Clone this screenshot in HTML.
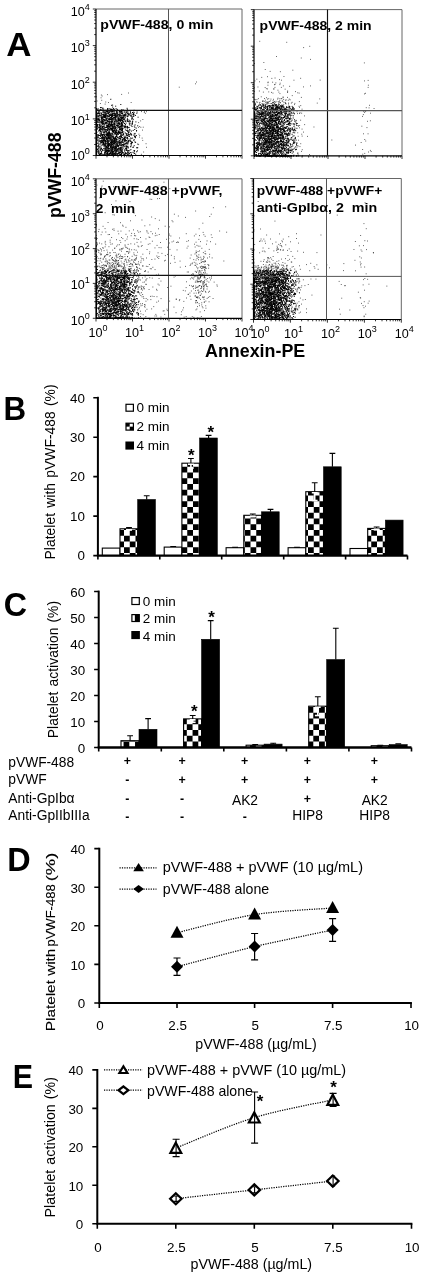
<!DOCTYPE html>
<html><head><meta charset="utf-8"><title>Figure</title>
<style>html,body{margin:0;padding:0;background:#fff}svg{display:block}text{font-family:'Liberation Sans', Arial, sans-serif;fill:#000}</style>
</head><body>
<svg width="423" height="1280" viewBox="0 0 423 1280">
<rect width="423" height="1280" fill="#fff"/>
<path d="M134.6 124.9h1M114.4 111.9h1M121.7 126.3h1M97.2 124.3h1M100.3 130.1h1M119.8 128.1h1M96.6 125.3h1M120.8 112.0h1M105.9 146.5h1M111.6 125.1h1M119.2 154.2h1M117.0 145.9h1M108.3 113.7h1M113.4 140.5h1M119.5 129.8h1M107.4 150.5h1M125.2 137.6h1M121.1 154.0h1M107.7 134.8h1M125.8 110.6h1M96.8 128.9h1M96.0 126.2h1M117.7 132.0h1M104.1 144.0h1M108.2 126.4h1M110.3 139.9h1M104.7 142.2h1M128.1 134.1h1M112.5 111.2h1M106.5 120.2h1M106.0 127.5h1M117.7 151.6h1M97.1 122.0h1M107.8 136.9h1M107.8 126.3h1M107.9 124.9h1M104.9 117.9h1M96.3 155.5h1M116.1 150.2h1M98.5 147.3h1M122.7 145.9h1M126.6 126.7h1M112.5 154.4h1M134.0 151.2h1M121.1 132.1h1M113.3 151.9h1M108.8 123.5h1M108.7 141.7h1M117.2 145.1h1M116.3 130.1h1M112.3 115.8h1M114.7 142.3h1M96.0 147.0h1M108.0 143.0h1M111.1 123.9h1M98.5 115.2h1M112.9 147.4h1M96.0 155.5h1M122.9 144.4h1M98.4 141.6h1M110.8 122.0h1M121.5 124.7h1M117.8 120.2h1M100.4 138.5h1M103.7 135.4h1M111.5 115.6h1M111.5 155.5h1M96.0 155.5h1M125.3 155.5h1M109.6 118.8h1M122.9 134.8h1M116.8 125.5h1M118.6 124.2h1M120.3 120.3h1M100.2 135.8h1M126.7 141.0h1M134.1 150.6h1M120.5 139.1h1M107.6 148.6h1M99.6 115.4h1M111.6 121.8h1M123.9 141.8h1M105.8 131.5h1M107.5 135.2h1M129.1 129.7h1M117.3 116.4h1M115.6 144.2h1M128.3 127.4h1M108.5 131.2h1M98.1 146.9h1M112.4 124.5h1M103.1 155.5h1M119.0 128.9h1M110.9 109.5h1M114.8 120.0h1M96.0 155.2h1M97.4 109.4h1M96.0 128.4h1M96.0 131.9h1M133.2 110.8h1M119.1 127.2h1M130.4 149.6h1M117.5 120.8h1M96.5 138.8h1M96.0 148.7h1M114.8 137.8h1M113.5 155.3h1M119.3 152.7h1M119.9 149.7h1M130.6 134.5h1M108.9 143.5h1M130.2 152.5h1M106.5 120.4h1M110.6 123.7h1M121.8 121.9h1M97.6 148.7h1M117.5 125.9h1M127.7 147.0h1M99.9 135.2h1M103.5 139.3h1M119.9 131.9h1M107.3 130.2h1M124.1 112.0h1M97.7 127.7h1M111.7 139.1h1M109.2 119.2h1M106.7 153.5h1M106.3 117.0h1M126.5 127.3h1M120.3 147.5h1M110.2 117.3h1M108.7 151.7h1M118.4 155.5h1M115.2 140.4h1M123.4 140.0h1M101.3 131.7h1M115.3 141.3h1M127.3 130.8h1M120.2 113.0h1M96.1 122.0h1M117.9 146.8h1M105.0 136.8h1M120.8 116.9h1M96.0 110.7h1M119.3 117.0h1M111.1 138.9h1M131.1 142.9h1M106.5 146.4h1M122.1 120.5h1M113.7 115.7h1M115.6 132.3h1M119.1 132.7h1M121.7 124.6h1M107.1 135.9h1M101.8 129.1h1M114.2 148.3h1M110.5 151.1h1M101.6 141.5h1M117.2 146.2h1M126.0 148.8h1M113.7 113.2h1M116.7 125.5h1M111.9 136.4h1M115.2 106.2h1M99.7 154.6h1M107.1 143.4h1M124.9 113.8h1M123.2 110.5h1M114.0 121.4h1M107.9 147.8h1M104.9 129.4h1M103.4 154.7h1M104.5 147.9h1M116.9 112.9h1M115.0 155.5h1M112.7 151.0h1M116.6 145.8h1M122.0 129.5h1M124.7 147.0h1M123.4 138.2h1M130.4 113.4h1M110.1 147.4h1M103.5 154.4h1M96.4 127.0h1M104.5 154.3h1M101.5 129.1h1M107.4 149.9h1M114.9 154.7h1M96.0 126.2h1M96.1 121.0h1M96.0 149.0h1M108.1 146.4h1M100.8 115.1h1M107.8 148.6h1M119.3 144.7h1M118.8 142.0h1M122.3 147.7h1M112.6 151.9h1M123.9 114.4h1M113.1 153.8h1M108.9 116.0h1M103.5 133.0h1M119.5 155.5h1M123.8 149.9h1M135.7 128.1h1M96.0 132.9h1M104.9 141.6h1M98.5 146.3h1M96.0 110.1h1M109.3 122.2h1M106.2 122.4h1M110.7 114.9h1M133.7 145.7h1M121.2 141.4h1M101.3 118.1h1M106.6 136.1h1M113.1 138.5h1M98.1 119.1h1M108.6 110.6h1M113.3 113.2h1M126.8 121.0h1M104.0 140.1h1M113.8 124.9h1M120.7 147.6h1M122.6 148.2h1M120.3 145.0h1M112.7 124.1h1M123.1 110.0h1M117.6 123.4h1M123.8 146.3h1M104.9 123.6h1M104.7 144.8h1M131.7 117.2h1M115.7 134.4h1M115.5 147.4h1M126.9 143.9h1M120.5 155.5h1M101.1 140.2h1M106.6 144.8h1M129.5 139.2h1M102.5 122.8h1M105.4 114.9h1M103.2 123.8h1M110.4 127.9h1M131.7 142.7h1M107.6 155.5h1M99.0 129.7h1M114.9 152.9h1M100.8 154.8h1M112.6 122.7h1M107.9 150.6h1M96.0 115.5h1M112.8 128.2h1M113.6 132.4h1M107.5 108.9h1M96.0 150.6h1M97.6 142.8h1M130.7 138.6h1M96.0 112.2h1M108.8 155.5h1M97.2 127.0h1M112.3 115.4h1M129.3 150.3h1M108.7 126.5h1M126.7 119.9h1M125.3 143.7h1M108.6 131.9h1M106.4 135.0h1M106.0 138.3h1M119.6 129.3h1M125.4 154.2h1M96.0 116.7h1M116.1 155.5h1M111.7 110.1h1M112.0 116.4h1M112.3 113.6h1M103.2 114.5h1M96.0 129.5h1M119.4 141.7h1M115.1 127.7h1M113.5 128.2h1M106.3 147.3h1M102.1 121.2h1M120.9 148.0h1M112.0 129.8h1M107.8 141.4h1M106.5 141.4h1M127.7 114.2h1M106.7 123.0h1M121.8 152.9h1M115.2 116.0h1M130.0 111.2h1M120.6 120.0h1M117.3 126.5h1M126.6 142.9h1M116.6 121.9h1M96.0 143.6h1M121.5 117.5h1M137.2 125.8h1M120.6 142.4h1M105.6 114.1h1M102.5 121.2h1M105.4 148.7h1M100.5 148.1h1M135.1 155.5h1M120.3 119.3h1M111.7 152.9h1M130.9 145.0h1M115.4 121.8h1M112.6 144.6h1M131.9 142.3h1M121.0 155.5h1M121.7 151.7h1M98.6 130.5h1M109.5 150.8h1M136.3 113.3h1M99.4 155.5h1M119.0 142.5h1M99.8 149.3h1M130.3 116.1h1M102.3 124.7h1M106.5 152.8h1M129.2 155.2h1M128.0 152.8h1M98.7 119.1h1M118.7 122.7h1M108.2 132.5h1M116.3 134.8h1M104.8 140.4h1M122.0 132.6h1M96.0 150.4h1M122.2 118.1h1M98.6 122.1h1M102.3 126.7h1M99.3 147.0h1M104.6 152.3h1M96.3 109.3h1M127.5 113.0h1M123.1 117.2h1M96.0 122.7h1M123.1 133.4h1M122.3 117.3h1M128.7 122.1h1M96.0 139.5h1M102.1 123.2h1M99.7 155.5h1M113.9 141.2h1M96.0 117.6h1M100.9 133.7h1M113.8 130.2h1M107.0 126.9h1M133.6 110.3h1M104.5 155.2h1M102.9 126.1h1M112.5 141.5h1M112.9 147.8h1M102.2 154.3h1M102.9 132.0h1M112.1 152.4h1M105.7 129.5h1M109.4 138.1h1M105.8 134.5h1M113.4 114.2h1M121.7 152.5h1M96.0 126.5h1M96.0 139.4h1M105.3 150.9h1M130.6 141.6h1M135.0 115.4h1M96.0 146.0h1M109.5 121.7h1M100.7 145.3h1M109.6 134.8h1M120.2 133.4h1M122.3 155.5h1M96.0 118.6h1M113.2 136.4h1M108.5 154.1h1M96.0 153.7h1M115.1 116.5h1M128.7 134.6h1M118.2 148.3h1M132.1 121.8h1M118.1 153.7h1M127.6 116.0h1M109.7 155.5h1M118.3 155.5h1M125.4 140.5h1M115.2 131.4h1M104.3 155.2h1M121.2 146.0h1M104.3 112.4h1M125.1 121.2h1M123.3 155.5h1M120.8 115.4h1M114.1 142.5h1M102.9 142.3h1M129.5 125.2h1M108.6 132.9h1M127.9 147.9h1M115.2 128.7h1M124.3 126.3h1M112.5 141.9h1M133.2 116.5h1M131.2 119.0h1M111.2 119.7h1M96.0 125.5h1M126.3 147.5h1M109.7 128.1h1M104.7 149.2h1M114.6 152.1h1M101.7 134.5h1M116.7 143.7h1M108.2 129.3h1M96.0 153.1h1M119.2 133.4h1M102.5 155.5h1M102.2 134.5h1M111.7 128.7h1M104.2 135.1h1M115.8 151.9h1M96.0 123.5h1M99.4 133.0h1M101.9 129.2h1M126.9 126.4h1M96.9 113.8h1M115.5 138.8h1M122.1 113.8h1M110.6 150.9h1M102.0 135.5h1M110.5 153.2h1M116.1 143.9h1M117.4 113.0h1M116.3 110.1h1M97.8 137.7h1M109.5 145.3h1M109.0 145.2h1M111.4 109.1h1M115.7 140.9h1M117.1 144.2h1M105.7 119.6h1M117.6 132.3h1M108.8 138.1h1M116.9 115.2h1M110.0 119.5h1M100.2 155.4h1M111.4 111.9h1M99.7 138.4h1M137.3 144.1h1M104.6 110.3h1M124.1 137.4h1M107.5 125.6h1M112.2 120.9h1M96.0 148.5h1M109.0 133.3h1M122.4 155.4h1M117.7 134.1h1M112.7 154.0h1M106.7 126.0h1M108.9 138.3h1M122.9 115.7h1M97.3 120.3h1M119.8 126.5h1M114.8 144.1h1M119.8 152.4h1M103.6 117.0h1M99.1 111.2h1M96.8 140.8h1M111.0 143.9h1M110.7 137.7h1M102.0 144.9h1M118.6 132.3h1M108.7 124.2h1M102.0 127.6h1M121.1 153.2h1M121.6 150.7h1M100.4 134.8h1M96.0 124.0h1M111.3 117.2h1M114.3 124.7h1M105.7 141.7h1M130.9 143.1h1M111.4 126.0h1M110.9 141.2h1M97.9 118.1h1M96.0 126.0h1M122.6 155.5h1M114.0 123.8h1M108.7 150.8h1M113.8 139.3h1M104.5 114.6h1M99.1 130.7h1M107.4 116.1h1M101.1 110.2h1M110.0 142.7h1M121.1 118.9h1M114.9 138.3h1M96.0 154.2h1M119.9 154.4h1M132.9 147.1h1M104.5 127.4h1M103.7 129.8h1M121.0 118.1h1M110.1 147.8h1M118.0 121.0h1M125.7 142.4h1M115.9 146.2h1M102.5 123.4h1M116.7 133.7h1M113.0 108.6h1M120.4 145.7h1M108.6 148.8h1M131.3 116.2h1M97.4 118.9h1M96.0 153.5h1M110.8 142.4h1M105.8 133.8h1M114.1 153.4h1M113.1 143.2h1M122.3 115.9h1M102.3 118.0h1M111.0 148.7h1M102.9 145.1h1M126.1 140.7h1M121.0 125.7h1M112.1 147.1h1M127.0 154.8h1M115.1 133.6h1M117.7 119.1h1M113.7 109.4h1M107.6 128.7h1M118.9 116.0h1M104.6 131.8h1M96.7 149.4h1M113.1 138.2h1M115.9 130.3h1M96.0 133.4h1M111.6 118.9h1M112.2 134.4h1M101.3 137.6h1M104.0 132.8h1M96.0 130.9h1M101.2 155.4h1M105.9 139.0h1M110.2 128.7h1M96.0 121.7h1M106.9 137.8h1M98.5 120.4h1M96.0 136.0h1M116.3 140.8h1M96.0 144.5h1M119.1 112.1h1M106.4 125.4h1M124.3 143.9h1M100.8 125.3h1M113.1 132.6h1M116.4 113.2h1M112.6 155.5h1M101.7 121.5h1M114.8 138.0h1M120.1 121.4h1M109.1 129.5h1M105.0 155.5h1M125.6 123.1h1M120.5 128.5h1M109.8 152.3h1M101.3 155.5h1M105.3 138.0h1M128.6 127.7h1M125.9 134.1h1M115.0 155.5h1M111.7 149.7h1M120.9 123.5h1M127.2 127.4h1M120.0 120.4h1M124.6 141.2h1M110.6 146.9h1M108.7 118.8h1M106.2 149.6h1M99.4 155.5h1M116.3 141.6h1M115.1 138.0h1M107.9 146.2h1M125.9 112.6h1M120.5 149.7h1M97.7 154.1h1M120.4 125.9h1M110.5 145.8h1M100.4 143.9h1M111.3 134.2h1M120.3 143.6h1M123.3 131.9h1M106.6 150.4h1M110.7 129.0h1M112.1 155.5h1M102.8 132.7h1M96.0 123.9h1M133.1 113.7h1M110.4 128.6h1M100.9 148.8h1M122.3 144.6h1M115.4 120.7h1M109.6 153.1h1M120.8 126.3h1M128.2 140.5h1M112.4 115.0h1M114.5 141.9h1M103.8 138.7h1M119.8 149.7h1M101.1 132.9h1M114.3 110.6h1M96.1 135.1h1M116.6 123.7h1M128.4 136.2h1M104.1 153.8h1M105.9 131.2h1M121.2 127.2h1M101.4 126.5h1M97.5 143.5h1M127.2 146.2h1M96.0 141.5h1M119.8 155.5h1M107.5 153.5h1M117.6 141.4h1M128.1 132.7h1M104.4 111.8h1M114.5 127.6h1M128.4 130.8h1M121.4 117.8h1M107.0 135.0h1M96.5 155.5h1M119.2 124.7h1M119.1 124.0h1M96.0 125.7h1M120.0 117.3h1M118.5 118.8h1M101.1 119.0h1M119.3 155.4h1M111.2 111.3h1M96.0 129.3h1M118.6 126.8h1M99.2 129.6h1M96.0 143.3h1M105.1 145.7h1M98.5 116.5h1M96.0 129.6h1M96.0 150.0h1M131.5 126.5h1M114.5 132.8h1M118.7 155.5h1M117.0 125.3h1M112.4 137.7h1M97.3 139.9h1M96.0 152.3h1M115.4 127.0h1M111.3 128.7h1M127.5 113.3h1M111.9 118.6h1M117.4 110.5h1M121.1 120.1h1M117.8 142.4h1M108.9 135.5h1M125.4 153.3h1M120.9 130.5h1M96.0 143.6h1M96.0 128.6h1M133.8 126.1h1M119.9 154.4h1M104.8 115.2h1M127.6 155.5h1M112.5 129.9h1M96.4 150.9h1M100.4 155.5h1M96.0 134.6h1M105.6 151.1h1M123.6 155.5h1M117.9 120.6h1M116.7 144.2h1M121.9 110.1h1M103.6 127.0h1M111.1 140.3h1M102.8 155.5h1M115.8 116.0h1M108.9 154.3h1M113.2 117.4h1M110.2 129.0h1M114.4 130.2h1M122.2 152.5h1M106.6 135.6h1M117.0 155.5h1M118.4 120.8h1M96.0 127.0h1M115.4 149.3h1M134.8 136.5h1M99.5 150.1h1M110.2 125.7h1M111.4 150.2h1M120.6 148.6h1M115.8 145.8h1M100.9 110.3h1M96.0 121.0h1M131.2 135.0h1M127.1 121.2h1M96.0 138.0h1M103.0 143.5h1M96.2 120.9h1M121.0 155.5h1M110.6 120.1h1M109.9 155.4h1M98.5 115.4h1M108.5 122.1h1M121.0 154.7h1M103.7 139.8h1M96.0 143.4h1M105.5 147.3h1M102.9 144.6h1M105.3 134.3h1M103.8 155.5h1M96.0 147.4h1M108.7 138.4h1M115.5 123.9h1M122.4 121.4h1M121.3 122.8h1M117.2 125.6h1M96.9 113.4h1M126.9 135.5h1M101.8 141.4h1M120.0 155.5h1M103.0 119.5h1M119.4 127.4h1M111.7 152.0h1M101.0 134.9h1M96.0 111.7h1M101.9 127.0h1M108.0 144.3h1M101.3 119.3h1M105.8 137.4h1M111.0 155.5h1M115.8 151.3h1M111.8 110.8h1M101.7 155.5h1M98.4 124.7h1M106.5 154.6h1M96.0 138.5h1M112.8 145.4h1M110.9 142.3h1M104.3 155.5h1M114.1 139.7h1M121.6 128.1h1M107.1 133.7h1M135.2 154.2h1M125.7 114.2h1M124.8 114.6h1M109.1 136.6h1M103.7 140.3h1M125.2 155.5h1M103.1 155.5h1M122.2 140.6h1M99.3 153.7h1M122.7 126.7h1M109.3 148.2h1M124.0 127.7h1M113.1 143.3h1M104.0 116.1h1M116.7 124.7h1M99.4 124.3h1M96.0 146.8h1M96.3 136.7h1M131.9 124.2h1M101.2 142.6h1M109.8 155.5h1M120.4 141.1h1M96.0 115.1h1M114.2 138.8h1M111.7 109.6h1M111.5 130.1h1M116.1 117.0h1M109.2 155.5h1M127.1 127.8h1M113.6 134.7h1M106.5 140.7h1M115.7 114.2h1M121.0 155.5h1M114.5 138.0h1M116.8 145.6h1M120.1 111.2h1M111.3 116.5h1M127.3 151.2h1M111.5 154.6h1M121.7 149.2h1M111.1 110.1h1M122.6 115.4h1M126.9 118.3h1M119.7 139.5h1M107.8 134.8h1M112.0 125.2h1M110.7 122.0h1M96.0 155.5h1M105.0 151.0h1M117.9 127.4h1M107.9 146.6h1M121.4 113.4h1M110.1 155.5h1M103.2 109.2h1M103.5 146.2h1M115.2 153.3h1M101.1 138.2h1M104.7 116.7h1M130.0 133.3h1M121.2 113.4h1M112.0 114.3h1M104.7 113.1h1M96.0 142.6h1M118.7 136.9h1M116.0 155.5h1M123.0 142.2h1M96.0 137.2h1M124.2 151.2h1M113.9 123.5h1M107.0 140.2h1M96.0 151.5h1M115.2 154.1h1M110.6 155.5h1M114.8 126.4h1M118.0 131.9h1M96.0 139.3h1M128.3 140.9h1M116.1 136.5h1M115.7 136.1h1M108.5 110.6h1M105.0 116.6h1M117.3 114.8h1M136.4 147.7h1M103.4 115.2h1M120.6 116.1h1M119.7 147.9h1M119.8 115.2h1M105.2 116.1h1M100.8 123.8h1M96.0 124.1h1M110.5 115.5h1M113.6 113.5h1M96.0 119.3h1M98.4 153.1h1M100.4 146.9h1M105.4 152.6h1M107.7 140.7h1M117.7 155.5h1M108.8 137.6h1M99.1 113.4h1M121.1 111.1h1M105.2 155.5h1M111.4 124.5h1M123.6 119.0h1M122.7 155.5h1M103.0 155.5h1M102.7 139.3h1M96.0 155.5h1M101.1 129.7h1M100.2 149.0h1M108.8 122.1h1M107.5 137.0h1M106.0 135.0h1M106.5 147.7h1M104.0 117.2h1M103.4 123.7h1M133.0 155.5h1M120.0 138.2h1M113.3 120.9h1M111.7 155.5h1M96.0 119.1h1M107.1 111.6h1M118.8 119.7h1M127.1 120.2h1M126.7 130.4h1M120.6 122.9h1M112.5 135.8h1M105.4 136.1h1M127.7 121.4h1M96.0 134.1h1M100.0 141.0h1M115.6 147.0h1M118.9 138.3h1M134.1 136.5h1M119.0 120.4h1M97.7 122.3h1M117.3 118.1h1M119.4 115.0h1M127.0 138.8h1M98.2 140.1h1M118.4 118.9h1M109.5 148.5h1M102.4 119.6h1M118.0 132.4h1M99.4 127.7h1M123.9 123.5h1M96.5 129.1h1M109.9 146.3h1M112.5 155.5h1M116.9 109.4h1M132.4 114.4h1M114.0 131.0h1M117.9 120.0h1M131.0 154.5h1M120.1 138.3h1M96.5 128.5h1M96.8 124.5h1M118.7 155.5h1M102.2 110.1h1M122.8 116.8h1M127.5 155.4h1M105.9 118.9h1M121.3 117.9h1M126.0 146.4h1M99.2 120.7h1M104.7 141.9h1M110.3 139.0h1M127.0 152.2h1M122.1 129.3h1M112.1 131.5h1M109.0 153.5h1M96.3 140.2h1M117.7 146.6h1M99.9 128.5h1M116.4 144.0h1M111.1 129.6h1M109.2 121.2h1M111.9 142.4h1M116.0 139.5h1M98.3 151.2h1M111.5 144.0h1M101.9 136.1h1M108.5 119.4h1M106.1 134.9h1M105.0 117.2h1M97.1 151.2h1M114.7 147.1h1M107.2 155.5h1M109.7 115.4h1M126.4 153.5h1M112.6 131.3h1M120.9 129.0h1M121.3 150.1h1M116.6 113.2h1M97.2 146.4h1M115.8 153.3h1M105.6 123.4h1M117.3 133.5h1M129.5 130.1h1M96.0 131.4h1M109.3 112.5h1M106.8 118.8h1M100.4 141.4h1M107.0 125.5h1M96.0 132.4h1M106.2 111.5h1M126.8 137.9h1M99.8 155.5h1M124.5 115.4h1M125.7 146.4h1M111.8 120.1h1M113.6 128.8h1M131.6 123.5h1M106.7 126.9h1M121.9 112.9h1M116.7 119.2h1M118.4 123.8h1M130.2 141.1h1M116.0 132.7h1M112.1 144.3h1M107.1 138.6h1M112.6 136.8h1M105.1 140.4h1M96.0 143.4h1M106.1 150.8h1M124.0 144.2h1M125.9 148.5h1M98.3 131.1h1M118.3 150.6h1M104.2 144.4h1M96.0 149.8h1M114.4 125.0h1M134.4 141.9h1M113.6 155.3h1M96.0 119.5h1M96.0 135.1h1M122.7 117.6h1M102.9 137.4h1M121.7 142.1h1M103.3 136.2h1M125.2 153.3h1M132.5 152.3h1M110.1 109.8h1M129.4 121.6h1M101.3 122.9h1M97.1 149.5h1M115.2 118.3h1M113.0 130.9h1M96.0 136.4h1M106.8 147.4h1M128.9 153.3h1M101.0 118.4h1M99.0 115.0h1M121.9 142.3h1M103.3 126.7h1M122.0 128.6h1M107.3 134.8h1M99.9 133.9h1M105.3 129.8h1M99.4 141.6h1M103.4 123.9h1M96.0 138.1h1M118.9 132.3h1M119.9 150.3h1M113.3 110.8h1M96.0 155.4h1M121.9 124.9h1M107.1 126.2h1M98.4 144.6h1M100.1 155.5h1M104.6 143.9h1M108.0 145.6h1M132.0 123.2h1M104.9 127.4h1M118.4 125.9h1M103.3 117.7h1M122.4 155.5h1M115.6 131.3h1M104.3 137.8h1M121.5 118.1h1M111.5 136.4h1M98.8 138.2h1M114.9 155.5h1M116.3 142.6h1M108.4 134.4h1M129.4 140.6h1M113.8 138.8h1M111.9 127.2h1M107.5 142.1h1M114.6 116.6h1M101.3 137.7h1M111.1 141.1h1M107.9 138.6h1M114.1 117.7h1M112.7 131.5h1M112.3 113.5h1M123.5 155.3h1M108.2 145.4h1M106.6 117.8h1M96.0 155.5h1M122.8 119.7h1M112.4 126.4h1M100.7 121.7h1M126.9 137.8h1M103.9 137.2h1M115.5 151.2h1M132.3 155.5h1M106.6 133.2h1M110.2 142.0h1M99.1 155.5h1M127.0 146.8h1M118.9 151.1h1M96.0 148.8h1M135.9 135.6h1M111.5 111.3h1M96.0 130.3h1M121.3 125.3h1M103.5 150.4h1M120.8 123.6h1M107.5 115.3h1M105.7 113.3h1M128.8 123.8h1M107.8 133.4h1M100.5 116.9h1M106.9 152.8h1M104.7 121.0h1M112.1 121.9h1M124.1 119.3h1M116.3 141.2h1M109.9 149.8h1M123.7 153.1h1M124.1 123.4h1M115.2 146.6h1M112.3 111.9h1M104.6 153.3h1M122.7 119.3h1M109.2 133.6h1M118.3 149.1h1M118.4 145.7h1M112.8 143.4h1M98.9 140.2h1M112.4 146.4h1M112.2 148.7h1M105.5 112.1h1M112.2 140.9h1M108.7 126.6h1M125.1 126.0h1M124.5 141.1h1M97.6 116.6h1M112.4 140.5h1M111.3 151.8h1M119.2 153.2h1M130.2 146.8h1M106.8 154.0h1M116.7 128.2h1M101.3 128.6h1M109.2 155.5h1M96.0 108.8h1M114.3 121.2h1M106.9 129.8h1M97.6 134.5h1M109.8 146.4h1M102.2 120.3h1M105.4 115.8h1M107.6 154.3h1M127.8 134.4h1M102.2 143.0h1M117.4 115.7h1M114.1 153.6h1M118.2 118.5h1M116.8 153.4h1M113.2 125.9h1M134.4 127.3h1M110.9 117.7h1M120.7 151.5h1M100.9 134.9h1M96.0 155.5h1M136.1 151.8h1M97.9 150.1h1M116.7 149.3h1M114.9 113.7h1M115.5 134.3h1M110.3 146.4h1M104.3 137.2h1M108.2 151.1h1M125.9 149.8h1M122.0 129.6h1M109.2 124.7h1M104.5 131.7h1M105.8 111.1h1M96.0 119.1h1M120.9 136.4h1M111.6 118.3h1M104.5 145.2h1M96.7 119.8h1M137.2 147.7h1M109.3 155.5h1M108.9 119.4h1M108.9 134.1h1M122.1 117.3h1M107.6 133.5h1M118.7 118.2h1M108.1 126.2h1M99.8 126.4h1M118.7 114.5h1M119.2 148.1h1M101.0 113.4h1M125.6 133.6h1M102.3 121.9h1M107.2 126.1h1M96.0 139.1h1M115.1 132.9h1M99.8 113.0h1M120.5 137.1h1M115.1 115.6h1M120.1 155.0h1M100.5 132.1h1M110.0 125.9h1M109.4 140.4h1M118.5 152.6h1M117.8 114.6h1M99.1 124.2h1M124.3 138.4h1M125.4 153.4h1M131.8 118.3h1M132.8 119.3h1M132.2 121.1h1M127.1 116.4h1M119.3 145.0h1M111.8 130.6h1M115.4 131.6h1M97.2 137.2h1M96.0 135.4h1M134.2 129.5h1M126.4 110.5h1M119.0 136.8h1M127.5 138.9h1M111.6 124.3h1M121.9 132.8h1M124.0 138.5h1M108.4 127.3h1M105.6 123.8h1M101.3 122.2h1M121.0 153.6h1M96.0 127.2h1M96.0 140.8h1M124.7 117.6h1M110.4 128.2h1M118.7 120.2h1M118.0 118.2h1M98.1 152.0h1M107.4 148.6h1M109.0 118.1h1M100.0 153.8h1M123.7 115.6h1M114.1 130.5h1M124.0 140.1h1M113.5 126.4h1M96.0 146.2h1M114.4 123.9h1M128.6 115.0h1M108.9 155.3h1M106.9 109.5h1M96.0 143.3h1M120.1 135.9h1M102.6 111.8h1M96.0 121.3h1M119.3 142.8h1M119.5 111.0h1M116.3 154.2h1M119.3 129.8h1M110.2 137.8h1M104.7 113.8h1M104.5 155.5h1M118.2 138.0h1M108.0 136.3h1M123.1 152.9h1M101.2 122.1h1M107.0 120.9h1M102.1 117.0h1M117.8 145.5h1M123.1 134.5h1M117.2 110.8h1M112.3 154.3h1M127.6 121.3h1M114.1 141.0h1M96.5 113.9h1M100.1 129.7h1M103.0 114.9h1M119.9 155.2h1M115.9 125.5h1M103.2 137.6h1M100.9 148.4h1M108.4 140.8h1M116.6 120.9h1M120.8 125.5h1M96.6 126.1h1M119.3 143.9h1M125.5 136.0h1M106.3 138.6h1M102.5 114.5h1M96.0 114.9h1M117.4 137.8h1M135.0 137.7h1M96.0 146.1h1M119.1 129.5h1M108.2 149.9h1M133.3 115.1h1M115.2 139.2h1M123.2 155.5h1M96.4 145.4h1M112.7 143.2h1M102.9 140.5h1M116.2 112.5h1M102.4 123.4h1M104.0 145.7h1M115.8 150.5h1M125.0 140.1h1M110.7 136.4h1M115.1 119.1h1M104.9 131.0h1M99.6 109.9h1M124.4 115.5h1M115.0 114.3h1M115.3 142.8h1M113.5 138.0h1M104.5 127.9h1M123.4 125.4h1M106.6 116.3h1M119.7 120.4h1M107.1 142.4h1M99.4 119.6h1M118.8 140.6h1M108.3 121.0h1M124.6 155.5h1M133.3 114.9h1M103.2 128.7h1M107.9 151.1h1M112.8 148.0h1M127.8 142.0h1M112.9 130.7h1M98.4 113.5h1M128.4 131.7h1M114.8 154.2h1M122.0 113.4h1M120.9 111.5h1M106.1 153.9h1M121.0 129.1h1M113.9 126.4h1M102.2 124.3h1M120.7 155.5h1M105.4 144.1h1M114.8 138.9h1M106.1 126.2h1M96.0 155.5h1M98.1 145.4h1M110.1 153.6h1M128.8 153.6h1M100.0 131.6h1M98.4 148.6h1M107.4 133.8h1M96.0 152.2h1M110.0 125.7h1M107.8 154.4h1M106.7 121.5h1M99.3 130.4h1M96.0 150.5h1M106.2 139.2h1M110.0 138.1h1M96.4 132.2h1M119.0 123.4h1M96.0 155.5h1M117.2 150.1h1M105.3 122.8h1M106.6 155.5h1M110.4 113.8h1M96.5 138.0h1M128.0 155.5h1M122.8 122.7h1M115.8 136.5h1M101.2 107.6h1M116.9 111.0h1M133.4 110.6h1M108.5 112.8h1M123.3 154.3h1M122.5 155.3h1M111.2 141.3h1M123.5 136.1h1M100.3 142.5h1M107.0 128.2h1M106.2 118.8h1M129.1 124.1h1M102.4 108.1h1M111.6 128.5h1M111.3 112.9h1M120.2 155.4h1M109.2 155.5h1M132.1 138.1h1M96.0 108.9h1M116.4 136.9h1M118.3 148.3h1M106.3 150.2h1M96.0 145.4h1M96.0 115.9h1M120.0 142.6h1M109.3 114.9h1M107.7 112.1h1M102.8 121.1h1M100.9 117.0h1M126.1 146.8h1M119.8 147.3h1M136.5 147.8h1M123.3 155.5h1M108.0 113.4h1M115.3 151.0h1M106.0 146.5h1M127.9 132.8h1M111.5 137.8h1M128.8 120.3h1M101.0 151.4h1M101.8 149.7h1M114.0 149.8h1M110.7 143.7h1M120.2 118.1h1M117.6 153.8h1M106.5 115.6h1M124.3 120.1h1M120.9 154.2h1M107.7 148.0h1M111.3 117.8h1M114.3 150.8h1M110.4 115.4h1M108.9 127.9h1M109.9 135.4h1M117.7 148.9h1M103.6 129.3h1M109.4 133.8h1M115.3 155.5h1M104.1 116.0h1M128.1 114.8h1M108.9 112.1h1M101.9 127.0h1M115.6 129.5h1M111.5 150.4h1M117.4 115.0h1M110.3 118.1h1M120.6 126.8h1M98.9 129.3h1M108.4 123.3h1M125.4 149.0h1M99.0 154.5h1M114.6 146.0h1M115.8 139.2h1M100.0 153.5h1M101.5 142.3h1M109.1 115.1h1M108.4 124.3h1M116.8 125.6h1M116.8 154.7h1M109.4 139.0h1M135.9 155.5h1M131.4 142.2h1M110.9 144.0h1M124.8 132.9h1M108.1 143.4h1M97.9 119.9h1M133.4 135.2h1M102.2 108.8h1M104.8 143.1h1M96.0 148.2h1M133.2 140.2h1M102.7 116.3h1M105.3 145.9h1M106.8 115.9h1M108.5 126.5h1M110.9 146.9h1M115.2 148.4h1M107.0 152.6h1M111.6 133.5h1M124.6 126.3h1M125.3 143.6h1M125.9 111.1h1M96.0 155.5h1M96.0 118.3h1M102.0 150.7h1M96.0 155.4h1M105.1 117.3h1M114.1 138.9h1M114.6 141.2h1M124.9 155.5h1M117.1 149.3h1M119.4 140.6h1M96.0 112.3h1M121.1 111.6h1M112.2 153.6h1M97.7 135.5h1M104.7 152.8h1M104.6 151.7h1M106.8 130.6h1M109.4 129.0h1M126.9 113.3h1M110.6 110.4h1M117.6 153.6h1M96.0 123.1h1M101.1 118.9h1M99.2 126.1h1M108.0 128.7h1M117.5 134.2h1M117.3 133.2h1M122.9 138.8h1M101.5 135.9h1M113.9 113.3h1M113.2 141.9h1M117.1 137.6h1M107.6 133.2h1M100.7 116.0h1M96.2 148.1h1M124.6 139.4h1M135.4 121.9h1M104.9 136.4h1M97.2 118.2h1M109.7 134.9h1M104.8 151.1h1M101.1 140.3h1M112.3 151.3h1M122.1 131.4h1M114.0 143.8h1M102.6 141.3h1M121.0 122.6h1M111.7 115.4h1M104.2 120.0h1M114.1 118.0h1M107.7 118.2h1M111.9 111.4h1M111.7 147.8h1M101.5 114.9h1M111.5 144.0h1M120.8 145.1h1M108.7 122.1h1M116.8 150.2h1M103.4 116.3h1M109.6 108.8h1M118.3 155.5h1M103.6 128.4h1M106.4 111.6h1M104.5 130.6h1M125.5 127.0h1M115.2 131.4h1M130.7 134.8h1M98.5 135.4h1M96.0 126.0h1M125.5 115.9h1M113.5 154.8h1M106.8 145.8h1M102.3 155.5h1M113.4 155.5h1M110.8 145.4h1M110.8 114.9h1M135.1 142.4h1M99.7 126.5h1M96.0 146.5h1M133.6 112.6h1M110.5 142.3h1M122.3 139.5h1M106.1 143.1h1M124.9 148.6h1M125.3 155.5h1M111.7 142.5h1M113.3 149.6h1M103.1 155.5h1M96.0 115.2h1M121.8 140.2h1M107.2 155.5h1M128.4 132.3h1M118.1 132.9h1M103.9 125.9h1M102.0 137.6h1M100.1 150.7h1M111.8 130.9h1M134.6 137.5h1M121.3 118.3h1M127.8 141.7h1M110.2 144.2h1M114.0 143.7h1M96.0 146.0h1M108.7 144.9h1M103.8 132.1h1M113.3 117.8h1M101.6 149.4h1M119.1 111.8h1M100.4 140.7h1M115.1 136.8h1M100.2 109.4h1M101.3 117.4h1M136.6 112.0h1M120.2 132.7h1M99.5 143.8h1M111.3 125.1h1M97.5 121.8h1M115.4 152.3h1M111.7 114.7h1M99.7 125.3h1M113.5 115.6h1M112.1 148.6h1M107.4 110.1h1M103.1 142.4h1M114.5 150.5h1M106.8 141.1h1M104.7 143.9h1M105.3 155.5h1M102.5 116.8h1M109.6 114.9h1M115.3 149.7h1M105.7 132.6h1M97.6 112.3h1M122.1 141.1h1M115.9 132.9h1M115.4 147.3h1M124.3 137.8h1M114.1 147.1h1M114.3 119.6h1M125.1 152.7h1M113.7 154.5h1M113.7 117.5h1M107.6 151.0h1M112.1 129.9h1M96.0 124.1h1M107.2 141.1h1M108.2 110.9h1M113.6 146.2h1M121.7 149.8h1M107.8 155.5h1M121.6 111.0h1M116.0 148.1h1M103.5 113.3h1M127.1 131.6h1M116.6 113.8h1M106.4 153.9h1M96.0 115.6h1M107.0 111.3h1M121.9 120.4h1M104.9 149.7h1M112.2 107.1h1M96.9 119.2h1M126.5 149.0h1M102.5 112.0h1M130.5 155.1h1M98.5 155.5h1M114.1 155.5h1M107.6 127.3h1M115.6 138.7h1M100.5 155.4h1M108.6 114.8h1M107.0 153.0h1M101.1 122.5h1M110.3 152.3h1M116.5 132.5h1M96.1 139.8h1M96.0 144.7h1M105.4 155.5h1M109.4 132.8h1M105.6 138.3h1M104.5 122.8h1M107.2 145.5h1M107.0 112.1h1M96.0 155.5h1M132.4 147.4h1M109.7 124.5h1M105.9 151.2h1M108.0 144.5h1M96.0 131.6h1M124.9 124.5h1M127.1 116.1h1M96.0 147.5h1M117.8 131.4h1M97.7 155.5h1M96.0 118.9h1M110.8 124.3h1M120.2 148.9h1M117.6 134.5h1M99.8 122.7h1M118.7 155.5h1M96.6 117.0h1M117.9 122.9h1M129.9 121.1h1M119.1 152.5h1M116.9 121.8h1M99.8 128.6h1M99.3 152.1h1M106.2 148.1h1M137.6 117.2h1M111.3 135.4h1M105.7 148.2h1M102.7 142.2h1M118.2 123.8h1M107.1 150.4h1M137.0 150.9h1M108.0 121.4h1M111.8 114.6h1M96.0 124.9h1M128.6 113.8h1M105.2 140.3h1M122.5 138.9h1M106.1 139.1h1M96.0 145.1h1M107.0 144.3h1M104.1 120.9h1M105.5 143.5h1M110.7 135.7h1M127.0 137.3h1M113.5 109.3h1M109.8 140.0h1M113.8 124.3h1M118.2 143.2h1M122.5 122.1h1M110.9 141.2h1M103.4 155.5h1M102.3 130.3h1M104.9 141.6h1M113.9 148.6h1M110.0 144.1h1M101.4 155.5h1M112.6 131.2h1M110.9 128.6h1M109.7 124.3h1M103.2 134.4h1M104.6 141.6h1M116.5 136.1h1M116.2 115.9h1M114.9 142.7h1M107.4 151.5h1M103.9 155.5h1M96.0 141.4h1M130.9 131.1h1M118.9 131.9h1M111.0 122.8h1M114.4 130.5h1M127.2 150.6h1M103.1 143.8h1M125.5 140.5h1M107.4 152.0h1M115.0 128.6h1M103.8 120.0h1M126.9 153.0h1M96.0 135.4h1M118.3 152.7h1M115.6 120.2h1M119.3 132.4h1M118.3 155.5h1M122.0 129.9h1M103.2 148.4h1M96.0 149.5h1M110.5 126.6h1M107.4 139.2h1M130.0 112.7h1M105.8 114.2h1M96.9 115.8h1M109.3 138.0h1M96.0 113.1h1M113.3 151.3h1M96.0 122.7h1M120.6 136.6h1M104.2 117.3h1M99.7 155.2h1M120.6 129.9h1M120.8 155.5h1M108.7 149.0h1M124.1 126.7h1M133.9 153.5h1M120.2 126.6h1M107.0 130.7h1M116.0 147.3h1M118.7 127.3h1M109.0 132.3h1M105.1 154.9h1M129.6 123.2h1M111.6 121.6h1M104.0 117.4h1M125.4 112.1h1M102.8 140.0h1M121.6 128.2h1M113.9 128.1h1M110.3 155.5h1M96.0 120.8h1M112.1 141.8h1M129.7 141.0h1M101.2 127.8h1M109.0 129.9h1M96.0 118.5h1M99.7 155.5h1M119.4 126.8h1M96.0 144.7h1M123.7 116.1h1M132.3 112.7h1M111.2 125.6h1M116.1 116.0h1M122.1 120.3h1M112.4 126.6h1M118.4 123.7h1M107.0 108.6h1M104.8 148.2h1M117.6 123.3h1M105.5 146.8h1M127.8 135.9h1M126.7 142.3h1M105.8 125.1h1M124.9 129.9h1M132.0 112.5h1M113.9 114.9h1M110.4 153.5h1M126.0 150.4h1M109.4 155.5h1M102.7 128.1h1M128.1 141.8h1M99.7 110.1h1M125.7 145.7h1M118.8 111.4h1M104.8 122.5h1M121.8 123.4h1M118.7 128.9h1M120.2 114.9h1M109.4 143.9h1M124.3 116.0h1M111.0 116.7h1M99.2 129.1h1M112.6 127.4h1M111.1 147.8h1M113.6 140.1h1M130.6 133.8h1M122.2 146.0h1M96.0 155.1h1M111.2 118.8h1M113.2 137.6h1M134.4 135.1h1M125.0 126.7h1M120.9 110.7h1M112.0 133.0h1M108.4 119.4h1M110.6 122.9h1M105.9 155.5h1M121.9 130.6h1M120.2 112.1h1M105.6 118.7h1M131.5 118.9h1M120.6 151.2h1M121.3 120.7h1M113.4 138.3h1M107.8 112.2h1M119.1 119.9h1M107.7 142.9h1M119.6 129.3h1M103.4 138.5h1M123.5 112.0h1M136.1 130.5h1M101.6 155.5h1M118.2 131.7h1M111.5 155.5h1M98.2 153.2h1M126.2 130.6h1M103.1 134.4h1M122.1 155.5h1M125.6 143.7h1M122.9 144.0h1M96.0 143.0h1M110.3 134.7h1M133.6 153.0h1M118.0 155.5h1M112.0 149.8h1M122.5 118.4h1M121.1 109.8h1M118.0 119.5h1M116.7 151.3h1M115.6 122.0h1M96.0 119.4h1M112.5 118.6h1M105.2 120.0h1M96.0 148.7h1M121.9 135.1h1M111.3 133.1h1M119.2 155.1h1M96.0 133.0h1M103.0 140.7h1M113.9 115.4h1M120.7 124.8h1M110.9 119.5h1M116.1 155.5h1M107.6 124.4h1M124.6 121.4h1M116.2 135.4h1M110.5 149.4h1M114.5 133.3h1M96.0 132.4h1M129.3 134.9h1M113.4 144.0h1M99.2 127.5h1M133.1 114.0h1M103.0 142.2h1M104.6 120.6h1M111.1 155.4h1M96.0 123.3h1M111.5 145.2h1M121.7 135.1h1M117.4 139.5h1M118.9 155.5h1M111.9 151.9h1M101.5 140.5h1M122.6 114.3h1M104.0 138.9h1M115.4 117.4h1M123.7 139.8h1M96.0 132.1h1M116.7 149.0h1M118.7 144.9h1M130.7 153.0h1M101.1 153.5h1M118.0 123.1h1M122.1 139.8h1M101.1 117.8h1M112.8 153.2h1M109.4 115.2h1M119.1 149.2h1M110.3 146.2h1M131.0 143.7h1M104.9 143.1h1M104.0 140.9h1M131.5 117.0h1M109.3 155.5h1M130.3 146.2h1M115.3 155.5h1M101.0 120.7h1M124.1 154.6h1M125.9 138.0h1M97.7 116.2h1M111.3 143.2h1M109.0 150.7h1M121.7 144.7h1M114.8 115.2h1M101.5 155.3h1M102.3 122.6h1M115.0 155.4h1M111.7 147.2h1M117.7 117.0h1M117.8 125.3h1M101.6 142.0h1M114.1 122.7h1M103.6 150.0h1M104.1 119.9h1M106.6 132.6h1M126.9 109.3h1M107.3 126.4h1M106.3 130.0h1M103.8 117.4h1M102.5 131.0h1M115.3 155.5h1M108.5 131.0h1M115.6 149.0h1M108.7 127.0h1M107.2 110.9h1M111.1 129.2h1M97.9 113.5h1M111.3 139.7h1M112.9 155.5h1M110.9 154.7h1M115.4 145.1h1M109.1 144.6h1M119.0 143.2h1M108.1 125.1h1M124.3 118.2h1M102.5 122.1h1M104.1 124.3h1M109.9 111.4h1M106.7 123.2h1M108.6 132.3h1M107.5 140.0h1M109.1 153.5h1M124.2 155.5h1M96.0 115.1h1M107.5 151.9h1M102.2 118.0h1M107.4 135.0h1M127.3 154.6h1M96.0 123.2h1M96.0 124.2h1M103.2 112.1h1M108.2 135.1h1M133.2 114.6h1M97.1 135.0h1M96.0 145.6h1M114.1 140.9h1M99.9 131.0h1M96.0 116.4h1M108.9 116.4h1M103.7 116.6h1M111.7 130.7h1M126.4 134.8h1M109.4 134.0h1M105.2 112.2h1M119.6 142.5h1M124.4 155.5h1M101.5 141.9h1M98.9 125.6h1M114.5 114.4h1M110.6 114.2h1M115.7 121.9h1M112.6 124.2h1M102.5 121.1h1M122.7 121.6h1M107.9 124.8h1M119.0 113.9h1M120.6 113.0h1M114.8 155.5h1M110.2 152.2h1M115.6 108.6h1M113.8 126.1h1M103.3 155.5h1M107.8 113.6h1M113.1 152.0h1M96.0 128.9h1M96.0 138.5h1M115.2 148.7h1M106.6 147.3h1M128.4 151.9h1M96.0 142.1h1M96.0 152.1h1M120.2 129.2h1M96.0 142.5h1M115.1 119.1h1M101.6 114.6h1M99.1 122.0h1M127.3 119.5h1M96.0 155.5h1M128.3 110.9h1M136.0 131.0h1M120.8 135.7h1M103.6 129.5h1M104.4 148.6h1M103.8 135.8h1M106.3 155.5h1M119.8 119.2h1M104.0 134.9h1M120.1 152.2h1M110.4 109.6h1M96.0 133.3h1M96.0 120.1h1M115.8 120.1h1M122.0 125.8h1M106.4 137.2h1M117.0 142.2h1M99.0 154.5h1M109.1 125.8h1M106.9 154.8h1M118.4 141.2h1M102.3 118.1h1M105.3 115.8h1M120.6 119.4h1M124.5 150.2h1M111.0 110.7h1M127.9 150.5h1M121.3 111.7h1M110.5 121.6h1M96.0 110.2h1M117.6 130.4h1M113.0 141.9h1M97.9 111.8h1M96.4 143.3h1M117.6 145.4h1M115.9 134.4h1M107.7 146.5h1M126.1 135.2h1M114.3 150.6h1M97.4 136.8h1M103.5 115.4h1M104.6 114.6h1M121.0 123.3h1M131.8 122.2h1M102.3 140.5h1M114.7 118.1h1M111.8 153.7h1M105.3 151.2h1M96.0 153.9h1M109.6 136.4h1M134.6 155.5h1M96.0 123.1h1M123.0 145.8h1M106.0 122.6h1M120.8 133.9h1M115.2 132.3h1M96.5 122.0h1M113.2 118.9h1M119.4 136.6h1M99.7 127.4h1M113.7 147.3h1M126.5 133.7h1M106.0 155.5h1M109.0 111.1h1M129.4 114.3h1M112.6 155.5h1M106.9 155.1h1M102.3 138.6h1M100.1 136.6h1M113.8 133.3h1M133.8 139.8h1M109.6 130.2h1M112.1 139.9h1M118.8 138.5h1M100.8 155.5h1M113.9 129.2h1M104.1 152.7h1M109.9 117.9h1M107.2 129.8h1M121.0 143.0h1M106.4 127.6h1M105.6 110.3h1M102.4 144.1h1M102.0 138.8h1M116.1 111.5h1M122.8 119.1h1M120.4 136.5h1M104.6 140.3h1M111.2 120.9h1M110.6 153.3h1M117.7 149.1h1M126.8 128.9h1M131.1 125.1h1M98.4 127.7h1M108.7 120.0h1M104.0 115.6h1M108.0 137.5h1M124.6 139.4h1M110.5 114.8h1M127.6 143.8h1M104.8 115.2h1M111.1 122.0h1M96.0 114.1h1M125.1 127.8h1M107.1 155.5h1M108.4 119.2h1M108.6 132.8h1M120.7 150.6h1M121.7 152.9h1M105.8 146.3h1M126.8 155.5h1M101.0 152.3h1M125.3 121.0h1M113.5 111.6h1M112.7 110.3h1M122.6 128.3h1M112.3 131.2h1M109.6 154.6h1M107.0 153.4h1M119.4 121.9h1M107.1 134.2h1M111.2 128.3h1M100.2 121.3h1M102.2 120.3h1M113.5 123.3h1M100.8 155.5h1M133.8 133.8h1M114.7 117.1h1M129.8 115.4h1M101.4 112.9h1M124.6 136.8h1M120.6 134.6h1M97.5 152.6h1M99.0 135.5h1M114.7 127.9h1M127.8 114.3h1M110.9 155.5h1M119.6 155.5h1M114.3 140.9h1M124.5 115.0h1M133.4 150.7h1M112.6 119.3h1M115.7 130.4h1M119.3 116.0h1M113.7 140.9h1M122.1 137.6h1M111.8 149.8h1M119.4 133.2h1M107.0 121.2h1M120.2 135.1h1M129.0 136.4h1M96.0 118.0h1M112.4 119.4h1M114.8 147.9h1M97.6 108.8h1M106.5 120.9h1M111.7 144.5h1M98.1 151.1h1M96.0 125.4h1M110.3 133.7h1M111.9 126.4h1M124.6 154.0h1M96.0 122.1h1M108.0 116.6h1M102.4 138.7h1M110.6 145.2h1M119.3 115.3h1M131.1 115.1h1M128.0 154.1h1M115.1 132.7h1M106.9 134.6h1M106.9 138.9h1M111.9 128.7h1M110.7 124.9h1M107.9 135.7h1M126.3 143.7h1M117.6 117.7h1M98.9 120.4h1M104.6 146.3h1M112.2 151.9h1M124.3 140.4h1M108.6 108.9h1M98.0 119.5h1M113.4 146.2h1M119.3 129.9h1M108.7 155.5h1M106.8 113.6h1M103.5 112.1h1M110.9 150.8h1M96.0 143.9h1M111.3 145.8h1M112.8 146.9h1M96.0 123.9h1M112.5 139.5h1M112.2 155.5h1M114.8 148.9h1M121.6 125.0h1M96.6 125.8h1M119.4 155.5h1M134.6 133.4h1M127.0 126.8h1M116.4 127.2h1M120.2 124.0h1M111.1 124.7h1M100.7 142.6h1M125.4 116.0h1M109.6 139.4h1M116.6 154.8h1M113.2 127.7h1M121.8 144.6h1M96.0 124.6h1M130.2 143.8h1M113.4 131.6h1M121.3 132.4h1M97.4 126.3h1M115.0 146.2h1M112.3 127.7h1M96.0 149.2h1M98.4 119.2h1M111.3 151.9h1M121.5 151.7h1M111.7 154.4h1M107.0 125.7h1M120.8 145.2h1M102.2 136.4h1M124.4 144.9h1M120.9 137.4h1M99.8 115.2h1M96.2 114.8h1M125.0 155.5h1M126.9 111.8h1M115.2 137.8h1M99.4 117.8h1M103.4 116.0h1M119.9 148.6h1M110.2 137.0h1M114.9 117.2h1M96.0 133.1h1M112.5 110.5h1M101.4 118.3h1M96.7 125.5h1M123.8 154.6h1M98.5 112.6h1M111.1 150.0h1M106.0 151.3h1M108.0 138.0h1M111.8 147.6h1M107.0 150.3h1M132.7 130.4h1M116.1 114.0h1M110.0 142.4h1M130.3 137.9h1M102.1 126.3h1M123.1 145.1h1M97.8 135.9h1M120.3 104.5h1M111.1 105.3h1M126.6 108.3h1M100.0 107.6h1M96.0 109.2h1M112.1 105.1h1" stroke="#000" stroke-width="1" fill="none"/>
<path d="M142.3 140.4h.9M140.2 120.9h.9M139.0 137.1h.9M138.8 155.5h.9M138.5 155.5h.9M142.4 119.5h.9M138.2 144.6h.9M138.1 127.4h.9M140.4 127.3h.9M143.2 152.0h.9M146.0 147.3h.9M142.8 127.2h.9M138.2 122.6h.9M146.0 111.7h.9M141.1 111.6h.9M139.2 126.5h.9M142.1 130.1h.9M138.5 155.5h.9M141.7 138.1h.9M140.9 154.3h.9M138.5 134.2h.9M144.1 111.8h.9M139.3 135.5h.9M145.6 143.7h.9M143.8 112.3h.9M140.5 155.5h.9M144.9 113.4h.9M110.5 99.2h.9M130.7 102.5h.9M100.9 95.0h.9M110.2 99.4h.9M105.3 102.0h.9M107.0 94.6h.9M96.0 96.8h.9M96.6 101.0h.9M104.7 104.1h.9M121.2 94.4h.9M101.7 96.0h.9M101.3 100.3h.9M100.6 97.8h.9M108.0 102.5h.9M99.9 103.5h.9M128.1 93.0h.9M178.8 87.2h.9M196.1 82.0h.9M195.0 83.8h.9" stroke="#000" stroke-opacity=".7" stroke-width=".95" fill="none"/>
<path d="M96 9H242V155.5" fill="none" stroke="#666" stroke-width="1"/>
<line x1="96" y1="9" x2="96" y2="155.5" stroke="#000" stroke-width="1.2"/>
<line x1="96" y1="155.5" x2="242" y2="155.5" stroke="#000" stroke-width="1.2"/>
<line x1="168.5" y1="9" x2="168.5" y2="155.5" stroke="#555" stroke-width="1"/>
<line x1="96" y1="110.4" x2="242" y2="110.4" stroke="#111" stroke-width="1.25"/>
<path d="M96 155.5h-3.2M96.0 155.5v3.2M96 144.5h-1.8M107.0 155.5v1.8M96 138.0h-1.8M113.4 155.5v1.8M96 133.4h-1.8M118.0 155.5v1.8M96 129.9h-1.8M121.5 155.5v1.8M96 127.0h-1.8M124.4 155.5v1.8M96 124.5h-1.8M126.8 155.5v1.8M96 122.4h-1.8M129.0 155.5v1.8M96 120.6h-1.8M130.8 155.5v1.8M96 118.9h-3.2M132.5 155.5v3.2M96 107.8h-1.8M143.5 155.5v1.8M96 101.4h-1.8M149.9 155.5v1.8M96 96.8h-1.8M154.5 155.5v1.8M96 93.3h-1.8M158.0 155.5v1.8M96 90.4h-1.8M160.9 155.5v1.8M96 87.9h-1.8M163.3 155.5v1.8M96 85.8h-1.8M165.5 155.5v1.8M96 83.9h-1.8M167.3 155.5v1.8M96 82.2h-3.2M169.0 155.5v3.2M96 71.2h-1.8M180.0 155.5v1.8M96 64.8h-1.8M186.4 155.5v1.8M96 60.2h-1.8M191.0 155.5v1.8M96 56.7h-1.8M194.5 155.5v1.8M96 53.8h-1.8M197.4 155.5v1.8M96 51.3h-1.8M199.8 155.5v1.8M96 49.2h-1.8M202.0 155.5v1.8M96 47.3h-1.8M203.8 155.5v1.8M96 45.6h-3.2M205.5 155.5v3.2M96 34.6h-1.8M216.5 155.5v1.8M96 28.2h-1.8M222.9 155.5v1.8M96 23.6h-1.8M227.5 155.5v1.8M96 20.0h-1.8M231.0 155.5v1.8M96 17.1h-1.8M233.9 155.5v1.8M96 14.7h-1.8M236.3 155.5v1.8M96 12.5h-1.8M238.5 155.5v1.8M96 10.7h-1.8M240.3 155.5v1.8M96 9h-3.2M242 155.5v3.2" stroke="#000" stroke-width="0.8" fill="none"/>
<path d="M285.0 138.2h1M271.5 141.0h1M265.6 125.8h1M264.2 139.4h1M285.3 108.7h1M260.9 142.1h1M261.6 119.9h1M279.9 119.2h1M290.1 150.6h1M288.3 124.9h1M293.4 129.4h1M265.1 142.4h1M289.4 121.4h1M290.2 155.8h1M281.7 155.8h1M286.0 109.8h1M295.6 120.4h1M259.0 143.7h1M257.6 155.8h1M277.6 155.8h1M267.2 140.2h1M262.3 150.4h1M264.9 127.0h1M287.9 148.8h1M262.6 112.5h1M265.4 140.4h1M275.0 131.3h1M286.7 135.3h1M254.0 144.0h1M283.9 155.8h1M262.0 129.0h1M254.1 144.2h1M254.0 129.2h1M262.8 116.7h1M283.3 112.0h1M275.8 132.6h1M289.3 118.9h1M264.6 115.4h1M284.6 131.6h1M280.0 109.5h1M267.8 143.4h1M269.8 139.6h1M268.8 129.4h1M282.3 122.3h1M274.2 123.4h1M271.9 122.5h1M275.4 153.3h1M272.4 116.5h1M272.0 111.7h1M261.6 112.9h1M275.3 139.8h1M279.4 147.2h1M275.1 118.9h1M278.1 150.5h1M282.7 141.7h1M285.1 111.0h1M270.2 143.6h1M254.0 136.3h1M276.6 135.1h1M256.2 116.3h1M274.8 121.9h1M265.6 146.1h1M276.5 118.6h1M263.8 124.0h1M289.7 143.6h1M288.2 142.8h1M254.0 129.3h1M254.0 135.0h1M262.7 153.0h1M268.8 155.8h1M267.9 155.0h1M281.1 121.9h1M289.1 106.5h1M278.2 155.8h1M275.3 155.8h1M262.9 132.2h1M267.6 114.6h1M281.1 143.5h1M257.3 147.3h1M268.1 122.0h1M272.0 111.9h1M292.0 107.8h1M292.4 140.2h1M289.8 125.3h1M277.6 125.7h1M260.1 153.9h1M264.9 130.2h1M277.4 155.8h1M264.7 133.3h1M289.0 107.8h1M285.4 113.5h1M280.1 155.8h1M262.7 133.8h1M254.0 109.0h1M265.5 127.3h1M265.4 139.5h1M286.6 153.7h1M269.9 153.1h1M271.7 138.4h1M260.7 114.1h1M257.8 118.3h1M276.3 108.1h1M287.1 116.6h1M289.3 107.1h1M254.0 123.7h1M262.8 124.4h1M281.0 106.5h1M271.8 116.4h1M263.4 108.3h1M279.9 135.1h1M282.0 129.5h1M254.0 155.4h1M275.3 114.4h1M293.5 139.3h1M267.9 120.2h1M267.3 155.8h1M280.5 140.5h1M267.5 150.4h1M287.9 140.1h1M281.5 124.9h1M277.9 134.8h1M254.0 155.8h1M283.2 129.7h1M282.4 155.8h1M270.0 128.5h1M280.3 135.0h1M258.2 122.5h1M256.9 130.1h1M291.6 134.3h1M262.8 132.2h1M271.6 122.1h1M284.9 121.8h1M276.4 109.9h1M290.8 155.7h1M281.1 108.9h1M267.5 108.9h1M261.5 150.0h1M254.0 121.2h1M254.0 141.3h1M274.8 115.7h1M276.8 132.6h1M293.0 123.9h1M274.2 118.1h1M284.8 122.8h1M267.4 126.7h1M263.0 120.3h1M271.6 129.6h1M293.5 135.8h1M271.9 153.9h1M265.1 130.0h1M271.2 136.3h1M281.2 151.5h1M254.0 117.7h1M260.2 116.7h1M282.7 141.2h1M264.7 124.1h1M258.4 105.2h1M289.5 149.9h1M265.0 110.6h1M281.9 109.9h1M254.0 149.9h1M262.8 146.0h1M282.1 135.4h1M262.5 112.8h1M290.5 155.8h1M266.9 121.5h1M269.2 139.2h1M282.4 145.4h1M282.9 155.8h1M282.6 131.9h1M274.0 141.8h1M296.0 144.3h1M284.8 116.1h1M283.2 136.8h1M275.3 142.8h1M276.5 132.3h1M287.5 135.4h1M254.0 117.4h1M264.7 121.0h1M263.9 130.2h1M276.3 111.6h1M284.0 120.4h1M262.9 110.5h1M289.4 147.4h1M273.0 112.3h1M273.8 125.0h1M260.2 129.6h1M278.4 149.4h1M277.6 127.4h1M262.3 130.2h1M286.2 143.5h1M276.3 126.6h1M271.9 116.1h1M283.0 110.0h1M261.2 143.5h1M266.5 107.1h1M258.1 120.2h1M268.5 142.6h1M261.7 114.1h1M257.7 146.2h1M268.5 152.8h1M274.7 115.4h1M264.8 138.0h1M285.7 130.6h1M280.2 130.7h1M277.0 127.6h1M265.3 107.0h1M281.4 110.3h1M257.8 119.9h1M269.3 120.7h1M261.8 135.2h1M260.5 133.6h1M293.0 155.8h1M274.0 150.3h1M283.5 148.5h1M272.3 124.5h1M270.1 123.7h1M269.2 147.7h1M276.2 120.6h1M268.7 121.2h1M271.5 119.6h1M266.2 127.9h1M284.2 155.8h1M259.6 138.0h1M275.1 104.7h1M274.2 155.8h1M254.0 143.8h1M256.5 110.1h1M277.3 113.7h1M291.9 110.2h1M254.0 135.7h1M269.3 153.3h1M279.4 112.9h1M262.9 109.6h1M288.3 128.8h1M283.4 145.4h1M281.1 155.8h1M267.7 138.7h1M273.5 125.4h1M254.0 120.9h1M258.0 155.8h1M276.6 142.5h1M288.2 152.2h1M277.0 127.4h1M256.1 122.7h1M270.0 126.5h1M257.4 135.5h1M254.0 147.3h1M286.1 113.7h1M269.0 109.3h1M262.4 123.7h1M285.0 114.0h1M281.5 134.5h1M277.2 140.1h1M267.9 132.8h1M272.5 155.8h1M276.2 143.9h1M276.8 131.3h1M256.0 135.9h1M268.6 137.1h1M277.6 136.3h1M274.0 120.6h1M265.8 128.8h1M262.1 128.0h1M254.9 133.0h1M265.2 147.9h1M268.5 133.3h1M288.0 133.3h1M266.8 115.3h1M278.1 129.7h1M281.2 150.4h1M281.3 155.8h1M284.0 110.1h1M283.6 127.5h1M291.0 112.8h1M254.0 120.6h1M266.3 128.7h1M262.3 148.8h1M267.1 141.9h1M260.4 153.9h1M262.9 122.9h1M285.4 110.6h1M279.9 137.0h1M270.6 131.2h1M274.5 147.0h1M266.0 122.3h1M272.1 110.3h1M259.4 130.2h1M277.7 138.4h1M259.9 144.4h1M272.3 125.0h1M286.8 152.6h1M260.1 146.8h1M288.2 132.9h1M269.5 141.0h1M280.1 129.9h1M278.2 122.8h1M277.2 114.6h1M277.8 119.8h1M256.0 109.7h1M294.4 142.1h1M284.1 131.2h1M275.6 112.6h1M289.3 123.3h1M254.0 145.2h1M259.7 117.6h1M294.1 142.8h1M275.9 118.5h1M269.7 106.7h1M283.7 133.1h1M270.8 140.6h1M278.2 135.5h1M262.7 119.9h1M272.0 108.3h1M266.3 132.3h1M276.0 123.3h1M273.2 128.8h1M285.8 116.3h1M271.7 154.0h1M267.7 131.6h1M254.0 148.7h1M286.7 155.8h1M282.4 153.5h1M271.2 123.2h1M273.6 116.0h1M259.4 126.2h1M271.8 122.8h1M273.5 138.2h1M270.5 127.5h1M254.0 139.8h1M254.0 119.6h1M263.6 128.8h1M254.0 131.1h1M263.7 146.4h1M263.3 128.0h1M269.3 147.4h1M259.6 155.8h1M273.7 120.5h1M256.7 147.1h1M262.5 113.6h1M269.6 125.3h1M285.7 142.2h1M266.8 155.5h1M260.1 155.8h1M254.0 120.0h1M255.4 115.6h1M275.6 136.5h1M285.6 118.3h1M272.9 144.0h1M277.3 129.7h1M270.6 142.0h1M276.5 142.0h1M268.1 121.4h1M259.2 138.9h1M261.0 144.3h1M296.4 128.3h1M292.7 118.0h1M276.5 120.4h1M280.6 138.3h1M272.7 106.6h1M266.9 149.8h1M254.8 139.7h1M277.1 132.8h1M260.9 134.5h1M279.8 150.5h1M275.5 148.9h1M273.0 130.1h1M262.4 124.1h1M265.2 155.8h1M284.4 144.4h1M260.6 131.0h1M259.5 128.6h1M288.3 128.7h1M262.8 129.6h1M258.2 146.7h1M254.0 133.2h1M291.4 155.8h1M270.1 111.6h1M277.2 126.4h1M254.1 114.5h1M271.5 140.7h1M288.0 141.3h1M284.1 155.8h1M269.7 131.4h1M270.2 146.4h1M255.4 118.9h1M270.9 124.4h1M265.1 143.7h1M272.7 132.4h1M259.1 133.2h1M294.0 129.6h1M270.2 112.8h1M259.7 155.8h1M278.2 138.0h1M259.9 107.9h1M270.0 144.9h1M254.0 135.0h1M265.7 151.2h1M254.0 108.6h1M274.3 136.9h1M267.4 125.3h1M271.4 116.8h1M286.5 155.8h1M282.3 117.9h1M277.2 116.0h1M281.1 155.8h1M279.9 110.3h1M285.4 145.3h1M285.6 133.8h1M255.1 148.1h1M269.2 155.8h1M286.7 151.9h1M257.1 126.9h1M262.4 144.2h1M277.5 113.6h1M266.7 127.5h1M265.8 115.1h1M271.0 155.8h1M289.2 111.6h1M260.7 110.2h1M280.1 129.3h1M267.7 128.7h1M254.0 123.0h1M285.1 155.8h1M267.9 115.7h1M280.1 140.5h1M274.6 155.8h1M269.4 136.6h1M283.9 109.4h1M263.9 128.6h1M279.1 134.3h1M273.2 127.2h1M271.4 105.9h1M266.9 153.8h1M257.5 149.1h1M261.8 152.1h1M266.9 155.8h1M285.0 109.7h1M257.5 134.7h1M280.1 119.1h1M283.4 123.7h1M254.0 146.0h1M263.8 148.8h1M286.7 148.9h1M279.8 131.4h1M277.4 126.1h1M270.0 131.2h1M259.9 132.7h1M271.2 141.2h1M268.5 126.0h1M275.7 146.4h1M274.9 107.8h1M283.2 122.0h1M285.3 136.9h1M262.5 113.3h1M263.5 155.8h1M290.7 109.3h1M257.4 120.1h1M286.7 143.0h1M288.0 150.2h1M287.5 118.6h1M283.5 155.8h1M286.0 118.8h1M278.1 122.3h1M281.2 155.8h1M269.6 155.8h1M256.1 152.5h1M263.9 119.0h1M276.6 108.3h1M254.0 146.1h1M294.0 113.8h1M288.4 106.1h1M254.0 144.5h1M275.0 150.4h1M259.2 107.9h1M275.3 122.4h1M254.3 122.6h1M274.7 155.8h1M287.5 155.8h1M270.8 147.9h1M265.5 111.6h1M279.8 150.7h1M267.7 105.9h1M290.3 147.0h1M254.0 141.8h1M281.5 128.8h1M293.6 109.2h1M258.2 130.0h1M281.1 120.2h1M270.2 121.2h1M274.1 120.3h1M278.6 137.5h1M275.6 118.8h1M276.5 155.6h1M263.5 135.2h1M262.1 118.1h1M270.8 139.0h1M276.0 124.2h1M254.0 136.4h1M276.7 146.1h1M283.9 129.9h1M269.7 130.5h1M286.5 120.9h1M287.9 155.8h1M260.5 140.3h1M263.2 123.1h1M263.4 154.8h1M276.2 149.3h1M276.2 150.4h1M274.4 143.4h1M281.4 154.6h1M264.7 124.9h1M268.1 129.0h1M272.6 105.6h1M270.2 118.4h1M282.2 126.3h1M254.0 142.4h1M295.4 149.6h1M287.8 117.2h1M293.4 155.2h1M284.6 127.4h1M263.3 155.8h1M272.5 129.6h1M256.7 155.8h1M272.2 155.8h1M282.5 131.3h1M266.9 106.3h1M264.5 155.8h1M272.3 105.5h1M277.0 135.5h1M266.3 146.4h1M287.7 141.3h1M257.5 150.1h1M254.0 107.9h1M283.9 122.6h1M270.6 117.0h1M264.1 131.4h1M280.1 111.7h1M284.3 131.5h1M271.5 128.4h1M267.9 147.4h1M283.9 130.5h1M277.3 119.6h1M287.5 135.2h1M276.5 155.8h1M269.2 149.1h1M276.0 130.8h1M272.2 155.8h1M261.7 135.6h1M265.0 122.6h1M259.4 155.8h1M262.9 114.9h1M267.0 150.6h1M268.5 155.8h1M276.3 122.4h1M264.4 151.2h1M283.6 124.5h1M286.2 140.4h1M271.7 155.7h1M260.9 123.0h1M282.9 136.1h1M262.4 138.2h1M276.2 112.5h1M256.0 131.6h1M291.7 106.4h1M287.6 152.8h1M271.1 151.7h1M275.7 127.8h1M274.8 151.7h1M280.0 152.3h1M282.4 136.6h1M281.3 121.6h1M259.9 131.9h1M260.8 148.3h1M280.1 122.3h1M270.4 141.4h1M274.8 148.9h1M283.0 117.5h1M283.9 119.8h1M263.1 144.7h1M256.2 155.8h1M271.3 129.0h1M276.4 115.7h1M285.9 147.5h1M265.4 147.5h1M271.1 116.6h1M290.5 139.3h1M278.1 121.4h1M276.9 155.8h1M262.5 133.3h1M274.4 153.9h1M275.6 117.9h1M273.2 155.8h1M274.1 128.7h1M285.3 136.2h1M271.9 120.6h1M266.6 155.8h1M261.0 108.2h1M270.7 126.4h1M278.7 154.6h1M278.8 108.3h1M273.7 153.7h1M267.5 136.0h1M277.6 138.8h1M268.3 114.7h1M277.4 119.4h1M296.0 149.3h1M275.8 108.9h1M277.7 142.6h1M258.1 114.6h1M265.5 155.8h1M270.5 138.9h1M254.0 150.5h1M259.2 117.6h1M264.5 140.0h1M255.1 127.9h1M270.2 114.3h1M276.6 142.9h1M283.6 139.5h1M274.5 125.2h1M277.8 143.9h1M263.7 153.1h1M258.3 143.9h1M291.7 144.7h1M255.7 143.3h1M268.9 154.2h1M254.4 152.2h1M266.7 109.8h1M287.4 134.3h1M268.9 120.2h1M278.9 116.3h1M269.2 116.3h1M278.7 123.1h1M273.5 109.3h1M254.0 142.9h1M295.2 146.9h1M271.4 118.3h1M285.5 140.4h1M281.0 145.8h1M267.9 142.6h1M271.7 135.8h1M254.0 111.7h1M277.2 130.6h1M269.4 119.5h1M294.2 148.1h1M274.2 112.7h1M292.9 110.7h1M254.0 152.1h1M264.2 118.9h1M254.7 109.5h1M264.7 118.6h1M260.7 111.6h1M265.8 128.5h1M281.0 141.5h1M273.5 142.8h1M273.8 129.8h1M283.6 107.2h1M259.7 132.6h1M281.2 121.3h1M291.3 115.3h1M278.7 129.3h1M282.6 125.4h1M283.9 149.0h1M270.2 120.3h1M288.9 125.0h1M264.2 152.9h1M271.6 155.8h1M272.1 108.4h1M280.4 153.5h1M260.7 110.6h1M270.1 127.6h1M261.0 107.3h1M287.2 130.0h1M254.0 121.1h1M277.0 152.1h1M254.3 127.9h1M277.6 107.1h1M278.0 146.4h1M271.8 111.0h1M282.9 141.8h1M254.0 119.2h1M263.9 110.7h1M266.5 110.3h1M293.3 143.6h1M289.6 131.6h1M272.5 109.5h1M258.5 107.9h1M254.0 120.7h1M261.9 104.9h1M262.7 134.9h1M275.7 129.3h1M272.4 145.9h1M260.4 136.7h1M260.3 135.0h1M276.8 107.1h1M267.0 109.3h1M268.3 113.6h1M294.9 137.4h1M275.1 108.7h1M265.1 118.5h1M266.7 154.9h1M274.5 140.7h1M271.4 155.8h1M293.1 130.7h1M278.2 104.9h1M280.1 128.4h1M278.8 145.5h1M259.1 134.9h1M262.1 114.2h1M269.7 106.8h1M294.2 132.8h1M290.1 145.0h1M279.5 151.2h1M280.1 141.7h1M269.0 127.7h1M274.5 108.6h1M269.3 136.3h1M254.0 111.6h1M254.0 115.4h1M261.1 115.3h1M254.0 108.5h1M254.0 146.0h1M261.9 111.8h1M263.6 120.9h1M254.0 144.8h1M284.3 150.1h1M289.4 134.9h1M275.1 114.6h1M289.6 119.3h1M268.2 141.1h1M290.7 155.8h1M255.2 109.5h1M262.5 155.8h1M256.0 148.5h1M271.2 107.6h1M294.4 128.1h1M296.4 145.5h1M278.1 137.1h1M266.6 121.9h1M284.4 117.6h1M278.3 135.3h1M266.5 152.8h1M271.2 155.8h1M287.4 145.0h1M279.8 127.4h1M263.6 134.9h1M275.3 115.6h1M263.6 148.2h1M254.0 155.8h1M275.4 109.9h1M278.0 130.7h1M265.3 141.2h1M277.1 155.8h1M261.4 146.1h1M277.5 112.7h1M295.8 124.0h1M289.4 155.8h1M274.4 135.6h1M274.0 127.9h1M268.7 120.3h1M275.0 150.3h1M289.3 129.5h1M281.0 105.2h1M261.4 127.8h1M271.6 128.2h1M254.0 140.5h1M277.3 141.1h1M265.3 155.8h1M279.2 138.5h1M258.9 137.9h1M271.8 134.1h1M283.0 138.8h1M283.8 117.2h1M282.4 149.0h1M254.0 131.6h1M254.0 112.5h1M267.1 155.8h1M273.8 146.1h1M256.7 155.8h1M256.0 155.8h1M271.9 152.4h1M274.8 154.7h1M264.2 151.1h1M276.8 141.7h1M257.8 126.3h1M277.2 113.5h1M272.7 131.0h1M281.7 145.1h1M254.0 113.9h1M260.6 116.3h1M263.6 116.1h1M261.2 114.1h1M254.0 150.6h1M271.8 110.9h1M274.9 117.5h1M282.5 142.0h1M265.2 104.8h1M267.6 142.2h1M259.8 155.8h1M275.0 121.3h1M254.0 105.8h1M269.6 122.1h1M268.8 105.5h1M267.0 148.7h1M265.0 134.9h1M273.9 148.8h1M264.9 108.1h1M282.8 148.1h1M285.5 155.8h1M271.1 124.3h1M268.8 138.2h1M271.9 145.9h1M281.8 112.7h1M268.6 152.1h1M283.5 143.2h1M254.0 124.4h1M287.5 139.0h1M272.8 125.0h1M274.9 155.8h1M265.7 114.6h1M280.3 132.9h1M257.4 125.1h1M275.7 130.9h1M283.6 155.8h1M278.1 135.7h1M270.3 150.8h1M283.2 152.3h1M270.8 118.4h1M267.5 150.4h1M286.0 111.4h1M256.6 112.3h1M259.3 125.9h1M260.6 137.5h1M268.9 155.8h1M261.1 113.0h1M258.7 155.8h1M267.1 139.2h1M257.6 111.1h1M263.4 125.9h1M261.4 128.0h1M273.8 125.7h1M262.5 106.1h1M270.9 120.4h1M257.8 132.0h1M291.4 137.8h1M258.7 140.2h1M265.6 116.7h1M264.7 106.3h1M279.2 128.2h1M273.4 110.3h1M281.4 155.8h1M267.5 146.9h1M281.6 125.7h1M276.5 118.0h1M285.0 155.8h1M278.1 127.9h1M272.7 127.8h1M284.1 111.1h1M270.1 115.5h1M282.2 106.5h1M269.7 132.1h1M284.9 127.9h1M294.6 138.3h1M275.9 137.6h1M262.3 129.8h1M270.5 138.2h1M279.3 151.9h1M286.2 122.0h1M283.2 140.8h1M280.0 111.0h1M256.0 122.2h1M272.5 110.9h1M263.0 130.8h1M268.8 126.6h1M258.9 155.8h1M254.0 128.6h1M259.5 135.9h1M256.8 117.9h1M290.1 130.9h1M280.5 143.2h1M275.2 135.9h1M273.8 141.7h1M263.3 114.1h1M276.0 133.9h1M280.1 134.6h1M278.4 116.7h1M272.5 129.5h1M284.2 131.9h1M284.3 153.9h1M265.7 132.1h1M272.2 114.5h1M269.7 113.3h1M260.9 108.6h1M257.3 148.9h1M255.1 107.9h1M263.3 135.7h1M287.5 116.0h1M279.7 124.5h1M266.8 131.1h1M284.0 150.5h1M278.2 141.6h1M293.2 142.7h1M272.8 115.5h1M273.4 153.9h1M267.3 155.3h1M278.5 115.4h1M271.8 129.0h1M254.0 128.1h1M275.7 150.2h1M282.4 151.6h1M270.9 136.6h1M256.2 145.6h1M262.8 112.6h1M267.1 154.1h1M262.5 116.1h1M283.0 145.8h1M262.9 138.4h1M268.9 140.6h1M276.4 155.8h1M269.1 130.5h1M280.3 117.3h1M276.1 126.7h1M263.6 149.0h1M278.8 134.8h1M254.0 119.7h1M254.0 135.8h1M273.1 137.4h1M273.1 116.9h1M286.1 155.8h1M280.3 138.4h1M254.0 139.9h1M264.3 144.2h1M263.9 119.8h1M265.7 112.9h1M275.5 139.7h1M279.7 114.6h1M271.3 142.4h1M259.2 114.0h1M293.6 142.0h1M273.1 138.3h1M268.6 126.4h1M284.6 155.3h1M257.2 113.7h1M257.1 138.6h1M267.6 141.5h1M265.3 155.6h1M254.0 149.8h1M277.4 131.9h1M272.9 121.6h1M263.6 119.8h1M254.0 106.9h1M261.5 135.6h1M254.0 148.2h1M262.0 110.5h1M282.4 144.4h1M274.4 128.6h1M293.1 141.9h1M266.5 118.7h1M254.0 120.2h1M261.3 114.1h1M258.9 123.8h1M271.3 130.2h1M284.2 113.4h1M257.4 111.5h1M258.2 134.0h1M286.3 124.6h1M264.9 141.8h1M272.6 123.1h1M289.1 122.4h1M287.7 111.9h1M278.6 119.4h1M266.6 125.0h1M266.6 147.0h1M267.7 155.8h1M267.4 115.6h1M259.3 128.3h1M262.1 109.4h1M269.5 132.1h1M262.7 155.8h1M256.7 123.5h1M254.0 141.3h1M274.5 129.3h1M265.1 155.8h1M261.1 106.4h1M287.7 149.7h1M266.7 134.2h1M264.5 138.4h1M258.4 128.5h1M259.2 112.9h1M269.8 105.7h1M283.6 147.9h1M262.5 137.3h1M284.3 116.3h1M268.8 153.0h1M263.8 154.0h1M287.9 115.1h1M256.1 118.7h1M282.0 137.9h1M291.8 149.4h1M269.2 129.0h1M264.6 125.4h1M273.5 147.4h1M266.7 125.9h1M267.4 149.4h1M264.2 139.5h1M276.7 138.7h1M257.3 144.3h1M281.7 141.5h1M267.9 153.7h1M266.8 120.3h1M269.8 116.5h1M278.2 113.2h1M271.1 118.6h1M288.0 155.8h1M296.1 143.1h1M287.8 155.8h1M254.0 147.5h1M257.2 138.9h1M258.6 153.6h1M269.8 115.8h1M291.6 120.1h1M261.3 131.8h1M254.0 146.4h1M278.1 155.8h1M262.1 152.1h1M259.9 123.0h1M265.3 127.1h1M277.8 139.1h1M254.0 136.4h1M271.9 141.0h1M258.4 121.9h1M279.7 132.2h1M268.8 130.1h1M274.4 155.8h1M271.6 130.2h1M278.9 108.1h1M284.2 145.0h1M271.0 135.7h1M270.0 110.5h1M276.1 149.3h1M265.4 130.0h1M289.2 130.9h1M278.1 107.9h1M293.6 108.8h1M257.5 116.2h1M283.9 149.3h1M264.3 122.2h1M287.5 120.3h1M254.0 135.3h1M279.9 155.8h1M272.0 133.8h1M274.1 125.9h1M256.1 120.5h1M266.7 137.3h1M272.7 154.0h1M287.1 120.9h1M256.6 150.8h1M275.6 155.8h1M276.5 117.4h1M280.6 106.9h1M254.0 119.9h1M285.2 111.0h1M259.3 155.8h1M285.6 134.1h1M266.6 150.2h1M264.3 142.6h1M281.0 145.1h1M276.1 145.1h1M279.0 120.8h1M280.8 137.1h1M276.8 124.2h1M266.8 143.9h1M282.4 132.4h1M264.2 123.7h1M290.0 128.3h1M286.8 130.8h1M260.7 137.1h1M277.0 152.1h1M258.5 144.2h1M275.6 155.8h1M292.7 109.7h1M254.7 150.2h1M268.6 114.8h1M288.2 121.0h1M277.1 118.2h1M264.9 134.0h1M271.3 140.5h1M254.0 134.9h1M276.8 108.9h1M287.4 138.5h1M273.0 150.1h1M272.5 105.3h1M267.9 145.6h1M269.3 155.8h1M274.2 146.1h1M265.7 110.5h1M261.3 116.7h1M277.0 109.8h1M272.4 109.2h1M269.2 139.5h1M280.5 149.2h1M261.7 116.1h1M272.4 132.3h1M271.4 144.3h1M266.1 149.7h1M257.0 108.5h1M271.2 115.6h1M272.4 126.9h1M268.4 149.5h1M266.7 155.6h1M282.0 142.3h1M268.9 113.8h1M268.6 120.5h1M287.0 142.2h1M254.0 155.8h1M276.8 127.9h1M259.3 119.6h1M284.7 112.9h1M277.2 130.1h1M262.9 148.3h1M258.7 129.1h1M254.0 121.1h1M273.4 152.2h1M268.2 149.3h1M282.9 155.2h1M266.8 136.0h1M294.4 121.3h1M254.0 123.7h1M256.7 142.5h1M276.2 139.6h1M276.3 138.4h1M255.0 118.7h1M282.4 106.2h1M254.0 121.7h1M284.7 144.1h1M274.3 113.5h1M280.6 113.6h1M287.6 121.9h1M263.5 120.6h1M281.0 155.8h1M262.0 121.6h1M254.0 124.4h1M254.0 110.0h1M267.5 137.5h1M255.7 113.6h1M262.1 122.0h1M271.2 107.3h1M267.7 135.8h1M262.4 119.5h1M281.9 155.8h1M264.5 155.8h1M266.8 146.8h1M288.1 155.8h1M268.2 155.8h1M285.5 113.2h1M260.2 109.1h1M274.0 124.9h1M254.0 110.7h1M279.7 110.0h1M277.4 147.0h1M257.2 135.5h1M261.1 136.8h1M280.1 134.4h1M257.3 111.2h1M258.4 143.0h1M271.0 108.9h1M260.4 151.9h1M293.0 151.9h1M276.1 111.6h1M258.9 144.8h1M266.0 141.1h1M279.4 142.1h1M280.6 118.3h1M274.3 116.3h1M288.6 123.2h1M276.5 141.7h1M261.3 118.6h1M276.2 142.1h1M258.2 153.4h1M274.7 155.8h1M254.0 115.8h1M270.7 130.3h1M287.6 142.6h1M280.3 155.8h1M277.8 107.0h1M258.2 112.6h1M287.2 120.7h1M278.6 142.0h1M271.0 144.3h1M271.3 135.9h1M265.9 118.7h1M254.0 124.9h1M275.7 155.8h1M282.0 105.3h1M281.3 121.1h1M288.1 124.4h1M254.0 128.4h1M287.1 111.0h1M254.0 151.5h1M276.0 120.8h1M269.8 123.9h1M254.0 121.7h1M282.9 137.1h1M269.0 142.9h1M274.3 155.8h1M273.5 112.8h1M254.0 135.2h1M282.8 146.7h1M263.8 107.4h1M271.0 155.8h1M263.4 135.1h1M282.7 129.9h1M281.8 137.2h1M264.9 112.9h1M265.7 106.9h1M274.0 115.0h1M272.0 134.3h1M256.9 116.4h1M290.6 149.1h1M258.6 137.6h1M260.8 130.9h1M264.2 133.2h1M264.0 150.2h1M268.4 125.7h1M259.4 136.7h1M260.7 136.0h1M258.3 155.8h1M255.5 127.8h1M273.1 141.1h1M279.2 113.9h1M278.1 144.9h1M274.5 139.9h1M254.0 124.8h1M272.7 138.5h1M268.2 135.6h1M273.1 107.7h1M257.9 136.1h1M289.4 150.5h1M254.0 143.6h1M263.4 137.5h1M254.0 132.2h1M264.2 121.5h1M276.9 152.0h1M266.0 154.5h1M264.8 106.3h1M284.6 127.9h1M254.7 147.9h1M266.6 123.5h1M281.4 115.1h1M257.2 147.2h1M287.3 135.1h1M264.6 115.6h1M258.1 135.5h1M290.4 118.5h1M262.3 138.3h1M270.0 118.6h1M287.1 126.6h1M288.1 155.8h1M277.9 112.8h1M267.3 112.5h1M269.1 142.8h1M288.3 151.4h1M264.8 127.6h1M291.7 127.8h1M261.1 130.5h1M285.9 155.8h1M254.5 135.2h1M270.8 114.0h1M264.9 121.8h1M254.7 118.7h1M254.0 153.0h1M256.1 146.9h1M267.0 130.6h1M273.3 118.5h1M254.0 155.8h1M265.1 151.7h1M254.0 113.4h1M282.4 138.8h1M254.0 126.2h1M254.0 114.0h1M292.8 149.1h1M272.7 141.8h1M279.2 109.0h1M275.1 146.8h1M289.2 115.1h1M273.6 121.3h1M254.0 133.4h1M272.0 115.9h1M270.4 125.1h1M254.8 116.3h1M284.3 134.3h1M268.7 123.2h1M259.0 142.8h1M284.2 155.8h1M279.9 135.5h1M275.8 148.2h1M267.8 139.5h1M286.0 152.3h1M275.6 124.9h1M254.5 131.6h1M273.0 155.8h1M263.9 139.0h1M268.2 137.1h1M289.3 114.0h1M261.0 151.8h1M270.4 155.8h1M275.8 155.8h1M280.5 155.8h1M259.6 148.7h1M270.9 130.9h1M266.7 113.5h1M272.4 118.2h1M266.5 133.3h1M254.0 155.4h1M289.2 123.3h1M269.6 128.0h1M283.3 115.3h1M266.2 124.8h1M271.7 135.6h1M254.0 153.2h1M294.9 138.7h1M274.2 139.2h1M276.8 151.4h1M261.7 128.8h1M263.6 136.8h1M284.6 133.9h1M288.3 127.8h1M274.0 144.8h1M295.4 122.1h1M280.3 124.1h1M274.4 131.7h1M289.5 129.0h1M264.3 138.3h1M274.8 121.8h1M264.4 143.6h1M282.7 155.8h1M264.1 149.6h1M257.9 130.7h1M274.0 135.2h1M288.7 133.8h1M271.4 107.9h1M278.4 129.1h1M269.1 132.1h1M275.5 125.3h1M275.0 108.2h1M279.6 155.8h1M272.1 132.8h1M255.1 133.5h1M256.4 106.3h1M273.9 137.1h1M271.8 132.7h1M263.2 118.0h1M274.6 130.8h1M268.9 149.0h1M278.8 116.7h1M261.2 147.5h1M260.1 132.7h1M264.0 150.3h1M280.9 107.7h1M254.0 139.7h1M273.8 139.3h1M254.0 114.7h1M275.8 115.4h1M290.1 117.0h1M283.2 128.9h1M254.0 114.3h1M274.8 125.2h1M269.7 135.8h1M287.1 130.9h1M274.2 135.6h1M254.0 120.9h1M254.7 124.2h1M259.7 130.1h1M263.4 143.3h1M255.8 126.1h1M279.0 144.8h1M279.2 147.3h1M265.6 155.0h1M273.2 150.6h1M273.5 138.8h1M254.0 128.0h1M274.8 129.7h1M274.8 132.8h1M280.9 141.4h1M282.1 148.5h1M279.5 123.8h1M254.0 122.3h1M262.9 105.1h1M265.3 144.7h1M269.7 155.8h1M279.8 137.5h1M257.2 120.9h1M262.3 132.8h1M275.2 152.7h1M270.6 109.5h1M270.0 109.2h1M275.2 143.9h1M264.6 155.8h1M281.4 128.4h1M261.3 150.4h1M254.0 127.0h1M287.6 117.9h1M254.0 140.6h1M272.9 133.7h1M257.6 129.9h1M271.8 126.9h1M280.9 155.8h1M283.7 142.1h1M262.8 151.5h1M266.8 114.6h1M278.0 133.4h1M257.3 114.7h1M268.4 147.2h1M290.8 150.4h1M268.2 110.1h1M280.2 116.1h1M268.4 125.5h1M265.5 149.2h1M296.0 155.8h1M270.2 121.2h1M254.0 131.9h1M277.0 138.9h1M268.3 128.4h1M267.3 154.0h1M268.6 146.6h1M284.0 116.5h1M267.3 132.4h1M291.8 128.7h1M262.9 154.6h1M265.3 116.2h1M267.1 127.1h1M270.5 147.1h1M288.3 133.7h1M257.1 137.0h1M254.0 117.1h1M280.9 114.0h1M255.6 155.8h1M264.6 112.9h1M270.0 111.2h1M266.2 128.7h1M281.0 126.3h1M280.4 138.6h1M268.9 134.7h1M260.4 151.4h1M293.0 155.8h1M279.7 123.3h1M269.0 155.1h1M258.1 154.7h1M274.9 133.5h1M292.3 146.0h1M277.2 127.1h1M273.4 137.3h1M254.0 135.4h1M282.0 155.8h1M256.6 132.0h1M254.0 129.2h1M266.8 140.7h1M265.8 147.1h1M275.7 135.7h1M272.4 150.8h1M260.7 138.0h1M281.8 133.2h1M277.8 155.8h1M254.0 146.2h1M275.7 154.9h1M288.4 148.8h1M255.6 117.5h1M293.5 140.5h1M274.9 137.5h1M263.3 145.0h1M292.4 108.9h1M285.3 151.2h1M270.8 147.7h1M263.2 142.0h1M259.5 112.2h1M280.5 141.6h1M266.4 147.2h1M259.0 145.6h1M255.9 121.9h1M267.0 140.3h1M287.4 139.9h1M263.6 128.7h1M263.3 105.5h1M272.6 120.4h1M256.4 146.2h1M262.3 148.4h1M279.9 151.7h1M281.0 112.3h1M290.8 137.6h1M268.7 122.7h1M271.0 108.3h1M254.0 137.7h1M280.8 111.6h1M262.1 132.4h1M286.3 138.8h1M275.7 155.4h1M260.7 138.0h1M278.6 146.1h1M279.1 107.3h1M276.9 106.0h1M266.5 140.8h1M289.9 152.5h1M273.6 138.0h1M287.6 110.7h1M276.1 126.0h1M276.7 137.2h1M270.2 139.0h1M266.8 149.2h1M265.6 138.5h1M263.6 140.7h1M281.7 109.7h1M273.4 110.5h1M268.4 141.7h1M272.2 130.6h1M264.1 142.1h1M280.0 139.8h1M267.4 155.8h1M290.5 139.1h1M276.0 155.8h1M288.9 119.7h1M287.4 107.7h1M270.7 145.6h1M265.0 140.6h1M257.6 144.6h1M259.1 112.9h1M272.2 107.4h1M270.9 145.9h1M272.0 121.9h1M262.0 134.7h1M271.5 144.0h1M280.4 140.5h1M258.9 133.4h1M278.7 131.7h1M280.4 122.0h1M254.0 155.8h1M286.5 121.4h1M273.2 141.1h1M290.2 111.8h1M272.9 131.4h1M276.7 153.1h1M259.7 104.8h1M254.0 151.6h1M260.0 129.6h1M293.5 130.8h1M272.8 120.4h1M273.3 155.8h1M258.3 142.4h1M269.3 147.6h1M267.9 138.4h1M255.9 137.5h1M288.5 130.1h1M261.7 134.7h1M263.9 142.7h1M284.8 114.5h1M271.5 131.4h1M254.0 120.5h1M286.4 128.3h1M254.0 128.0h1M274.9 109.4h1M260.4 155.8h1M261.8 130.2h1M277.6 147.3h1M265.6 136.4h1M271.1 137.4h1M258.3 116.4h1M254.0 119.3h1M254.0 131.2h1M278.2 143.7h1M267.6 124.1h1M273.5 119.9h1M265.3 155.8h1M269.1 123.1h1M265.0 154.1h1M269.7 155.8h1M258.2 139.0h1M291.2 146.7h1M293.5 126.6h1M289.6 131.7h1M254.0 123.0h1M290.5 113.2h1M266.5 118.4h1M263.2 118.1h1M259.6 104.7h1M276.2 127.3h1M255.6 133.2h1M275.0 110.7h1M290.5 151.2h1M266.9 109.8h1M272.5 127.4h1M287.5 138.4h1M273.2 143.3h1M288.5 146.7h1M254.0 110.5h1M280.9 132.6h1M272.7 151.3h1M265.8 111.5h1M291.8 150.9h1M274.7 138.7h1M256.4 143.9h1M283.0 144.4h1M273.1 144.6h1M279.2 112.6h1M256.7 155.8h1M270.4 139.2h1M269.3 107.3h1M292.7 143.3h1M274.3 155.8h1M254.0 118.1h1M273.7 154.6h1M273.9 111.1h1M277.9 141.5h1M286.1 127.2h1M254.0 145.4h1M264.6 141.7h1M267.1 108.9h1M262.7 135.0h1M254.0 138.8h1M266.7 113.6h1M291.4 123.9h1M265.5 131.1h1M281.0 147.9h1M272.3 118.7h1M282.2 136.3h1M286.0 140.6h1M271.6 137.0h1M281.4 137.0h1M260.5 105.7h1M264.7 128.2h1M276.3 107.5h1M262.5 110.7h1M264.2 122.1h1M257.3 149.1h1M263.1 151.1h1M266.4 149.9h1M271.7 114.1h1M278.4 146.4h1M254.0 109.4h1M265.6 143.3h1M261.0 114.2h1M267.8 124.9h1M269.0 112.7h1M277.8 136.2h1M271.8 144.6h1M268.9 124.2h1M276.9 114.1h1M261.0 121.3h1M270.4 127.7h1M272.2 114.8h1M254.0 151.0h1M278.8 117.3h1M275.4 124.1h1M274.3 121.3h1M267.6 133.6h1M261.3 146.7h1M260.1 118.9h1M268.4 125.1h1M289.0 118.6h1M261.1 155.8h1M270.5 155.8h1M273.1 127.8h1M259.9 114.4h1M275.6 122.7h1M276.6 124.9h1M268.4 147.1h1M275.5 153.0h1M254.0 135.4h1M254.0 106.8h1M281.9 147.1h1M254.0 123.2h1M260.1 113.7h1M254.7 117.1h1M260.8 121.2h1M262.4 126.1h1M254.0 123.9h1M261.4 135.5h1M265.5 129.2h1M263.9 111.1h1M275.0 120.6h1M286.2 145.9h1M254.0 132.5h1M271.0 136.5h1M277.7 152.1h1M258.5 155.8h1M264.3 151.3h1M292.4 113.2h1M281.1 144.5h1M256.0 150.4h1M294.0 119.8h1M259.5 107.7h1M273.5 118.9h1M270.3 112.6h1M254.0 153.2h1M281.3 154.6h1M281.6 134.9h1M291.8 140.3h1M288.0 153.0h1M270.4 155.8h1M254.0 131.7h1M259.7 134.1h1M276.5 150.5h1M260.1 138.5h1M275.5 155.8h1M270.3 155.8h1M289.3 123.3h1M273.1 127.1h1M293.2 112.9h1M259.7 137.1h1M279.8 147.0h1M265.4 150.4h1M271.5 133.0h1M285.2 118.7h1M277.2 155.8h1M258.0 117.1h1M266.4 144.5h1M288.2 150.8h1M271.1 148.6h1M267.7 126.5h1M259.8 153.3h1M293.7 124.9h1M263.6 115.8h1M284.6 133.8h1M257.6 110.2h1M285.6 145.2h1M285.8 126.8h1M284.5 111.8h1M267.6 145.1h1M276.3 112.2h1M254.3 112.7h1M271.8 114.7h1M265.6 135.0h1M262.3 152.0h1M260.1 148.1h1M275.6 143.9h1M254.0 120.6h1M274.7 118.5h1M254.2 145.9h1M271.6 133.6h1M270.4 117.3h1M275.7 119.2h1M277.9 110.8h1M262.5 122.9h1M276.0 127.7h1M259.5 120.7h1M286.2 134.6h1M254.0 139.9h1M265.6 152.8h1M254.0 120.8h1M270.1 118.9h1M289.2 114.0h1M296.5 123.5h1M264.1 134.2h1M273.7 129.7h1M286.8 134.9h1M279.7 110.5h1M254.0 139.5h1M274.7 131.4h1M272.1 119.5h1M282.8 107.4h1M268.3 115.8h1M296.4 155.8h1M256.8 149.3h1M268.1 147.0h1M266.7 146.8h1M272.6 155.8h1M281.6 138.9h1M268.1 155.8h1M274.2 137.1h1M273.0 130.7h1M264.3 117.6h1M259.6 123.4h1M257.2 144.7h1M254.0 142.7h1M260.2 117.9h1M272.9 130.3h1M257.2 128.2h1M259.3 114.5h1M281.4 148.8h1M278.9 155.4h1M289.7 133.1h1M274.7 146.5h1M277.8 146.8h1M273.4 145.6h1M260.1 135.4h1M276.7 148.6h1M271.6 120.5h1M254.8 155.1h1M280.5 108.1h1M265.1 126.0h1M280.0 144.6h1M280.8 155.8h1M294.9 149.7h1M263.8 109.6h1M285.9 144.5h1M273.1 133.0h1M254.9 151.5h1M275.7 119.3h1M267.9 135.1h1M272.1 136.4h1M257.0 145.1h1M276.9 154.9h1M271.2 142.5h1M286.1 107.4h1M291.6 129.6h1M262.5 106.3h1M277.2 141.9h1M276.7 133.6h1M271.9 108.6h1M279.7 111.9h1M279.4 138.1h1M265.8 130.4h1M267.2 155.8h1M271.7 105.3h1M286.1 106.8h1M264.4 118.7h1M260.3 129.4h1M268.5 142.5h1M278.8 150.8h1M260.7 147.6h1M284.4 148.4h1M277.7 148.8h1M282.8 135.0h1M265.9 132.9h1M279.8 143.9h1M268.6 130.5h1M268.2 105.9h1M262.1 145.2h1M263.3 137.2h1M274.9 130.5h1M259.1 127.9h1M256.1 154.5h1M268.0 117.9h1M287.3 155.8h1M269.2 141.7h1M281.9 133.5h1M284.5 110.0h1M258.7 114.9h1M273.7 144.3h1M254.5 127.1h1M259.4 155.8h1M254.0 136.6h1M268.5 141.9h1M254.0 123.9h1M270.0 138.9h1M274.3 106.1h1M262.8 144.5h1M279.2 106.8h1M275.1 105.9h1M277.8 108.2h1M266.9 110.4h1M280.5 140.4h1M291.7 130.0h1M265.3 117.6h1M259.4 137.9h1M276.9 114.8h1M259.2 114.2h1M261.2 119.8h1M254.0 151.5h1M265.4 142.0h1M274.5 112.3h1M268.4 136.5h1M269.8 134.6h1M281.1 150.6h1M254.0 126.5h1M281.6 109.1h1M274.6 122.9h1M255.7 116.2h1M260.8 115.6h1M254.0 132.6h1M263.7 146.4h1M254.0 121.8h1M257.2 106.6h1M254.0 124.5h1M256.9 148.0h1M291.3 109.4h1M254.0 129.9h1M254.1 155.8h1M256.7 143.3h1M284.1 120.0h1M254.5 135.6h1M289.9 130.3h1M277.3 145.3h1M259.4 139.2h1M254.0 147.0h1M268.7 124.3h1M272.4 133.7h1M261.1 154.6h1M291.7 129.0h1M270.5 146.7h1M278.9 121.5h1M272.2 105.0h1M254.0 126.9h1M265.6 123.9h1M263.6 150.0h1M276.6 147.4h1M254.0 155.8h1M256.6 107.6h1M255.6 108.6h1M290.8 121.1h1M276.0 124.3h1M266.9 126.1h1M263.4 107.4h1M265.5 125.6h1M273.3 134.9h1M287.3 135.2h1M286.6 118.2h1M272.3 150.5h1M255.5 129.1h1M283.3 137.5h1M271.6 119.5h1M272.6 136.3h1M279.6 141.3h1M283.4 112.1h1M277.9 123.5h1M264.3 113.8h1M278.0 129.8h1M276.0 116.2h1M270.8 120.7h1M260.4 108.1h1M269.1 118.0h1M278.5 113.1h1M268.9 110.5h1M277.0 126.0h1M270.8 108.2h1M281.3 152.6h1M276.0 150.0h1M272.0 146.2h1M286.6 117.7h1M268.3 121.7h1M254.0 112.8h1M270.6 117.7h1M265.6 136.3h1M254.0 142.2h1M279.7 113.1h1M272.0 120.5h1M296.1 155.8h1M289.2 140.1h1M271.4 144.1h1M257.9 143.2h1M276.6 107.8h1M270.0 149.3h1M282.5 137.3h1M265.8 155.8h1M254.0 116.8h1M270.5 134.2h1M270.2 142.4h1M256.3 125.1h1M262.6 140.7h1M278.6 151.5h1M266.3 120.4h1M254.0 155.8h1M262.6 113.7h1M266.2 141.7h1M283.2 143.5h1M258.8 132.9h1M273.2 154.9h1M254.0 114.1h1M284.4 133.5h1M264.1 112.9h1M278.6 112.3h1M266.6 128.3h1M278.3 131.7h1M257.3 146.0h1M284.5 142.4h1M261.2 136.3h1M273.6 147.7h1M259.0 124.2h1M282.9 110.2h1M271.2 125.5h1M277.2 139.1h1M286.6 134.6h1M262.7 119.5h1M254.0 152.6h1M281.1 117.5h1M254.0 151.7h1M258.7 138.9h1M273.8 153.9h1M280.3 108.5h1M256.9 120.2h1M274.3 148.2h1M285.5 132.1h1M278.7 128.8h1M280.3 134.9h1M257.5 124.8h1M271.4 145.8h1M261.2 120.1h1M285.3 115.3h1M269.7 117.7h1M263.9 144.6h1M283.9 127.8h1M277.2 133.3h1M262.0 151.4h1M287.9 123.5h1M275.8 115.0h1M264.6 131.9h1M267.6 136.5h1M265.0 117.0h1M276.0 122.7h1M269.2 123.1h1M275.8 138.9h1M275.3 122.1h1M254.0 122.2h1M262.1 139.6h1M295.6 140.1h1M287.9 145.5h1M259.2 133.2h1M267.2 140.6h1M265.8 139.9h1M266.2 141.3h1M261.3 149.8h1M269.9 126.6h1M267.6 126.1h1M283.1 146.0h1M264.0 119.3h1M285.7 149.7h1M284.8 128.5h1M285.1 154.5h1M269.7 155.8h1M264.4 124.4h1M281.3 111.8h1M273.0 105.3h1M267.7 155.8h1M285.7 155.8h1M271.4 134.0h1M267.8 111.8h1M264.9 108.4h1M288.8 135.0h1M254.0 126.9h1M261.2 155.8h1M254.0 140.7h1M285.7 112.7h1M275.0 142.9h1M275.4 114.6h1M262.0 153.5h1M272.7 150.8h1M275.1 144.2h1M274.8 139.9h1M260.8 128.0h1M275.0 131.8h1M260.8 128.0h1M262.8 140.8h1M270.7 131.8h1M254.0 123.3h1M272.1 114.6h1M267.1 107.2h1M254.0 129.7h1M271.6 112.4h1M261.9 116.4h1M254.0 133.4h1M292.8 107.4h1M280.7 155.8h1M262.3 142.7h1M259.8 114.4h1M281.2 147.2h1M254.0 146.3h1M268.5 113.0h1M273.4 129.7h1M278.5 148.9h1M268.7 117.7h1M262.3 120.7h1M278.5 146.0h1M254.3 154.5h1M254.0 113.4h1M269.2 151.6h1M285.0 155.8h1M266.1 109.2h1M280.5 128.6h1M254.0 149.2h1M254.0 155.0h1M275.6 151.3h1M276.2 141.6h1M272.5 117.9h1M264.6 136.7h1M267.0 149.0h1M277.5 133.1h1M268.7 106.9h1M271.0 118.6h1M254.6 105.0h1M281.7 107.8h1M266.6 154.9h1M284.7 142.7h1M275.4 115.0h1M275.9 110.0h1M260.5 148.2h1M269.6 141.7h1M281.9 149.3h1M278.2 119.8h1M258.0 147.4h1M272.4 127.6h1M286.3 141.3h1M285.3 108.4h1M268.4 155.8h1M272.4 128.8h1M280.9 129.6h1M272.2 147.4h1M257.8 150.8h1M272.3 137.2h1M269.6 123.5h1M254.0 107.0h1M280.1 106.0h1M288.3 155.8h1M271.7 105.9h1M260.4 145.5h1M281.1 113.5h1M269.5 119.2h1M283.4 108.9h1M292.4 136.2h1M281.7 133.7h1M265.8 133.5h1M256.3 110.6h1M287.3 129.6h1M260.6 138.7h1M257.8 148.9h1M280.2 134.4h1M283.4 150.9h1M286.6 109.5h1M264.8 111.5h1M267.1 106.5h1M261.2 112.1h1M265.9 123.7h1M282.6 120.9h1M270.0 132.9h1M276.1 127.8h1M269.2 144.6h1M266.3 142.5h1M280.5 111.6h1M275.7 155.8h1M277.1 111.1h1M292.8 115.8h1M283.5 155.8h1M285.4 128.3h1M279.2 136.0h1M266.3 124.7h1M287.3 138.2h1M280.1 126.3h1M259.1 155.8h1M254.0 138.8h1M278.1 150.9h1M285.3 155.8h1M254.4 151.9h1M274.4 121.2h1M271.4 142.5h1M264.6 149.4h1M271.5 146.4h1M277.0 124.2h1M259.1 140.1h1M274.6 141.0h1M270.9 121.1h1M279.6 128.9h1M255.6 140.5h1M261.0 123.8h1M267.2 133.2h1M254.0 150.8h1M264.5 114.9h1M269.7 151.0h1M278.0 112.5h1M262.3 155.8h1M280.1 155.8h1M263.8 149.4h1M268.6 144.5h1M254.0 126.8h1M262.9 128.4h1M288.4 113.9h1M268.4 112.4h1M281.8 155.8h1M258.9 139.6h1M274.9 117.7h1M271.6 134.3h1M263.6 143.2h1M278.1 153.1h1M256.5 115.0h1M267.2 126.8h1M266.0 131.1h1M266.2 123.5h1M282.6 118.2h1M263.1 133.7h1M254.0 146.8h1M282.4 128.9h1M269.2 155.0h1M254.0 119.7h1M279.4 134.4h1M254.0 141.0h1M283.3 126.1h1M289.8 123.8h1M254.0 133.8h1M276.2 106.4h1M276.1 104.7h1M266.9 109.7h1M277.4 128.3h1M286.9 145.7h1M288.8 118.4h1M296.3 123.5h1M277.0 131.7h1M272.7 127.9h1M263.5 135.8h1M272.9 130.9h1M269.4 133.8h1M272.1 135.6h1M283.7 117.2h1M257.1 122.7h1M270.6 122.2h1M274.1 151.6h1M266.1 138.8h1M277.6 109.2h1M292.7 132.6h1M285.9 152.6h1M277.9 119.7h1M254.1 118.1h1M266.0 136.1h1M281.7 119.4h1M265.1 141.0h1M262.5 110.9h1M257.3 147.7h1M259.0 116.0h1M260.0 116.9h1M265.1 155.4h1M288.3 109.2h1M270.1 111.4h1M263.2 146.2h1M292.4 108.5h1M281.4 153.2h1M269.2 128.5h1M282.4 127.4h1M282.8 128.7h1M254.0 133.7h1M261.6 142.2h1M269.0 119.6h1M275.4 110.3h1M263.6 134.2h1M260.6 120.5h1M275.5 135.8h1M266.1 146.1h1M268.5 137.2h1M281.4 118.1h1M255.4 147.3h1M258.2 105.9h1M288.8 141.0h1M269.8 142.2h1M254.0 124.3h1M288.9 111.8h1M284.7 148.4h1M275.4 133.4h1M281.2 140.1h1M261.9 113.5h1M272.7 144.0h1M281.5 143.0h1M276.8 145.8h1M269.9 133.3h1M284.1 138.9h1M257.0 123.7h1M264.3 139.1h1M271.7 155.8h1M265.8 146.5h1M277.9 118.4h1M270.6 147.4h1M275.5 143.2h1M264.5 118.9h1M267.2 119.1h1M267.3 148.9h1M261.2 154.2h1M266.4 143.2h1M287.2 149.9h1M257.4 133.6h1M256.4 149.4h1M276.0 105.2h1M263.3 147.3h1M273.3 105.5h1M254.0 129.6h1M268.3 133.3h1M266.4 154.1h1M277.0 134.2h1M264.5 144.5h1M255.8 155.8h1M257.1 137.0h1M265.2 155.8h1M277.4 151.6h1M255.4 121.0h1M277.2 114.3h1M259.2 145.0h1M281.1 135.4h1M276.7 107.2h1M290.1 144.7h1M291.7 153.1h1M278.2 122.2h1M271.7 149.2h1M276.7 132.9h1M262.2 147.0h1M258.4 135.8h1M260.0 143.7h1M280.1 155.5h1M254.0 144.1h1M269.0 105.7h1M294.5 130.1h1M262.5 110.1h1M265.3 140.9h1M285.5 150.5h1M254.0 145.5h1M277.9 105.1h1M254.0 150.2h1M284.7 146.4h1M269.0 139.1h1M276.3 155.8h1M283.9 108.8h1M294.1 124.0h1M266.8 107.8h1M269.3 134.9h1M283.4 110.9h1M280.5 132.4h1M285.5 149.0h1M287.0 120.9h1M277.2 120.0h1M274.2 133.9h1M264.6 127.1h1M254.0 155.8h1M256.6 120.8h1M266.9 154.4h1M257.2 130.2h1M254.7 114.2h1M266.8 145.5h1M258.4 144.3h1M264.4 150.1h1M265.6 148.0h1M277.6 131.6h1M272.2 125.0h1M268.8 132.4h1M271.1 155.8h1M272.1 155.8h1M269.9 136.6h1M267.8 121.6h1M295.2 130.7h1M264.8 105.3h1M272.0 134.6h1M279.8 105.7h1M265.1 114.0h1M271.5 143.7h1M269.0 144.5h1M287.4 114.6h1M283.0 137.5h1M276.4 107.2h1M254.0 121.2h1M274.7 139.2h1M281.7 155.8h1M269.5 152.0h1M270.9 138.9h1M261.9 132.7h1M272.8 108.6h1M264.8 111.8h1M275.2 105.4h1M278.5 127.5h1M269.1 119.7h1M284.8 115.1h1M287.5 114.3h1M275.7 127.0h1M266.4 123.9h1M279.4 128.6h1M277.8 126.8h1M277.3 117.7h1M270.9 155.8h1M277.1 134.2h1M255.4 148.7h1M278.2 153.1h1M281.7 123.1h1M272.7 133.8h1M255.3 125.2h1M289.3 110.0h1M275.6 114.5h1M264.5 128.9h1M287.9 150.2h1M261.5 113.3h1M254.5 120.5h1M268.4 149.0h1M271.5 110.5h1M278.2 113.0h1M256.6 111.8h1M288.3 139.4h1M258.2 113.0h1M264.2 125.8h1M258.9 141.1h1M288.1 152.8h1M272.6 151.5h1M283.4 154.8h1M282.6 155.8h1M286.8 124.5h1M277.1 106.9h1M254.0 114.1h1M266.4 142.6h1M279.7 143.9h1M286.2 133.9h1M281.5 121.8h1M256.4 118.5h1M269.4 129.9h1M272.8 113.9h1M271.2 140.3h1M278.4 150.7h1M279.4 124.3h1M265.0 136.0h1M271.5 132.7h1M287.9 123.8h1M296.3 125.5h1M256.5 143.2h1M271.5 127.0h1M265.3 154.1h1M257.0 130.8h1M272.5 126.7h1M268.7 155.8h1M257.3 142.1h1M281.4 148.2h1M281.9 138.8h1M273.7 109.5h1M271.9 138.9h1M262.7 143.7h1M264.5 154.3h1M262.8 122.1h1M289.7 108.5h1M254.7 125.9h1M280.9 130.9h1M268.1 155.8h1M254.0 114.0h1M281.0 134.1h1M259.8 135.2h1M277.9 117.8h1M254.5 127.1h1M266.4 147.6h1M274.7 131.5h1M286.7 133.7h1M267.3 111.0h1M259.3 118.5h1M283.5 139.3h1M274.8 112.7h1M266.9 133.2h1M268.2 138.7h1M262.8 145.3h1M290.6 155.8h1M254.0 155.8h1M255.9 143.4h1M267.4 155.8h1M255.5 154.4h1M286.3 144.3h1M283.4 155.8h1M269.2 143.4h1M267.3 121.6h1M283.0 130.6h1M276.3 130.9h1M278.3 117.2h1M281.9 114.3h1M269.2 145.3h1M269.3 108.0h1M279.2 119.9h1M277.6 124.1h1M268.4 134.3h1M254.0 155.6h1M265.6 142.9h1M265.8 131.8h1M277.8 142.2h1M254.0 131.6h1M281.6 144.9h1M273.4 135.8h1M278.3 118.2h1M285.4 155.8h1M288.3 107.2h1M285.6 154.1h1M269.4 113.7h1M264.4 144.8h1M285.5 142.6h1M278.5 112.9h1M259.3 134.3h1M287.1 115.3h1M279.8 144.7h1M269.6 152.1h1M273.5 143.7h1M272.1 145.9h1M266.5 138.4h1M267.3 132.7h1M281.1 147.7h1M284.1 145.5h1M286.8 136.8h1M282.8 106.0h1M273.9 131.3h1M270.1 111.8h1M258.4 140.8h1M290.0 115.2h1M271.2 155.7h1M254.0 136.2h1M260.3 149.7h1M282.9 147.3h1M283.2 123.6h1M275.8 106.8h1M286.5 107.3h1M277.5 107.2h1M254.0 124.6h1M267.0 108.7h1M276.5 114.4h1M273.8 110.3h1M269.4 116.7h1" stroke="#000" stroke-width="1" fill="none"/>
<path d="M299.1 113.4h.9M285.0 103.2h.9M271.2 103.5h.9M297.1 113.6h.9M297.7 136.3h.9M300.3 105.6h.9M256.5 99.6h.9M304.2 124.6h.9M299.2 125.5h.9M297.7 125.6h.9M302.0 155.8h.9M257.2 102.2h.9M298.6 106.3h.9M267.0 103.9h.9M295.1 91.6h.9M303.1 132.1h.9M263.7 104.1h.9M254.5 102.9h.9M278.0 103.2h.9M300.3 143.7h.9M304.1 115.9h.9M279.4 98.7h.9M285.2 103.3h.9M264.9 100.2h.9M272.1 102.6h.9M280.8 98.6h.9M254.0 104.2h.9M270.2 100.9h.9M279.4 100.4h.9M296.6 111.8h.9M272.5 102.9h.9M297.3 153.6h.9M280.0 102.8h.9M301.2 113.2h.9M273.9 103.2h.9M254.0 103.9h.9M261.6 103.5h.9M272.6 100.7h.9M307.1 136.4h.9M255.0 104.5h.9M301.6 129.1h.9M299.1 127.8h.9M310.1 155.8h.9M274.4 104.6h.9M300.2 120.2h.9M283.3 104.4h.9M275.3 102.4h.9M273.3 102.3h.9M273.0 99.3h.9M298.0 126.2h.9M259.1 103.1h.9M288.1 104.0h.9M294.4 103.4h.9M285.3 100.6h.9M270.5 99.1h.9M301.0 151.4h.9M277.2 99.1h.9M260.8 96.8h.9M279.7 102.6h.9M285.6 103.9h.9M296.6 147.1h.9M301.3 134.2h.9M267.4 102.2h.9M278.7 102.9h.9M301.8 149.7h.9M299.5 146.6h.9M290.9 103.1h.9M265.4 102.5h.9M265.7 104.2h.9M270.4 103.6h.9M265.9 103.1h.9M274.5 104.2h.9M298.3 155.8h.9M298.3 155.8h.9M297.3 132.8h.9M298.0 140.2h.9M297.6 155.8h.9M272.5 104.2h.9M301.7 136.1h.9M283.4 102.2h.9M262.4 101.5h.9M267.3 102.6h.9M294.0 104.6h.9M277.7 101.6h.9M254.0 102.2h.9M267.1 99.1h.9M289.7 99.8h.9M309.0 154.5h.9M272.9 102.4h.9M301.6 109.2h.9M281.7 101.0h.9M274.0 101.5h.9M287.8 100.3h.9M285.6 99.7h.9M257.9 98.6h.9M268.1 102.0h.9M288.8 99.1h.9M263.0 104.4h.9M284.7 102.6h.9M279.1 104.5h.9M297.7 146.0h.9M297.4 152.8h.9M297.7 154.2h.9M274.1 103.9h.9M262.5 104.0h.9M288.2 103.0h.9M267.3 103.1h.9M299.1 107.3h.9M268.4 103.6h.9M256.0 101.9h.9M266.1 97.7h.9M296.8 143.1h.9M287.2 92.1h.9M278.4 92.1h.9M282.2 101.1h.9M277.6 98.1h.9M258.9 91.0h.9M275.4 82.9h.9M277.5 90.2h.9M271.4 78.4h.9M267.1 76.7h.9M254.0 91.4h.9M262.4 101.3h.9M264.1 98.5h.9M266.5 101.8h.9M273.4 89.0h.9M274.5 87.4h.9M299.6 112.8h.9M256.4 79.2h.9M273.4 88.9h.9M267.7 82.1h.9M281.0 80.2h.9M254.0 87.8h.9M280.9 87.4h.9M268.3 98.7h.9M267.5 85.2h.9M298.9 101.6h.9M269.7 71.4h.9M300.9 97.4h.9M303.1 86.9h.9M275.6 101.3h.9M281.4 98.7h.9M292.4 70.2h.9M297.3 92.8h.9M259.0 81.8h.9M293.5 80.2h.9M254.0 101.9h.9M268.3 91.9h.9M272.5 93.1h.9M278.8 101.5h.9M262.9 92.1h.9M284.7 89.2h.9M272.2 82.2h.9M259.5 102.4h.9M282.9 85.9h.9M274.0 84.7h.9M257.5 87.0h.9M261.3 77.4h.9M298.7 93.1h.9M269.1 101.4h.9M279.4 84.6h.9M264.7 87.5h.9M271.0 92.4h.9M264.4 101.5h.9M282.7 97.3h.9M287.0 92.2h.9M283.5 76.5h.9M265.9 88.7h.9M262.5 100.6h.9M254.0 99.4h.9M287.2 91.0h.9M267.1 88.9h.9M254.1 63.5h.9M255.0 103.6h.9M283.2 99.4h.9M267.5 82.7h.9M282.6 97.1h.9M279.9 71.7h.9M287.1 97.4h.9M310.0 59.4h.9M274.6 78.0h.9M316.8 103.1h.9M309.3 46.3h.9M289.2 86.3h.9M255.2 99.7h.9M319.7 80.1h.9M274.6 84.4h.9M264.8 69.5h.9M276.0 56.5h.9M254.5 80.9h.9M263.4 62.5h.9M286.3 42.3h.9M259.3 41.3h.9M279.0 79.6h.9M303.2 47.6h.9M300.8 58.0h.9M300.2 78.3h.9M310.0 85.9h.9M279.7 83.2h.9M291.8 95.6h.9M279.5 93.6h.9M291.7 102.3h.9M363.9 62.9h.9M366.5 127.6h.9M368.6 107.9h.9M367.7 80.4h.9M367.0 121.3h.9M364.1 93.9h.9M364.2 112.4h.9M370.0 113.2h.9M365.2 111.4h.9M362.9 114.6h.9M367.7 87.4h.9M369.9 150.4h.9M360.7 142.5h.9M369.9 120.8h.9M362.2 149.5h.9M367.6 133.8h.9M365.3 141.0h.9M363.3 111.6h.9M362.3 154.2h.9M362.1 116.4h.9M361.4 126.2h.9M364.0 80.9h.9M368.0 152.0h.9M364.3 153.4h.9M370.7 151.5h.9M364.3 139.5h.9M363.0 133.8h.9M365.0 93.3h.9M369.1 105.3h.9M365.8 107.7h.9M367.9 85.2h.9M313.5 127.0h.9M355.1 145.1h.9M331.4 140.0h.9M319.3 98.9h.9M373.6 108.5h.9" stroke="#000" stroke-opacity=".7" stroke-width=".95" fill="none"/>
<path d="M254 9.6H402V155.8" fill="none" stroke="#666" stroke-width="1"/>
<line x1="254" y1="9.6" x2="254" y2="155.8" stroke="#000" stroke-width="1.2"/>
<line x1="254" y1="155.8" x2="402" y2="155.8" stroke="#000" stroke-width="1.2"/>
<line x1="327.5" y1="9.6" x2="327.5" y2="155.8" stroke="#111" stroke-width="1.15"/>
<line x1="254" y1="110.6" x2="402" y2="110.6" stroke="#555" stroke-width="1.2"/>
<path d="M254 155.8h-3.2M254.0 155.8v3.2M254 144.8h-1.8M265.1 155.8v1.8M254 138.4h-1.8M271.7 155.8v1.8M254 133.8h-1.8M276.3 155.8v1.8M254 130.3h-1.8M279.9 155.8v1.8M254 127.4h-1.8M282.8 155.8v1.8M254 124.9h-1.8M285.3 155.8v1.8M254 122.8h-1.8M287.4 155.8v1.8M254 120.9h-1.8M289.3 155.8v1.8M254 119.2h-3.2M291.0 155.8v3.2M254 108.2h-1.8M302.1 155.8v1.8M254 101.8h-1.8M308.7 155.8v1.8M254 97.2h-1.8M313.3 155.8v1.8M254 93.7h-1.8M316.9 155.8v1.8M254 90.8h-1.8M319.8 155.8v1.8M254 88.4h-1.8M322.3 155.8v1.8M254 86.2h-1.8M324.4 155.8v1.8M254 84.4h-1.8M326.3 155.8v1.8M254 82.7h-3.2M328.0 155.8v3.2M254 71.7h-1.8M339.1 155.8v1.8M254 65.3h-1.8M345.7 155.8v1.8M254 60.7h-1.8M350.3 155.8v1.8M254 57.2h-1.8M353.9 155.8v1.8M254 54.3h-1.8M356.8 155.8v1.8M254 51.8h-1.8M359.3 155.8v1.8M254 49.7h-1.8M361.4 155.8v1.8M254 47.8h-1.8M363.3 155.8v1.8M254 46.2h-3.2M365.0 155.8v3.2M254 35.1h-1.8M376.1 155.8v1.8M254 28.7h-1.8M382.7 155.8v1.8M254 24.1h-1.8M387.3 155.8v1.8M254 20.6h-1.8M390.9 155.8v1.8M254 17.7h-1.8M393.8 155.8v1.8M254 15.3h-1.8M396.3 155.8v1.8M254 13.1h-1.8M398.4 155.8v1.8M254 11.3h-1.8M400.3 155.8v1.8M254 9.6h-3.2M402 155.8v3.2" stroke="#000" stroke-width="0.8" fill="none"/>
<path d="M103.4 282.8h1M96.7 282.0h1M116.5 273.3h1M110.7 286.1h1M100.1 270.1h1M122.6 272.5h1M118.6 295.5h1M103.2 307.3h1M121.4 287.8h1M125.1 310.6h1M98.9 296.2h1M104.2 270.4h1M101.5 317.8h1M120.3 318.3h1M101.1 272.9h1M113.7 299.3h1M113.8 306.4h1M111.1 304.3h1M120.6 296.0h1M128.2 308.3h1M97.6 307.9h1M106.4 280.3h1M117.9 303.9h1M98.9 306.8h1M111.4 284.5h1M122.3 277.5h1M118.7 306.5h1M119.8 318.3h1M126.6 281.2h1M100.6 316.1h1M107.6 286.7h1M106.7 301.4h1M104.7 308.1h1M125.2 303.2h1M120.0 282.3h1M113.3 293.5h1M118.4 304.7h1M102.6 290.4h1M127.2 318.3h1M108.5 272.3h1M126.5 298.9h1M116.6 279.2h1M100.5 272.4h1M127.9 302.9h1M99.8 313.3h1M100.3 318.1h1M103.1 276.0h1M105.8 318.3h1M111.7 290.4h1M109.6 279.3h1M122.9 312.3h1M114.1 315.7h1M101.2 288.2h1M111.1 304.2h1M123.3 306.8h1M105.7 318.3h1M106.6 298.5h1M127.5 296.8h1M124.0 274.0h1M123.4 288.4h1M131.5 307.9h1M121.1 309.1h1M112.6 306.0h1M127.4 289.0h1M130.6 312.0h1M117.5 311.7h1M113.8 318.3h1M112.4 302.1h1M128.9 278.8h1M121.3 310.1h1M112.4 274.2h1M104.3 284.2h1M128.8 277.2h1M116.3 318.3h1M104.0 282.1h1M134.2 309.3h1M126.2 286.7h1M108.5 278.3h1M112.1 318.3h1M132.0 305.9h1M102.9 313.4h1M127.0 318.3h1M129.5 283.9h1M122.3 309.7h1M121.6 295.3h1M126.1 312.0h1M119.8 308.4h1M108.8 318.3h1M124.3 274.0h1M126.2 288.3h1M110.0 314.5h1M96.0 300.3h1M119.4 291.1h1M104.2 307.8h1M96.0 292.7h1M101.8 289.6h1M123.4 286.9h1M98.4 296.1h1M123.8 313.3h1M118.9 300.7h1M103.2 284.7h1M107.5 307.0h1M132.4 303.1h1M136.0 318.3h1M102.3 308.1h1M128.1 307.6h1M127.1 278.0h1M110.7 277.2h1M124.4 285.0h1M101.9 318.3h1M109.6 318.3h1M116.7 279.4h1M110.3 318.3h1M127.7 291.0h1M96.0 286.9h1M98.5 303.3h1M109.8 293.6h1M119.3 304.8h1M117.3 270.4h1M126.2 295.5h1M104.9 309.9h1M128.6 304.0h1M109.2 316.8h1M125.7 316.1h1M107.5 309.9h1M98.1 286.0h1M118.3 298.7h1M102.3 284.7h1M126.0 291.3h1M105.6 311.5h1M106.0 318.3h1M101.5 299.9h1M123.2 307.6h1M114.9 285.8h1M124.6 284.2h1M131.9 315.1h1M112.3 288.7h1M97.5 286.6h1M113.3 277.9h1M116.1 314.0h1M96.0 318.3h1M96.0 306.2h1M113.7 295.9h1M118.8 282.8h1M114.0 300.1h1M135.4 286.5h1M118.2 278.3h1M111.9 273.0h1M124.5 284.3h1M96.0 305.9h1M123.1 284.8h1M98.7 308.9h1M109.1 277.0h1M126.5 318.3h1M118.2 309.5h1M112.5 295.2h1M96.0 309.4h1M114.5 318.3h1M126.7 318.3h1M112.3 273.6h1M96.2 297.9h1M115.6 308.6h1M100.6 315.4h1M119.8 295.8h1M104.3 280.3h1M120.8 312.0h1M98.1 318.3h1M114.0 304.1h1M130.4 294.5h1M99.3 290.1h1M115.5 276.8h1M114.9 317.7h1M96.5 299.9h1M135.3 281.0h1M113.0 318.3h1M132.2 289.6h1M123.2 289.9h1M99.0 281.6h1M112.9 293.8h1M96.0 283.6h1M105.8 277.4h1M99.6 318.3h1M106.2 277.8h1M101.7 292.4h1M114.6 304.7h1M106.1 278.9h1M99.4 311.4h1M112.3 281.0h1M96.0 296.9h1M113.4 301.7h1M123.7 301.8h1M118.3 291.7h1M123.9 285.2h1M123.9 309.7h1M97.2 296.0h1M124.6 300.0h1M118.0 300.6h1M131.3 291.8h1M98.7 302.6h1M120.6 317.5h1M103.2 300.1h1M96.0 288.4h1M124.0 313.3h1M124.3 297.8h1M118.1 283.8h1M133.5 293.3h1M128.5 293.9h1M116.0 282.7h1M135.6 280.0h1M125.7 309.1h1M109.6 310.5h1M115.0 276.7h1M99.7 305.5h1M96.0 311.3h1M119.1 301.1h1M106.0 307.4h1M113.5 285.3h1M113.0 294.9h1M102.7 283.2h1M114.1 275.9h1M112.1 295.7h1M107.4 284.3h1M133.0 305.8h1M116.1 293.1h1M131.9 277.4h1M110.8 281.1h1M108.4 317.2h1M109.1 318.3h1M119.1 296.7h1M102.8 318.3h1M123.1 306.5h1M98.2 316.3h1M133.5 318.3h1M96.0 288.7h1M103.8 303.0h1M121.1 290.3h1M104.9 271.9h1M108.4 277.5h1M102.2 285.7h1M111.7 313.5h1M115.9 285.8h1M110.5 296.4h1M122.6 296.2h1M110.6 315.0h1M117.2 277.4h1M104.8 294.4h1M96.7 317.8h1M133.0 275.5h1M99.7 301.3h1M126.6 318.3h1M127.3 297.1h1M124.2 281.4h1M111.3 272.1h1M100.9 287.4h1M126.7 289.1h1M125.6 277.9h1M118.7 270.0h1M109.5 293.4h1M115.7 297.8h1M98.1 299.3h1M96.0 282.8h1M105.3 294.9h1M111.1 282.4h1M118.1 283.2h1M112.9 275.0h1M105.2 318.3h1M130.7 294.5h1M126.4 315.9h1M96.0 293.9h1M126.0 276.9h1M120.9 279.2h1M129.8 303.4h1M116.3 311.0h1M121.2 284.2h1M117.6 282.2h1M112.4 277.6h1M124.6 318.3h1M132.2 315.0h1M122.2 318.3h1M109.8 308.4h1M103.2 295.7h1M127.7 299.8h1M126.5 282.4h1M113.9 308.4h1M122.8 318.3h1M117.2 286.8h1M98.4 281.8h1M99.9 309.4h1M97.6 318.3h1M119.6 289.3h1M120.4 318.3h1M119.4 309.3h1M103.0 310.8h1M111.4 295.6h1M127.2 309.4h1M106.2 281.2h1M105.4 297.6h1M101.6 281.6h1M110.4 279.4h1M117.0 287.6h1M121.4 290.2h1M96.0 305.6h1M123.2 278.3h1M114.3 310.7h1M136.1 312.9h1M117.0 288.9h1M115.2 293.2h1M120.3 318.3h1M136.7 285.8h1M123.1 278.1h1M96.0 318.3h1M120.9 282.1h1M108.4 278.6h1M131.9 318.3h1M100.7 281.9h1M115.1 293.9h1M119.9 318.1h1M120.7 317.1h1M117.1 318.3h1M112.6 312.6h1M105.9 272.5h1M120.8 280.6h1M116.9 304.6h1M128.2 287.8h1M124.8 311.1h1M121.5 311.4h1M120.6 282.1h1M124.6 304.4h1M114.0 294.6h1M105.4 289.9h1M114.6 297.1h1M123.8 301.0h1M112.2 305.1h1M125.7 318.3h1M102.4 292.7h1M111.3 288.1h1M117.8 297.5h1M110.0 284.9h1M117.1 270.4h1M115.4 309.4h1M108.1 303.4h1M119.2 303.6h1M102.8 289.7h1M97.9 274.0h1M105.9 318.3h1M126.0 308.4h1M101.6 301.1h1M121.7 298.4h1M107.9 283.2h1M102.3 310.2h1M96.0 298.4h1M109.6 313.7h1M130.4 277.4h1M105.5 272.1h1M128.3 282.1h1M96.4 304.6h1M101.4 317.4h1M109.3 291.7h1M105.3 282.5h1M122.0 312.1h1M102.1 309.3h1M117.4 314.3h1M114.3 303.4h1M112.7 278.6h1M116.4 281.0h1M132.8 285.3h1M96.0 301.5h1M137.9 302.3h1M119.5 318.3h1M124.2 295.7h1M96.0 295.8h1M117.4 293.1h1M129.1 271.4h1M117.9 298.9h1M107.1 294.8h1M123.5 284.9h1M99.6 318.3h1M120.0 287.0h1M115.0 305.7h1M105.5 296.8h1M108.7 314.1h1M96.0 299.9h1M97.1 301.4h1M119.7 290.9h1M113.5 307.9h1M101.8 275.7h1M96.0 303.6h1M122.3 298.6h1M122.3 277.3h1M99.0 285.8h1M103.4 283.2h1M102.2 313.5h1M101.9 314.3h1M103.7 305.6h1M103.1 286.4h1M119.5 290.2h1M112.6 276.1h1M112.4 290.2h1M105.7 276.9h1M103.0 307.2h1M113.5 295.0h1M102.4 305.0h1M111.6 304.4h1M106.9 291.3h1M127.5 298.2h1M119.9 294.3h1M102.7 318.2h1M124.8 301.7h1M100.7 279.3h1M132.1 292.6h1M118.2 318.3h1M114.1 318.3h1M119.9 305.0h1M110.7 309.0h1M109.1 318.3h1M113.8 310.1h1M120.5 305.3h1M113.9 280.2h1M128.4 279.3h1M119.9 296.6h1M133.1 276.3h1M123.8 304.7h1M128.5 291.6h1M109.9 286.2h1M104.4 271.6h1M115.9 306.8h1M97.9 308.4h1M102.0 311.0h1M103.1 318.3h1M118.2 318.0h1M107.4 270.8h1M96.0 318.3h1M112.9 312.7h1M109.4 307.4h1M125.8 277.2h1M107.6 299.5h1M101.8 293.8h1M96.0 298.2h1M128.3 318.3h1M113.9 318.3h1M109.4 301.3h1M98.9 302.8h1M114.7 281.8h1M102.3 293.6h1M103.8 273.8h1M119.4 307.8h1M127.1 313.2h1M111.9 301.0h1M124.5 284.6h1M105.9 287.2h1M115.0 289.3h1M110.3 286.4h1M111.3 308.8h1M124.3 289.9h1M122.6 308.6h1M111.1 296.1h1M105.0 314.9h1M131.9 318.3h1M112.7 298.3h1M108.7 318.3h1M110.1 316.6h1M119.9 288.2h1M96.0 311.9h1M96.0 309.8h1M108.4 314.4h1M115.3 297.7h1M124.7 307.0h1M118.8 318.3h1M104.5 296.6h1M121.4 289.9h1M110.3 293.7h1M110.7 281.5h1M107.2 309.9h1M120.3 284.9h1M129.2 294.5h1M117.2 318.3h1M115.9 302.2h1M130.3 300.5h1M107.7 273.9h1M116.5 318.3h1M110.9 288.2h1M122.1 310.2h1M100.4 313.8h1M96.0 292.3h1M116.5 285.3h1M119.0 288.0h1M100.2 315.3h1M128.6 307.3h1M96.0 276.6h1M132.0 310.3h1M113.3 298.0h1M124.1 279.6h1M120.5 272.0h1M107.8 313.1h1M123.2 293.4h1M124.3 285.0h1M105.1 286.8h1M129.6 310.3h1M106.5 312.7h1M101.2 279.7h1M111.8 274.9h1M99.1 317.8h1M113.7 290.6h1M117.8 271.4h1M115.3 282.1h1M126.4 307.1h1M107.0 318.3h1M104.3 307.5h1M114.6 270.8h1M134.1 286.9h1M112.2 318.3h1M132.5 295.9h1M109.9 280.9h1M133.7 318.3h1M108.7 318.1h1M123.2 277.2h1M103.2 299.3h1M115.0 303.2h1M110.6 302.6h1M119.9 318.3h1M120.1 297.4h1M109.5 278.0h1M124.5 283.8h1M122.1 318.3h1M126.1 297.0h1M104.6 309.4h1M122.5 318.3h1M118.9 313.8h1M104.5 281.2h1M105.8 303.3h1M118.1 311.0h1M114.7 280.1h1M108.6 318.3h1M128.5 279.0h1M109.9 285.9h1M126.3 312.8h1M113.8 292.9h1M127.0 282.1h1M117.5 276.7h1M113.4 312.7h1M103.3 286.0h1M114.7 308.8h1M107.1 306.0h1M118.5 311.5h1M110.9 299.7h1M122.7 281.3h1M110.1 318.3h1M124.9 276.5h1M116.7 300.1h1M117.2 309.7h1M108.6 272.7h1M96.0 316.0h1M112.1 292.6h1M114.2 282.1h1M122.4 289.1h1M117.9 315.6h1M119.2 292.7h1M125.2 282.1h1M108.0 304.5h1M103.6 282.8h1M105.9 314.3h1M96.0 297.2h1M113.3 284.2h1M124.1 310.0h1M113.2 316.0h1M124.6 293.5h1M129.3 290.5h1M129.9 294.4h1M113.6 312.5h1M121.2 288.8h1M130.8 298.7h1M98.7 318.3h1M114.5 288.8h1M109.7 297.5h1M106.3 296.2h1M102.2 304.8h1M108.2 281.7h1M101.5 301.6h1M114.0 290.6h1M122.2 318.3h1M113.0 275.7h1M116.1 288.5h1M115.4 298.5h1M96.0 287.6h1M118.7 293.7h1M130.1 295.0h1M106.0 314.3h1M113.8 284.2h1M134.1 301.0h1M116.1 285.4h1M128.3 281.5h1M132.8 295.8h1M108.7 302.7h1M108.6 311.4h1M102.8 280.9h1M109.1 318.3h1M111.8 283.6h1M116.0 312.5h1M119.5 300.1h1M106.3 318.3h1M107.6 313.6h1M131.6 317.3h1M112.6 308.0h1M137.5 314.2h1M107.2 316.6h1M102.5 311.2h1M102.1 272.1h1M96.5 274.2h1M126.3 314.0h1M124.1 276.7h1M118.7 303.7h1M99.2 283.0h1M102.4 303.6h1M113.9 291.1h1M119.1 288.2h1M120.6 313.3h1M135.1 305.9h1M106.0 291.8h1M96.0 314.9h1M106.5 297.4h1M125.5 306.1h1M96.0 278.8h1M115.6 280.6h1M132.7 301.6h1M103.0 318.3h1M113.1 270.3h1M113.1 318.3h1M99.7 295.2h1M119.4 289.2h1M99.5 274.9h1M98.4 308.3h1M124.6 279.1h1M96.0 281.2h1M112.7 288.0h1M96.0 278.7h1M96.0 278.5h1M118.8 318.3h1M122.0 290.1h1M129.7 295.2h1M129.3 297.9h1M115.5 313.0h1M127.5 288.0h1M116.6 294.0h1M124.0 282.2h1M114.5 301.5h1M128.1 313.4h1M133.5 292.2h1M96.0 289.1h1M113.8 280.3h1M136.1 302.5h1M100.8 301.9h1M98.2 309.2h1M96.0 277.2h1M104.8 281.6h1M114.2 306.6h1M96.0 307.2h1M104.8 299.2h1M109.5 302.9h1M129.4 271.3h1M107.1 292.5h1M135.5 281.7h1M137.8 313.5h1M100.2 292.2h1M128.9 310.3h1M124.9 305.3h1M105.4 276.8h1M119.7 292.5h1M118.5 287.9h1M98.9 294.0h1M119.8 285.1h1M128.4 277.8h1M126.3 301.1h1M101.3 285.4h1M114.8 318.3h1M131.7 296.4h1M111.7 303.2h1M96.0 295.9h1M105.9 311.8h1M120.4 316.4h1M119.2 296.1h1M108.2 305.1h1M126.5 318.3h1M124.8 309.5h1M124.9 300.7h1M125.0 273.5h1M114.4 276.6h1M119.7 274.9h1M111.5 295.9h1M106.7 317.2h1M128.3 312.8h1M103.8 286.4h1M112.4 308.9h1M112.3 318.3h1M97.1 293.1h1M125.2 297.5h1M101.8 317.6h1M105.5 280.6h1M114.2 308.9h1M103.3 299.5h1M100.6 294.0h1M119.4 282.0h1M115.2 287.5h1M117.3 307.9h1M128.7 295.7h1M96.0 308.1h1M130.8 281.9h1M130.8 303.9h1M108.9 314.7h1M101.4 303.3h1M118.9 292.3h1M96.0 286.9h1M96.0 314.3h1M113.2 290.3h1M115.1 318.3h1M133.3 293.1h1M105.7 282.2h1M114.5 312.7h1M114.9 302.3h1M117.9 303.0h1M111.2 295.6h1M104.0 309.4h1M126.8 306.0h1M107.4 302.9h1M96.0 318.3h1M105.2 290.1h1M114.3 296.0h1M124.9 314.7h1M119.8 298.4h1M125.1 317.1h1M128.0 292.9h1M113.4 305.2h1M111.2 316.0h1M124.1 313.1h1M127.2 278.6h1M102.2 298.8h1M122.1 286.1h1M119.6 308.4h1M96.0 308.7h1M100.1 289.0h1M111.0 307.1h1M111.5 292.1h1M116.1 304.4h1M118.5 304.9h1M132.3 292.6h1M124.6 272.4h1M106.1 298.7h1M123.1 277.4h1M114.5 305.4h1M96.4 308.2h1M124.5 314.4h1M100.9 288.6h1M112.8 305.7h1M96.0 282.8h1M110.6 311.4h1M112.6 303.0h1M110.6 315.4h1M103.2 289.9h1M117.9 298.0h1M104.2 309.3h1M102.3 316.3h1M129.0 269.7h1M123.5 276.4h1M103.9 309.8h1M127.9 288.8h1M116.4 304.7h1M120.5 311.7h1M120.7 318.3h1M104.5 287.1h1M104.2 279.3h1M116.0 301.0h1M104.6 295.1h1M96.0 313.6h1M125.7 304.5h1M101.2 275.7h1M96.0 318.3h1M117.0 275.2h1M106.3 318.3h1M96.0 295.8h1M103.4 308.5h1M105.5 306.2h1M126.2 305.5h1M107.9 293.9h1M116.8 296.0h1M114.5 302.9h1M96.0 318.3h1M137.2 312.4h1M107.0 296.6h1M116.7 298.6h1M118.7 301.3h1M119.5 286.8h1M117.6 301.4h1M106.7 318.3h1M128.7 305.2h1M120.0 279.5h1M119.9 291.1h1M126.8 302.3h1M101.3 295.0h1M114.7 276.3h1M121.8 308.0h1M126.4 300.3h1M103.8 296.7h1M96.0 273.8h1M125.1 299.8h1M109.9 289.1h1M114.5 305.6h1M108.7 306.0h1M97.0 285.3h1M100.5 302.6h1M122.2 313.9h1M113.2 282.2h1M105.2 281.0h1M105.1 297.1h1M96.0 310.4h1M117.6 318.3h1M127.3 318.3h1M121.7 316.5h1M120.5 298.3h1M116.4 277.5h1M107.8 289.0h1M117.9 312.1h1M137.2 280.8h1M121.3 277.6h1M111.9 318.3h1M124.7 297.8h1M104.2 318.3h1M128.0 290.1h1M108.7 301.6h1M118.1 273.2h1M129.1 312.4h1M124.0 318.3h1M121.0 282.5h1M124.1 281.5h1M101.6 275.3h1M99.7 294.5h1M124.3 314.5h1M134.9 303.4h1M104.1 318.3h1M122.3 273.7h1M96.0 305.5h1M122.8 286.2h1M104.7 318.3h1M97.6 315.0h1M107.8 313.1h1M104.6 294.7h1M96.3 277.9h1M114.6 308.7h1M96.0 284.0h1M130.7 305.0h1M96.0 298.0h1M104.5 282.9h1M103.6 303.8h1M105.6 315.9h1M125.6 298.1h1M107.0 294.6h1M118.3 294.3h1M106.6 276.9h1M117.4 300.6h1M96.0 279.8h1M105.7 304.2h1M120.1 306.5h1M113.2 285.0h1M112.4 297.2h1M104.9 318.3h1M106.5 318.3h1M100.6 315.0h1M127.7 313.9h1M123.9 318.3h1M134.1 290.3h1M109.7 315.7h1M113.0 305.8h1M135.0 287.8h1M127.7 275.8h1M105.9 318.3h1M125.7 305.8h1M119.7 282.4h1M107.1 287.5h1M104.5 304.8h1M117.4 296.5h1M131.1 291.9h1M108.4 305.4h1M111.0 318.3h1M104.9 310.2h1M106.4 280.4h1M132.6 299.9h1M105.6 276.6h1M110.4 318.3h1M97.8 308.0h1M122.2 298.7h1M116.3 271.8h1M119.8 302.1h1M100.4 306.5h1M119.5 292.5h1M120.4 300.0h1M101.9 299.3h1M116.8 307.2h1M113.4 303.5h1M109.0 318.3h1M96.0 318.1h1M115.4 284.1h1M96.0 292.0h1M106.5 303.5h1M105.2 293.9h1M104.2 289.2h1M102.0 291.2h1M100.4 287.2h1M120.2 318.3h1M126.2 284.2h1M110.9 283.7h1M130.6 273.0h1M103.9 302.1h1M128.4 296.6h1M107.4 318.3h1M124.2 288.0h1M119.4 300.5h1M124.5 305.8h1M110.2 285.0h1M105.9 297.0h1M100.4 273.9h1M108.5 276.3h1M96.0 294.9h1M136.8 281.9h1M96.0 314.7h1M103.9 312.0h1M119.9 310.7h1M104.7 315.4h1M113.1 297.1h1M110.3 318.3h1M112.6 302.0h1M118.6 318.3h1M98.4 276.2h1M128.0 314.6h1M102.2 281.4h1M119.4 294.9h1M111.1 295.9h1M127.5 301.9h1M134.1 273.5h1M129.4 314.1h1M129.9 287.8h1M126.9 297.1h1M109.7 300.0h1M104.4 287.4h1M115.8 304.1h1M134.2 310.1h1M126.9 289.3h1M101.1 280.5h1M115.2 313.6h1M101.0 318.3h1M111.7 289.4h1M115.8 285.6h1M108.2 302.9h1M125.5 309.0h1M102.1 299.4h1M105.7 292.8h1M102.5 298.7h1M96.1 279.4h1M128.5 279.4h1M96.0 294.5h1M120.8 310.0h1M100.7 285.2h1M117.9 311.5h1M99.6 315.2h1M105.4 309.7h1M131.9 279.8h1M121.9 290.4h1M107.9 298.3h1M114.4 310.4h1M118.7 296.0h1M110.5 278.6h1M96.0 294.9h1M96.1 304.5h1M96.0 307.2h1M113.3 299.4h1M97.0 313.4h1M122.0 279.5h1M137.8 292.6h1M131.4 281.1h1M124.1 300.8h1M107.8 283.6h1M115.5 316.2h1M127.3 307.0h1M116.9 301.7h1M110.8 273.5h1M114.0 280.3h1M106.2 291.9h1M112.5 313.6h1M124.4 282.8h1M122.3 314.6h1M96.0 287.7h1M104.3 276.2h1M106.5 310.8h1M101.5 274.4h1M133.5 298.0h1M102.3 308.9h1M100.0 318.3h1M115.9 305.4h1M99.1 272.3h1M122.6 318.3h1M122.4 280.0h1M109.8 289.7h1M118.0 314.0h1M128.5 309.8h1M99.0 304.2h1M118.0 289.2h1M119.2 277.5h1M101.7 288.4h1M118.9 298.6h1M101.3 306.1h1M110.9 283.2h1M111.7 304.2h1M124.3 297.5h1M124.0 305.6h1M99.9 311.0h1M129.4 318.3h1M132.2 288.9h1M112.8 302.6h1M103.3 281.6h1M124.5 318.3h1M121.7 318.3h1M120.5 283.0h1M123.9 283.5h1M128.3 298.9h1M111.1 315.4h1M109.8 281.1h1M96.0 317.4h1M96.0 318.1h1M96.0 303.5h1M117.1 283.5h1M121.8 292.4h1M116.8 279.9h1M96.0 310.1h1M120.2 305.5h1M115.7 299.3h1M116.1 271.0h1M134.0 299.1h1M104.9 299.4h1M122.1 279.5h1M110.0 309.6h1M112.7 303.5h1M129.5 282.8h1M112.9 306.1h1M125.1 286.8h1M134.4 290.9h1M107.8 306.0h1M127.4 294.7h1M126.6 311.6h1M107.0 290.4h1M105.1 294.8h1M124.2 277.1h1M102.5 318.3h1M121.8 273.3h1M119.7 303.6h1M129.3 275.1h1M100.2 300.9h1M115.7 285.0h1M118.6 307.4h1M114.8 317.7h1M113.7 282.2h1M118.4 298.5h1M112.5 305.8h1M112.5 270.9h1M131.8 318.3h1M106.6 279.7h1M108.1 278.9h1M109.7 300.2h1M102.6 309.8h1M122.4 305.7h1M99.8 278.8h1M110.9 290.5h1M96.0 318.3h1M111.6 297.3h1M101.7 283.3h1M117.3 312.3h1M110.8 285.7h1M114.3 311.7h1M96.0 294.2h1M126.2 279.9h1M113.0 272.2h1M120.5 305.1h1M109.0 314.9h1M101.0 305.2h1M115.6 312.3h1M127.5 314.1h1M116.2 318.3h1M107.9 286.2h1M108.9 303.1h1M101.7 312.9h1M99.8 289.0h1M130.4 291.7h1M113.2 282.4h1M115.1 286.3h1M132.7 310.1h1M120.5 284.8h1M100.1 294.8h1M97.6 292.8h1M96.0 271.5h1M103.6 273.4h1M99.1 312.6h1M117.9 294.4h1M102.3 283.6h1M121.1 285.7h1M125.0 292.4h1M97.0 299.6h1M133.2 311.7h1M104.6 273.9h1M126.8 318.3h1M125.6 271.6h1M112.1 276.1h1M124.1 318.3h1M102.4 313.9h1M118.1 318.3h1M97.4 303.5h1M114.9 272.8h1M123.8 281.9h1M114.2 318.3h1M109.3 288.5h1M116.5 317.1h1M117.8 297.6h1M102.8 290.4h1M100.1 306.9h1M96.0 276.4h1M137.2 309.9h1M115.8 305.1h1M122.5 275.7h1M105.0 302.0h1M111.8 303.1h1M116.5 318.3h1M111.1 293.0h1M114.7 304.4h1M115.9 318.3h1M112.4 310.0h1M112.2 313.8h1M113.3 300.1h1M117.2 318.3h1M132.0 301.8h1M122.9 318.3h1M106.5 318.3h1M106.2 314.6h1M116.9 305.9h1M133.7 274.4h1M119.8 318.3h1M120.9 301.0h1M120.5 313.8h1M113.1 289.6h1M97.2 273.8h1M123.8 295.0h1M102.7 288.9h1M124.1 286.5h1M110.1 318.3h1M118.0 302.7h1M106.6 315.1h1M105.9 299.7h1M109.3 278.8h1M113.3 295.9h1M122.4 294.9h1M111.4 296.8h1M104.4 284.5h1M105.1 302.4h1M114.2 272.3h1M117.7 317.6h1M96.0 318.3h1M110.0 279.7h1M106.3 286.2h1M127.6 304.3h1M96.0 276.4h1M120.3 280.3h1M126.6 277.0h1M127.8 287.6h1M122.3 278.2h1M112.3 313.8h1M96.0 307.1h1M122.0 305.1h1M105.8 296.0h1M96.0 286.5h1M121.4 276.9h1M107.4 318.3h1M122.9 270.2h1M107.4 293.6h1M96.0 304.2h1M99.0 290.5h1M107.1 277.5h1M111.8 302.6h1M103.7 290.3h1M102.3 283.6h1M132.0 307.5h1M108.8 309.1h1M110.4 315.1h1M99.4 316.8h1M115.3 304.0h1M137.8 315.0h1M129.2 296.2h1M104.3 293.7h1M115.4 299.2h1M124.4 302.2h1M114.6 300.0h1M106.0 278.7h1M113.8 292.5h1M126.0 308.1h1M96.0 318.3h1M96.0 289.7h1M122.9 307.3h1M123.1 316.3h1M121.2 308.2h1M108.6 317.7h1M109.8 300.2h1M121.9 312.6h1M115.1 287.6h1M134.8 299.3h1M107.7 303.5h1M126.7 317.9h1M117.3 279.0h1M115.5 309.0h1M96.0 271.6h1M96.0 302.6h1M107.5 278.3h1M105.4 300.4h1M126.8 282.3h1M100.2 318.3h1M96.0 318.3h1M126.9 278.0h1M115.6 280.9h1M124.4 289.5h1M110.4 287.8h1M113.8 290.1h1M101.8 311.7h1M136.1 287.1h1M114.7 286.3h1M106.7 297.0h1M126.6 318.3h1M107.9 286.7h1M116.5 311.5h1M126.5 274.7h1M98.9 307.1h1M99.5 288.6h1M97.5 272.6h1M118.5 318.3h1M117.0 278.4h1M100.9 283.6h1M96.0 306.3h1M119.5 286.4h1M114.1 298.1h1M96.0 288.7h1M133.3 309.0h1M103.7 318.3h1M96.0 306.5h1M109.0 313.6h1M103.8 318.3h1M104.9 308.2h1M106.1 305.8h1M107.1 302.1h1M124.9 298.0h1M126.2 282.4h1M131.5 313.8h1M128.1 281.9h1M108.7 318.3h1M127.2 318.3h1M107.2 285.7h1M99.4 311.1h1M110.5 309.0h1M114.3 306.8h1M109.5 315.9h1M105.2 307.0h1M119.6 282.9h1M116.8 301.4h1M133.3 299.7h1M128.9 304.6h1M125.7 284.4h1M98.7 288.1h1M128.8 298.7h1M125.2 301.4h1M101.2 309.0h1M106.7 313.7h1M122.7 283.5h1M98.7 302.8h1M108.7 272.8h1M125.1 272.7h1M131.6 275.5h1M111.5 300.9h1M106.8 318.3h1M109.9 278.9h1M120.9 302.5h1M101.9 285.8h1M131.4 292.3h1M135.8 304.9h1M105.7 311.7h1M125.8 318.3h1M128.6 316.9h1M122.3 318.3h1M119.9 318.0h1M111.3 287.8h1M107.6 278.8h1M125.3 296.3h1M123.1 287.9h1M127.1 303.3h1M109.6 276.3h1M109.1 277.7h1M127.0 289.9h1M106.5 279.5h1M128.5 293.5h1M130.5 313.7h1M110.4 277.6h1M113.5 287.3h1M124.8 270.0h1M117.9 271.0h1M109.6 298.7h1M99.3 278.4h1M123.1 304.8h1M116.2 279.3h1M114.7 286.3h1M103.0 314.5h1M115.7 288.7h1M126.1 310.2h1M109.3 318.3h1M98.3 312.1h1M108.0 314.6h1M113.8 283.1h1M118.2 309.5h1M134.4 302.3h1M123.1 275.6h1M117.1 318.3h1M96.0 307.9h1M126.4 305.9h1M102.7 284.3h1M107.1 296.4h1M109.3 310.9h1M101.2 292.8h1M123.1 281.2h1M96.4 289.8h1M123.4 318.3h1M109.0 287.6h1M98.9 318.3h1M132.0 313.6h1M108.2 318.3h1M120.4 313.4h1M113.6 291.1h1M114.4 318.3h1M127.7 308.4h1M116.6 284.7h1M115.4 316.4h1M106.7 309.9h1M112.1 276.4h1M105.6 304.7h1M119.8 293.0h1M126.3 284.3h1M129.2 317.7h1M122.6 305.0h1M116.9 314.6h1M125.8 298.5h1M129.1 310.8h1M113.4 311.9h1M115.0 305.3h1M113.2 307.7h1M103.2 313.5h1M110.7 280.2h1M96.0 281.0h1M101.5 293.3h1M129.3 294.8h1M120.5 311.4h1M136.3 276.0h1M119.7 297.4h1M129.7 318.3h1M127.7 290.6h1M97.1 273.4h1M97.5 290.3h1M123.5 307.1h1M114.4 290.2h1M98.3 282.0h1M123.8 277.0h1M112.3 299.7h1M119.6 277.4h1M109.0 295.6h1M103.3 279.6h1M107.3 315.3h1M106.8 318.3h1M121.9 314.7h1M126.8 318.3h1M120.0 286.2h1M98.7 310.6h1M115.5 308.7h1M128.1 318.3h1M136.1 295.9h1M122.7 292.8h1M116.0 289.6h1M127.7 289.3h1M116.7 308.4h1M123.2 318.3h1M105.8 274.7h1M96.0 306.4h1M116.3 276.4h1M136.5 307.2h1M108.2 310.3h1M129.5 306.5h1M105.2 311.6h1M122.2 318.3h1M124.2 291.6h1M96.0 308.7h1M127.4 318.3h1M125.2 318.1h1M123.3 285.7h1M102.8 318.3h1M118.4 318.3h1M115.0 295.6h1M125.3 280.4h1M120.5 315.1h1M110.4 290.3h1M128.2 296.4h1M104.7 317.3h1M137.9 313.8h1M120.4 276.3h1M98.9 290.6h1M96.0 290.3h1M116.4 318.3h1M122.5 296.0h1M106.4 305.3h1M108.1 301.5h1M126.6 314.8h1M134.4 303.1h1M108.1 313.7h1M102.2 290.5h1M105.9 303.1h1M109.1 318.3h1M111.8 270.6h1M112.5 318.3h1M96.0 292.0h1M109.5 317.2h1M117.7 301.3h1M134.3 318.3h1M117.5 276.4h1M122.5 308.3h1M119.2 278.3h1M109.5 304.7h1M105.3 273.1h1M105.1 282.6h1M111.9 294.1h1M105.4 292.8h1M115.6 285.6h1M119.1 286.6h1M96.0 318.3h1M104.8 281.0h1M102.5 280.5h1M118.5 278.1h1M98.6 314.2h1M111.0 311.0h1M132.9 299.6h1M103.8 318.3h1M106.2 290.8h1M134.6 272.8h1M111.7 282.5h1M97.7 302.6h1M100.8 318.3h1M110.4 287.7h1M129.8 305.0h1M108.7 300.0h1M111.1 287.6h1M125.2 301.4h1M114.5 283.2h1M136.1 298.6h1M108.3 306.7h1M104.7 318.3h1M100.0 290.7h1M109.1 309.4h1M117.2 270.2h1M117.8 302.6h1M118.2 301.5h1M114.3 289.9h1M110.4 304.6h1M126.5 285.6h1M110.5 297.8h1M129.6 282.5h1M120.1 298.0h1M114.5 301.8h1M111.3 301.1h1M124.4 310.2h1M110.4 301.0h1M97.3 287.1h1M125.9 318.3h1M113.4 277.9h1M96.0 318.3h1M126.0 308.5h1M107.7 299.8h1M96.0 297.4h1M120.9 295.1h1M114.6 289.3h1M126.2 301.3h1M109.7 295.4h1M97.8 272.4h1M136.0 304.4h1M113.3 309.3h1M126.2 273.1h1M119.0 294.8h1M113.4 300.4h1M133.1 305.2h1M122.6 318.3h1M127.7 313.1h1M110.6 314.3h1M96.5 282.5h1M96.0 302.9h1M97.7 317.9h1M110.8 313.5h1M110.5 300.7h1M113.0 314.9h1M109.4 306.1h1M107.5 284.8h1M113.3 318.3h1M99.6 274.5h1M96.0 280.6h1M96.0 278.7h1M105.2 270.8h1M120.7 290.2h1M115.1 297.5h1M96.0 307.6h1M96.0 280.9h1M121.0 315.3h1M105.1 281.4h1M115.1 296.9h1M98.2 296.6h1M123.1 308.2h1M116.2 294.1h1M121.3 276.3h1M123.7 282.3h1M126.5 294.1h1M112.0 282.5h1M129.6 283.5h1M101.9 278.6h1M126.6 307.4h1M117.2 305.3h1M102.2 318.3h1M96.0 311.2h1M122.0 284.6h1M104.4 318.3h1M122.1 318.3h1M124.2 303.0h1M126.9 316.2h1M123.8 286.5h1M97.7 291.6h1M112.3 287.9h1M96.0 282.5h1M102.7 292.7h1M127.4 295.1h1M96.0 312.8h1M104.8 276.7h1M121.8 309.2h1M120.3 307.6h1M137.8 291.4h1M96.0 318.3h1M126.4 318.3h1M123.5 301.8h1M104.4 313.5h1M115.9 284.3h1M128.4 289.7h1M102.1 309.9h1M116.2 295.9h1M124.6 278.2h1M116.0 297.4h1M132.2 310.8h1M117.5 289.6h1M127.3 296.1h1M136.5 285.3h1M130.7 306.9h1M122.8 278.9h1M102.1 277.9h1M130.7 314.7h1M131.1 308.4h1M97.5 294.0h1M113.6 292.6h1M124.9 318.3h1M116.5 309.0h1M130.6 318.0h1M98.4 283.9h1M122.5 287.2h1M113.3 276.8h1M115.8 292.1h1M104.1 318.3h1M118.9 318.3h1M124.4 277.2h1M106.9 318.3h1M111.6 285.7h1M98.0 283.9h1M105.2 271.4h1M117.1 290.9h1M108.1 298.6h1M115.8 296.3h1M103.5 314.6h1M113.1 308.9h1M108.9 303.6h1M114.1 318.3h1M122.6 282.1h1M103.3 302.5h1M110.0 313.0h1M117.8 281.1h1M103.3 276.3h1M121.5 283.1h1M124.7 313.7h1M117.1 275.7h1M96.0 277.9h1M101.5 309.6h1M135.8 283.1h1M124.6 273.5h1M120.0 288.6h1M115.8 303.6h1M122.5 304.5h1M112.6 296.2h1M125.9 285.1h1M119.8 318.3h1M96.0 287.3h1M96.0 307.3h1M101.1 283.5h1M99.2 281.2h1M113.4 315.2h1M116.1 318.3h1M120.0 311.3h1M96.0 285.8h1M119.3 294.3h1M124.2 280.8h1M116.6 285.6h1M137.6 304.6h1M116.0 279.1h1M108.5 288.2h1M118.2 294.7h1M107.3 313.5h1M113.2 281.5h1M128.8 285.7h1M131.0 300.1h1M121.0 315.0h1M134.4 282.3h1M118.8 289.5h1M136.9 298.8h1M114.8 288.7h1M111.6 318.3h1M118.2 304.8h1M112.6 309.6h1M137.5 289.1h1M96.3 293.0h1M104.2 317.0h1M106.8 281.6h1M118.3 281.4h1M124.0 318.3h1M115.6 318.3h1M121.0 309.5h1M126.9 273.7h1M135.4 279.7h1M102.4 272.9h1M96.9 279.9h1M112.1 274.1h1M106.6 297.1h1M105.2 311.2h1M123.4 292.5h1M96.0 305.6h1M106.9 316.0h1M101.2 289.2h1M109.3 271.9h1M116.8 312.2h1M137.3 275.1h1M121.5 298.9h1M118.4 271.4h1M117.8 299.9h1M109.2 318.3h1M125.9 274.6h1M110.4 311.8h1M134.2 291.2h1M130.8 318.3h1M107.0 299.9h1M103.2 276.4h1M98.4 301.6h1M119.4 300.5h1M113.5 298.8h1M132.8 290.5h1M97.7 272.5h1M101.8 292.5h1M126.7 280.8h1M101.2 272.7h1M129.4 290.6h1M110.1 308.9h1M120.8 281.7h1M117.7 285.6h1M96.0 276.8h1M106.5 318.3h1M120.9 291.3h1M114.6 312.9h1M102.9 310.4h1M107.5 281.2h1M115.4 289.5h1M122.5 318.3h1M131.5 282.3h1M123.4 287.1h1M116.6 318.3h1M96.0 290.3h1M96.0 317.8h1M96.0 292.8h1M103.8 318.3h1M101.4 318.3h1M99.9 303.2h1M107.8 296.5h1M121.3 275.0h1M101.5 302.0h1M121.9 291.5h1M114.7 279.0h1M122.7 307.5h1M105.6 313.4h1M105.9 314.1h1M122.4 318.3h1M124.8 287.6h1M123.5 280.6h1M115.3 277.6h1M101.7 273.3h1M108.6 314.0h1M96.0 284.4h1M114.1 312.1h1M105.4 276.3h1M109.3 318.3h1M106.4 308.1h1M123.0 285.9h1M96.0 315.7h1M105.1 303.5h1M114.9 309.9h1M115.0 317.0h1M111.3 313.1h1M122.4 284.6h1M126.6 281.5h1M123.5 314.8h1M103.6 285.8h1M119.5 293.0h1M105.7 303.4h1M113.0 298.7h1M109.2 305.5h1M109.9 311.4h1M129.2 318.3h1M126.3 306.4h1M109.8 298.5h1M109.2 297.0h1M105.7 304.5h1M110.0 318.3h1M118.6 293.5h1M101.1 277.3h1M133.7 304.6h1M99.8 302.0h1M128.9 280.8h1M119.0 318.3h1M104.4 304.6h1M103.8 298.9h1M115.9 306.8h1M98.2 303.5h1M103.1 301.2h1M108.1 279.9h1M96.0 294.4h1M126.4 316.0h1M104.3 270.7h1M122.5 295.0h1M110.7 306.5h1M124.0 278.5h1M124.9 318.3h1M122.2 306.5h1M107.3 291.2h1M96.0 305.9h1M129.5 305.8h1M133.9 299.6h1M121.9 300.1h1M125.5 289.4h1M120.7 286.5h1M105.8 308.1h1M110.7 318.3h1M119.7 317.3h1M126.2 312.8h1M122.6 277.4h1M96.0 295.8h1M96.0 295.1h1M118.3 270.9h1M107.5 270.3h1M115.0 289.1h1M104.6 312.9h1M123.7 284.0h1M114.6 276.8h1M108.6 311.7h1M123.4 318.3h1M129.5 306.3h1M96.0 290.3h1M113.0 303.7h1M126.3 299.1h1M97.3 287.3h1M116.6 276.4h1M116.2 286.5h1M102.7 292.9h1M126.7 296.4h1M132.2 309.4h1M122.6 295.1h1M122.0 283.3h1M124.1 293.2h1M106.3 285.7h1M130.5 284.7h1M119.6 273.5h1M100.2 311.0h1M119.1 303.7h1M116.9 302.9h1M108.8 306.6h1M109.3 310.9h1M109.9 284.5h1M124.8 289.0h1M127.7 318.3h1M107.2 303.4h1M106.0 307.1h1M101.4 313.7h1M123.1 298.3h1M108.5 311.4h1M118.0 277.9h1M109.1 291.2h1M116.0 302.1h1M116.9 298.3h1M116.9 289.4h1M117.7 281.8h1M104.5 283.4h1M133.3 272.3h1M130.9 301.8h1M110.3 317.0h1M124.6 300.2h1M111.5 288.3h1M121.6 285.7h1M115.5 302.0h1M126.7 296.1h1M100.1 291.5h1M122.9 318.3h1M124.0 304.5h1M123.7 296.0h1M103.8 272.0h1M131.9 295.5h1M96.2 278.7h1M128.4 306.2h1M118.3 288.0h1M114.1 279.1h1M115.7 284.7h1M97.0 275.6h1M108.9 289.2h1M102.1 308.9h1M114.3 298.1h1M108.1 300.7h1M110.2 271.4h1M114.0 298.8h1M96.0 314.4h1M121.3 270.8h1M126.1 304.4h1M110.9 300.6h1M99.4 283.1h1M115.5 298.2h1M106.1 284.0h1M111.7 296.2h1M117.3 310.9h1M130.1 313.4h1M116.6 299.4h1M99.8 280.5h1M109.3 288.0h1M96.0 298.0h1M116.7 294.4h1M117.6 283.7h1M125.0 306.4h1M105.9 295.1h1M108.1 286.0h1M109.1 297.4h1M107.2 298.6h1M109.7 292.6h1M103.7 295.9h1M117.5 318.3h1M117.3 300.5h1M114.1 300.3h1M107.7 318.3h1M106.5 318.3h1M96.0 306.2h1M113.1 291.7h1M136.4 270.9h1M96.0 297.3h1M111.7 279.2h1M128.0 309.7h1M103.1 303.1h1M120.6 318.3h1M102.9 298.9h1M112.4 301.3h1M114.5 308.0h1M97.7 315.0h1M102.9 316.5h1M104.5 283.5h1M96.0 272.1h1M129.6 311.5h1M107.5 299.4h1M96.0 315.4h1M96.0 302.0h1M105.2 286.1h1M115.2 274.4h1M120.1 316.1h1M112.9 279.4h1M96.0 290.1h1M113.9 279.1h1M96.0 292.7h1M116.2 318.3h1M96.0 290.5h1M96.0 306.3h1M101.5 318.3h1M106.2 297.5h1M110.6 318.3h1M108.2 293.5h1M132.0 286.3h1M116.9 277.0h1M116.6 318.3h1M115.8 296.9h1M119.6 275.7h1M98.1 301.7h1M112.0 305.8h1M120.9 309.1h1M103.0 280.4h1M96.1 287.9h1M96.0 284.1h1M117.6 301.3h1M115.9 302.1h1M115.2 312.4h1M132.6 273.2h1M96.0 288.6h1M118.5 317.2h1M119.2 287.2h1M119.4 307.5h1M105.1 281.9h1M101.6 305.6h1M104.7 309.4h1M100.2 295.2h1M121.3 306.2h1M115.1 275.5h1M118.8 299.2h1M117.2 305.7h1M117.4 271.6h1M110.6 275.6h1M120.9 300.6h1M109.4 316.5h1M111.3 308.4h1M123.6 284.9h1M115.0 284.0h1M114.4 315.4h1M102.2 306.6h1M105.6 301.0h1M118.5 271.0h1M115.0 291.8h1M131.6 317.4h1M102.4 282.4h1M122.9 310.3h1M116.4 278.7h1M134.5 307.3h1M122.4 310.5h1M122.9 307.6h1M109.9 311.1h1M120.1 309.3h1M124.5 290.4h1M119.7 280.9h1M134.2 296.8h1M101.1 274.7h1M102.4 307.4h1M123.7 318.3h1M105.5 303.3h1M96.9 287.0h1M108.6 290.9h1M117.4 301.4h1M110.8 310.6h1M119.3 275.1h1M101.2 273.9h1M115.7 290.1h1M100.9 283.9h1M124.1 289.8h1M110.6 284.0h1M130.1 274.9h1M109.7 295.2h1M100.2 303.5h1M113.7 287.4h1M123.7 283.0h1M116.4 318.3h1M129.9 318.3h1M115.0 310.3h1M117.8 277.6h1M106.5 275.1h1M120.9 273.3h1M120.0 312.2h1M116.7 277.3h1M116.3 305.7h1M121.0 271.8h1M127.4 314.4h1M133.1 311.7h1M108.6 279.0h1M104.7 291.2h1M105.1 275.9h1M109.3 305.6h1M134.9 295.8h1M118.8 309.3h1M133.3 306.9h1M100.5 295.1h1M119.3 295.5h1M96.0 317.0h1M118.6 303.6h1M119.0 276.7h1M128.1 318.3h1M124.3 286.1h1M102.7 273.0h1M102.4 288.6h1M102.7 309.7h1M119.9 313.5h1M102.3 318.3h1M119.7 300.4h1M134.1 307.5h1M102.7 294.4h1M113.2 318.3h1M112.0 299.0h1M115.6 317.8h1M110.5 300.0h1M96.4 297.4h1M96.0 304.3h1M97.0 269.6h1M107.3 270.5h1M123.1 309.6h1M112.6 315.6h1M105.3 318.3h1M122.1 301.5h1M96.0 275.1h1M118.6 318.3h1M121.7 308.3h1M122.1 289.8h1M125.9 290.6h1M108.2 291.1h1M104.9 276.1h1M104.4 289.2h1M128.2 293.4h1M115.3 315.1h1M131.5 314.4h1M105.5 316.5h1M126.5 318.3h1M128.7 278.8h1M113.8 302.5h1M98.4 291.2h1M101.8 295.8h1M96.9 288.6h1M127.4 273.6h1M121.8 304.8h1M121.2 318.3h1M108.0 306.2h1M107.8 278.8h1M123.0 278.4h1M116.5 313.4h1M119.6 310.1h1M123.2 292.3h1M96.0 318.3h1M130.7 282.8h1M96.0 270.0h1M106.1 300.3h1M112.8 293.8h1M120.2 282.8h1M122.1 314.1h1M104.3 310.5h1M116.5 280.6h1M96.1 318.3h1M106.5 300.7h1M99.4 277.3h1M104.9 311.2h1M99.1 297.0h1M96.0 314.2h1M110.4 290.6h1M96.0 304.6h1M126.6 304.9h1M119.1 286.6h1M112.9 297.1h1M126.3 295.4h1M99.7 288.0h1M128.3 296.8h1M101.3 293.2h1M106.1 310.9h1M123.9 277.2h1M137.8 317.8h1M96.0 293.6h1M113.4 316.0h1M136.8 292.0h1M102.7 291.1h1M105.3 308.4h1M101.3 288.2h1M129.7 293.4h1M121.9 303.4h1M120.5 318.3h1M131.5 292.2h1M100.4 298.1h1M108.9 271.7h1M112.6 286.0h1M120.9 279.5h1M115.3 302.3h1M121.9 301.0h1M119.1 318.3h1M102.9 290.3h1M100.8 303.5h1M115.9 309.2h1M107.6 294.1h1M118.6 306.0h1M114.2 283.3h1M102.6 283.2h1M107.2 297.1h1M129.4 288.0h1M101.1 293.7h1M104.5 301.7h1M108.6 314.2h1M121.2 295.9h1M111.6 310.1h1M110.8 277.7h1M131.2 311.5h1M109.8 294.1h1M113.7 279.9h1M106.1 290.9h1M101.1 294.5h1M126.3 295.5h1M104.7 313.6h1M110.9 301.0h1M129.2 294.6h1M96.0 271.6h1M99.3 270.8h1M124.5 272.4h1M120.3 272.5h1M123.6 270.8h1M129.4 270.1h1M127.0 276.0h1M102.1 269.8h1M115.6 280.5h1M115.5 272.2h1M126.9 276.1h1M120.1 282.9h1M96.0 293.9h1M135.8 272.3h1M124.4 287.0h1M124.5 272.1h1M109.1 274.8h1M131.0 279.6h1M136.5 269.7h1M108.3 278.1h1M137.3 278.8h1M105.2 273.2h1M119.9 277.8h1M110.4 275.5h1M133.1 284.6h1M98.1 290.6h1M116.9 275.0h1M120.6 289.0h1M134.4 282.4h1M96.0 269.6h1M105.6 275.0h1M124.0 287.0h1M105.9 274.6h1M125.4 274.9h1M101.2 278.5h1M96.0 278.5h1M103.1 292.9h1M125.5 270.6h1M132.8 270.7h1M120.1 282.6h1M118.7 278.7h1M129.1 284.8h1M116.6 281.5h1M110.4 276.6h1M109.0 272.5h1M96.0 280.8h1M115.5 275.6h1M111.0 291.3h1M124.4 272.2h1M124.1 271.6h1M96.0 279.6h1M121.0 281.0h1M96.0 271.4h1M96.0 285.5h1M105.5 276.7h1M124.1 285.9h1M120.7 270.3h1M131.2 275.4h1M112.4 279.2h1M111.1 286.7h1M101.4 271.5h1M103.8 273.7h1M96.0 277.4h1M96.0 275.6h1M116.7 280.2h1M101.1 276.1h1M125.7 293.0h1M103.6 278.7h1M129.5 271.7h1M110.3 271.4h1M133.9 281.0h1M121.4 286.0h1M114.0 270.0h1M112.6 294.1h1M103.3 271.8h1M106.6 271.2h1M130.1 272.2h1M105.4 272.3h1M118.1 274.2h1M117.5 271.5h1M100.0 304.5h1M127.8 278.7h1M96.0 287.0h1M103.8 281.0h1M111.3 270.7h1M124.8 284.6h1M134.8 275.2h1M106.2 278.3h1M103.9 280.0h1M128.3 270.3h1M96.0 286.7h1M100.8 274.6h1M126.2 271.4h1M134.3 270.8h1M125.6 271.8h1M122.6 271.0h1M96.0 278.2h1M128.4 269.9h1M130.4 270.2h1M129.0 283.6h1M96.0 273.8h1M106.2 271.6h1M135.0 288.7h1M114.3 288.7h1M132.9 278.0h1M128.0 277.3h1M124.9 272.3h1M124.6 270.9h1M137.0 273.8h1" stroke="#000" stroke-width="1" fill="none"/>
<path d="M135.2 263.7h.9M105.6 269.4h.9M96.0 263.5h.9M123.8 267.3h.9M118.0 266.4h.9M140.0 316.5h.9M106.9 263.5h.9M141.3 288.2h.9M96.0 266.5h.9M139.3 294.1h.9M144.7 276.9h.9M114.8 262.9h.9M96.0 261.2h.9M109.7 264.9h.9M116.0 265.1h.9M115.4 268.9h.9M102.9 269.4h.9M97.4 260.8h.9M135.0 264.5h.9M109.9 269.1h.9M128.5 262.0h.9M110.0 255.6h.9M118.6 264.9h.9M123.7 264.4h.9M103.9 268.2h.9M115.6 267.5h.9M112.3 262.5h.9M104.6 265.2h.9M106.0 266.1h.9M109.9 267.4h.9M103.6 265.9h.9M140.8 318.3h.9M142.2 294.5h.9M143.4 298.5h.9M116.6 269.4h.9M138.9 301.3h.9M141.1 288.3h.9M136.2 266.5h.9M96.2 268.4h.9M141.6 286.5h.9M142.0 303.6h.9M109.4 263.4h.9M139.3 292.9h.9M116.9 263.8h.9M117.7 266.2h.9M140.1 311.2h.9M138.3 280.0h.9M143.0 296.8h.9M145.7 284.4h.9M144.6 307.2h.9M145.7 298.5h.9M115.7 266.4h.9M143.9 318.3h.9M124.0 265.7h.9M128.6 266.6h.9M111.7 257.7h.9M145.4 316.5h.9M112.6 269.4h.9M125.6 260.3h.9M113.1 263.5h.9M142.1 277.9h.9M96.0 268.5h.9M149.3 277.7h.9M129.3 266.5h.9M111.0 265.6h.9M139.0 307.4h.9M138.2 276.7h.9M147.7 272.0h.9M140.8 318.3h.9M145.0 311.0h.9M98.9 266.3h.9M119.4 265.1h.9M122.9 268.2h.9M143.6 286.7h.9M114.1 266.3h.9M107.4 264.2h.9M138.7 318.3h.9M138.0 318.3h.9M108.6 267.8h.9M138.0 301.5h.9M130.7 268.3h.9M123.8 268.9h.9M102.1 267.5h.9M142.5 282.3h.9M125.2 267.9h.9M144.1 282.0h.9M107.6 268.5h.9M130.3 264.1h.9M126.1 261.9h.9M99.7 267.4h.9M121.5 263.0h.9M97.4 266.2h.9M105.6 265.3h.9M140.4 295.5h.9M110.5 266.4h.9M102.9 267.7h.9M142.7 314.7h.9M153.3 306.6h.9M132.5 266.0h.9M148.6 318.2h.9M138.5 287.2h.9M140.8 289.4h.9M117.4 264.2h.9M113.7 269.1h.9M138.5 286.7h.9M146.5 278.6h.9M140.5 305.8h.9M109.2 268.1h.9M144.0 304.5h.9M138.6 279.2h.9M107.4 269.3h.9M118.3 262.7h.9M108.4 269.4h.9M117.3 264.5h.9M100.5 267.4h.9M116.1 260.2h.9M130.3 268.5h.9M145.2 318.3h.9M139.6 287.1h.9M139.5 318.3h.9M101.3 267.9h.9M107.1 261.9h.9M138.1 270.8h.9M138.5 277.3h.9M112.1 266.4h.9M140.8 285.9h.9M96.0 257.4h.9M113.4 269.4h.9M96.0 265.1h.9M100.8 249.6h.9M111.5 267.9h.9M108.4 266.1h.9M144.1 306.3h.9M102.0 268.3h.9M122.2 268.7h.9M140.6 260.9h.9M137.3 268.2h.9M141.6 296.8h.9M124.2 266.2h.9M123.0 268.0h.9M138.5 308.8h.9M128.7 268.7h.9M144.8 305.0h.9M96.0 257.4h.9M96.0 235.3h.9M106.5 250.1h.9M120.5 265.3h.9M134.0 269.4h.9M134.2 244.1h.9M164.1 260.9h.9M142.0 290.1h.9M155.9 275.0h.9M100.7 234.7h.9M96.0 259.7h.9M96.0 263.8h.9M130.0 220.8h.9M130.2 263.4h.9M101.3 243.9h.9M138.8 274.9h.9M119.6 266.2h.9M101.7 232.1h.9M116.2 269.1h.9M97.9 250.2h.9M142.4 265.5h.9M137.0 252.2h.9M104.7 261.6h.9M143.2 260.0h.9M122.0 248.9h.9M160.5 281.1h.9M122.0 256.6h.9M117.6 231.2h.9M125.5 227.3h.9M96.7 238.5h.9M144.8 271.4h.9M98.6 250.6h.9M141.5 220.0h.9M119.4 249.3h.9M104.3 256.3h.9M96.0 260.1h.9M133.7 254.6h.9M100.3 258.2h.9M107.6 222.5h.9M134.1 259.8h.9M104.5 265.7h.9M111.8 259.7h.9M100.4 254.9h.9M140.1 280.0h.9M96.0 261.8h.9M98.6 229.4h.9M109.7 240.2h.9M96.0 258.9h.9M136.3 255.4h.9M133.7 238.7h.9M133.4 252.9h.9M110.7 268.6h.9M123.7 263.4h.9M171.6 241.9h.9M135.7 259.1h.9M114.6 261.3h.9M96.0 255.8h.9M97.1 244.7h.9M127.0 256.8h.9M96.0 238.9h.9M158.6 247.6h.9M96.0 255.0h.9M114.4 265.3h.9M149.4 224.9h.9M126.2 251.6h.9M134.8 260.4h.9M96.0 256.9h.9M109.5 252.8h.9M96.0 248.1h.9M103.8 257.5h.9M99.7 253.2h.9M97.5 249.8h.9M118.9 244.7h.9M107.5 254.4h.9M97.8 258.4h.9M143.0 287.4h.9M96.0 250.6h.9M124.7 246.0h.9M96.0 269.4h.9M128.7 248.8h.9M101.0 251.0h.9M108.7 260.0h.9M114.8 252.6h.9M123.9 261.3h.9M113.6 230.4h.9M120.0 255.2h.9M96.0 269.0h.9M107.7 234.6h.9M109.4 260.1h.9M96.0 266.7h.9M122.8 267.1h.9M120.7 261.1h.9M96.0 255.0h.9M113.8 267.6h.9M123.3 264.0h.9M127.8 259.8h.9M96.0 267.8h.9M131.7 256.3h.9M142.4 266.4h.9M127.9 268.9h.9M96.0 258.6h.9M96.0 239.3h.9M115.1 259.8h.9M131.4 259.7h.9M148.6 289.5h.9M109.6 252.9h.9M127.0 236.9h.9M128.0 253.2h.9M126.7 251.6h.9M98.2 252.3h.9M118.5 253.8h.9M96.0 242.6h.9M105.1 255.8h.9M104.8 241.4h.9M96.0 246.2h.9M126.6 264.9h.9M130.7 235.7h.9M105.3 244.7h.9M112.0 257.4h.9M96.2 244.0h.9M140.5 256.9h.9M106.7 254.3h.9M158.1 301.1h.9M96.0 251.2h.9M112.2 229.3h.9M100.9 254.1h.9M97.5 266.1h.9M141.7 245.5h.9M146.1 258.0h.9M138.2 264.0h.9M126.5 239.1h.9M106.7 261.0h.9M105.5 265.8h.9M145.5 280.7h.9M126.4 247.4h.9M105.4 258.8h.9M96.0 264.0h.9M117.3 244.9h.9M134.0 235.6h.9M139.9 231.7h.9M113.3 260.5h.9M96.0 226.0h.9M104.7 246.8h.9M111.9 264.9h.9M120.3 242.4h.9M112.2 250.1h.9M117.4 264.3h.9M113.6 261.0h.9M149.5 243.7h.9M103.2 264.7h.9M137.2 230.8h.9M112.6 260.1h.9M118.1 260.5h.9M131.5 260.2h.9M96.0 246.6h.9M139.1 265.0h.9M130.4 266.5h.9M138.3 246.8h.9M109.0 234.5h.9M140.4 269.2h.9M96.0 255.3h.9M96.0 257.4h.9M137.5 246.0h.9M118.2 265.8h.9M124.5 256.6h.9M96.4 249.2h.9M96.0 245.7h.9M111.2 237.5h.9M114.7 261.4h.9M145.6 279.6h.9M136.3 238.9h.9M121.6 266.4h.9M96.0 224.4h.9M123.5 269.0h.9M126.5 262.6h.9M112.4 259.8h.9M128.8 230.9h.9M117.5 257.3h.9M115.8 256.4h.9M136.2 264.5h.9M141.3 258.8h.9M114.9 268.3h.9M110.4 244.2h.9M108.9 256.1h.9M99.1 243.1h.9M109.7 242.2h.9M102.1 247.8h.9M129.5 260.9h.9M96.0 260.8h.9M102.6 226.3h.9M147.7 233.2h.9M121.1 237.5h.9M139.7 273.7h.9M97.0 266.8h.9M158.0 228.8h.9M121.2 248.9h.9M135.2 235.8h.9M114.2 258.2h.9M112.5 267.2h.9M121.4 258.5h.9M146.5 309.3h.9M143.7 288.9h.9M104.6 228.6h.9M106.6 254.9h.9M122.7 248.1h.9M111.9 243.9h.9M102.7 259.3h.9M120.8 266.8h.9M138.1 270.9h.9M145.9 266.3h.9M135.7 250.2h.9M139.2 273.8h.9M131.2 249.8h.9M149.0 253.7h.9M120.9 248.9h.9M96.0 224.8h.9M134.9 259.0h.9M136.2 267.3h.9M125.5 234.3h.9M116.0 239.7h.9M129.3 251.9h.9M124.7 259.6h.9M98.9 263.7h.9M142.6 258.5h.9M116.2 246.2h.9M113.8 267.0h.9M124.7 240.7h.9M149.8 268.7h.9M107.1 252.2h.9M114.5 248.1h.9M109.1 263.0h.9M99.9 248.7h.9M96.0 251.7h.9M125.4 259.1h.9M148.6 237.0h.9M120.5 231.1h.9M104.0 256.3h.9M119.5 240.5h.9M96.0 257.6h.9M96.0 239.2h.9M100.9 265.9h.9M109.0 266.1h.9M112.7 264.7h.9M102.8 258.8h.9M133.7 262.6h.9M136.7 267.5h.9M131.2 233.4h.9M115.3 260.2h.9M96.0 267.7h.9M113.4 252.5h.9M134.0 233.7h.9M96.0 265.1h.9M118.8 266.1h.9M105.6 261.9h.9M104.7 242.9h.9M134.6 255.6h.9M119.5 250.1h.9M108.5 246.7h.9M103.7 268.6h.9M132.0 264.6h.9M116.4 262.8h.9M139.1 268.4h.9M96.0 268.1h.9M128.9 264.5h.9M116.3 257.8h.9M116.3 254.2h.9M130.4 243.8h.9M96.8 256.7h.9M112.3 265.0h.9M114.8 263.5h.9M128.3 260.7h.9M117.7 260.8h.9M116.4 255.7h.9M96.0 245.4h.9M114.0 248.3h.9M96.0 251.4h.9M124.6 244.9h.9M127.7 244.4h.9M122.5 257.2h.9M121.6 258.5h.9M111.1 258.4h.9M96.0 251.8h.9M119.0 258.8h.9M128.3 252.9h.9M126.9 248.5h.9M149.3 251.9h.9M96.0 262.8h.9M122.4 238.6h.9M133.1 229.9h.9M106.1 266.2h.9M133.6 260.1h.9M101.3 262.2h.9M127.5 251.5h.9M152.1 233.8h.9M129.2 258.3h.9M151.7 296.2h.9M103.1 248.1h.9M99.7 260.8h.9M116.3 261.1h.9M124.6 254.3h.9M137.8 239.5h.9M107.8 262.6h.9M112.8 269.5h.9M96.0 237.6h.9M119.4 256.7h.9M156.6 290.3h.9M106.2 254.6h.9M142.4 254.2h.9M133.1 261.8h.9M135.7 258.4h.9M119.4 256.6h.9M136.7 264.2h.9M96.0 263.5h.9M120.5 258.4h.9M125.3 247.3h.9M135.1 215.6h.9M121.1 256.6h.9M102.2 265.4h.9M98.2 231.6h.9M170.9 255.3h.9M115.5 200.9h.9M127.2 256.5h.9M122.2 225.2h.9M149.6 199.2h.9M115.5 255.3h.9M151.2 217.0h.9M173.2 241.1h.9M154.8 218.6h.9M158.5 256.5h.9M173.9 214.2h.9M146.6 249.5h.9M146.4 230.7h.9M136.1 257.3h.9M104.7 212.7h.9M171.6 220.7h.9M99.7 258.7h.9M165.5 187.0h.9M140.1 237.5h.9M121.0 251.2h.9M98.8 204.3h.9M158.8 234.5h.9M96.9 243.1h.9M129.5 201.6h.9M167.0 247.2h.9M172.5 221.8h.9M123.8 193.1h.9M100.5 254.3h.9M103.6 250.6h.9M169.0 226.9h.9M100.9 187.2h.9M168.0 265.2h.9M170.1 263.3h.9M113.1 186.7h.9M158.9 220.2h.9M131.7 264.8h.9M148.0 189.5h.9M111.1 204.5h.9M159.1 198.5h.9M151.3 199.4h.9M173.9 258.8h.9M118.3 233.8h.9M133.8 249.7h.9M102.8 181.2h.9M151.4 259.5h.9M163.5 182.2h.9M123.5 194.1h.9M148.9 264.5h.9M118.0 254.6h.9M105.4 232.0h.9M112.5 214.7h.9M122.2 186.1h.9M157.1 198.7h.9M128.9 249.8h.9M128.0 184.4h.9M168.8 235.2h.9M101.6 186.0h.9M157.6 252.8h.9M96.5 185.1h.9M158.5 186.0h.9M158.3 258.5h.9M99.3 197.8h.9M131.5 263.8h.9M105.6 260.2h.9M144.4 225.8h.9M133.6 213.1h.9M110.7 263.0h.9M167.0 254.4h.9M122.7 226.2h.9M116.5 260.8h.9M169.4 188.7h.9M176.2 242.5h.9M120.0 222.7h.9M113.9 215.0h.9M113.5 228.9h.9M118.2 263.1h.9M164.7 226.2h.9M140.9 246.3h.9M150.9 268.8h.9M147.4 266.5h.9M169.5 249.4h.9M156.4 256.0h.9M188.0 272.0h.9M160.6 247.7h.9M156.6 245.4h.9M138.1 315.1h.9M182.3 310.0h.9M138.1 261.8h.9M156.3 302.2h.9M168.3 238.5h.9M138.1 287.8h.9M152.4 267.3h.9M178.9 300.6h.9M183.4 301.4h.9M150.4 299.6h.9M143.6 288.6h.9M145.5 284.3h.9M184.9 290.9h.9M154.5 259.1h.9M164.9 260.3h.9M189.5 293.0h.9M156.2 316.0h.9M168.2 298.1h.9M155.0 233.2h.9M156.5 296.7h.9M185.8 233.7h.9M161.5 253.4h.9M154.5 316.0h.9M166.9 310.6h.9M179.6 261.1h.9M160.6 298.6h.9M158.6 278.5h.9M185.7 316.5h.9M183.0 307.8h.9M140.4 262.6h.9M145.0 270.6h.9M141.7 305.3h.9M157.2 257.4h.9M185.1 266.4h.9M150.5 231.6h.9M152.4 287.0h.9M146.6 231.9h.9M140.5 313.8h.9M136.6 242.4h.9M164.3 314.4h.9M160.1 242.5h.9M145.5 238.9h.9M175.6 299.2h.9M170.5 286.2h.9M147.3 299.7h.9M166.0 239.3h.9M169.2 301.1h.9M154.8 235.7h.9M185.7 287.6h.9M173.6 277.1h.9M151.9 241.2h.9M186.0 281.8h.9M151.8 278.1h.9M174.6 262.4h.9M186.1 298.0h.9M168.6 233.9h.9M155.4 314.4h.9M168.1 265.6h.9M163.6 310.8h.9M141.0 292.7h.9M176.0 299.2h.9M189.7 258.1h.9M174.9 276.0h.9M170.4 236.0h.9M158.1 274.2h.9M140.2 303.8h.9M187.6 246.2h.9M180.8 314.7h.9M145.5 301.2h.9M154.6 269.6h.9M173.9 256.8h.9M162.7 311.0h.9M186.4 241.4h.9M188.0 294.3h.9M167.0 287.5h.9M158.7 285.1h.9M186.8 272.0h.9M147.8 244.3h.9M151.2 308.9h.9M149.4 237.5h.9M156.5 235.3h.9M138.3 232.2h.9M140.5 242.0h.9M168.9 243.0h.9M176.6 249.9h.9M144.1 271.4h.9M160.5 317.0h.9M175.6 312.7h.9M157.6 284.1h.9M166.5 309.2h.9M178.1 242.3h.9M164.9 255.6h.9M156.0 289.3h.9M150.0 296.4h.9M154.5 247.9h.9M179.0 238.0h.9M153.6 296.5h.9M138.3 300.9h.9M187.6 294.4h.9M173.5 307.1h.9M183.7 317.1h.9M148.3 275.4h.9M200.6 260.1h.9M200.0 318.3h.9M202.5 284.0h.9M206.1 285.0h.9M199.8 295.3h.9M203.0 286.5h.9M202.7 283.5h.9M204.6 260.6h.9M207.5 264.5h.9M206.6 281.1h.9M202.3 261.5h.9M196.5 302.8h.9M208.8 249.4h.9M204.8 268.4h.9M208.0 292.2h.9M195.5 309.9h.9M195.4 263.1h.9M192.8 286.3h.9M202.7 232.4h.9M198.4 254.8h.9M208.6 301.8h.9M197.3 277.6h.9M203.0 289.0h.9M204.6 267.4h.9M200.3 282.3h.9M203.4 281.7h.9M202.0 274.4h.9M200.1 241.6h.9M203.3 274.1h.9M195.7 251.0h.9M205.9 284.0h.9M203.0 272.5h.9M206.6 289.0h.9M191.8 278.3h.9M201.2 286.3h.9M198.6 274.5h.9M199.7 311.9h.9M192.4 273.9h.9M196.5 256.4h.9M199.1 298.0h.9M202.9 282.2h.9M197.5 267.7h.9M193.5 277.3h.9M199.3 263.5h.9M197.4 270.9h.9M198.0 281.8h.9M200.9 268.4h.9M203.4 234.7h.9M195.8 271.8h.9M202.9 261.8h.9M205.9 268.3h.9M199.5 278.3h.9M204.0 282.7h.9M197.4 317.7h.9M197.6 251.5h.9M199.4 285.5h.9M194.5 265.3h.9M197.1 297.3h.9M195.3 286.0h.9M198.8 271.4h.9M200.3 271.1h.9M205.3 253.9h.9M198.7 303.7h.9M198.4 292.2h.9M204.7 261.6h.9M204.1 310.6h.9M196.6 258.4h.9M196.1 266.9h.9M197.6 286.7h.9M201.0 290.8h.9M201.4 275.0h.9M190.9 291.0h.9M200.0 267.1h.9M198.2 293.2h.9M204.6 277.8h.9M197.3 268.8h.9M192.7 274.0h.9M203.8 262.0h.9M207.2 278.5h.9M209.2 254.3h.9M198.3 292.2h.9M200.7 262.3h.9M198.8 279.1h.9M193.7 318.3h.9M204.7 236.3h.9M212.6 298.5h.9M204.6 273.3h.9M196.3 287.4h.9M203.7 286.8h.9M200.9 293.9h.9M204.9 261.4h.9M196.4 309.0h.9M194.7 296.3h.9M195.5 281.1h.9M202.5 285.0h.9M189.8 318.3h.9M189.1 285.4h.9M197.1 281.3h.9M201.1 275.9h.9M202.5 307.8h.9M198.1 273.0h.9M195.5 301.0h.9M203.9 277.3h.9M200.0 277.2h.9M191.8 316.6h.9M200.1 299.4h.9M195.8 297.0h.9M193.4 317.3h.9M200.3 257.2h.9M204.0 297.0h.9M191.2 274.7h.9M198.2 290.1h.9M201.3 304.9h.9M208.3 265.1h.9M195.0 275.9h.9M201.3 302.8h.9M198.5 286.0h.9M208.2 268.2h.9M205.4 301.1h.9M204.6 266.5h.9M197.5 281.4h.9M209.0 256.9h.9M201.4 248.3h.9M195.5 300.6h.9M191.9 263.0h.9M200.6 272.9h.9M197.4 298.1h.9M203.6 257.4h.9M203.6 299.4h.9M204.4 275.1h.9M208.4 282.1h.9M196.3 318.3h.9M197.5 278.6h.9M193.1 275.1h.9M194.8 271.3h.9M196.6 297.1h.9M192.1 286.7h.9M208.3 265.7h.9M195.2 265.3h.9M202.0 267.2h.9M197.6 257.0h.9M194.8 295.5h.9M206.1 286.3h.9M198.6 281.7h.9M201.6 270.4h.9M203.0 267.8h.9M198.0 259.7h.9M204.8 272.3h.9M196.3 276.0h.9M202.0 297.1h.9M197.4 276.7h.9M202.9 297.7h.9M197.7 296.9h.9M201.0 288.2h.9M199.0 270.6h.9M204.7 251.3h.9M196.1 297.5h.9M202.7 297.0h.9M196.5 245.4h.9M198.7 228.8h.9M200.0 276.8h.9M195.6 260.1h.9M203.1 258.7h.9M191.6 263.8h.9M203.4 288.1h.9M203.4 266.8h.9M213.7 282.1h.9M197.3 287.3h.9M195.9 252.5h.9M202.0 282.0h.9M200.4 280.8h.9M201.0 286.6h.9M196.7 264.3h.9M203.5 285.2h.9M205.7 279.4h.9M203.8 276.5h.9M200.4 275.4h.9M200.2 276.3h.9M206.5 274.0h.9M211.1 276.8h.9M206.7 298.4h.9M200.8 259.1h.9M204.3 285.3h.9M199.3 281.4h.9M207.9 297.4h.9M195.6 287.7h.9M193.1 288.8h.9M209.2 277.8h.9M199.7 291.8h.9M210.1 279.9h.9M200.9 316.5h.9M193.3 259.6h.9M202.9 252.6h.9M199.8 295.4h.9M203.8 302.3h.9M198.4 257.5h.9M200.1 281.6h.9M199.2 318.3h.9M194.5 254.0h.9M205.3 305.8h.9M201.2 262.3h.9M206.6 240.9h.9M199.4 272.8h.9M205.0 284.4h.9M205.4 292.3h.9M197.1 306.6h.9M199.2 274.6h.9M207.2 286.7h.9M190.5 299.3h.9M201.7 268.5h.9M197.7 278.9h.9M197.3 290.3h.9M205.0 267.2h.9M205.5 308.2h.9M204.3 276.0h.9M205.0 291.4h.9M193.1 285.9h.9M202.0 291.5h.9M193.8 262.3h.9M204.6 253.6h.9M203.9 301.9h.9M201.8 266.6h.9M204.5 270.1h.9M189.9 278.9h.9M203.3 256.4h.9M206.0 244.2h.9M181.0 311.8h.9M201.7 275.8h.9M204.1 267.5h.9M203.6 281.8h.9M197.1 302.4h.9M196.7 282.3h.9M201.8 306.7h.9M198.4 277.8h.9M190.2 264.2h.9M199.5 246.2h.9M203.4 289.2h.9M204.5 270.9h.9M200.1 274.5h.9M201.1 280.7h.9M196.2 255.3h.9M203.3 290.8h.9M204.1 269.6h.9M199.1 250.9h.9M203.2 266.8h.9M199.0 305.7h.9M194.9 282.2h.9M204.5 264.6h.9M203.7 277.8h.9M194.9 288.3h.9M201.3 287.2h.9M195.8 293.1h.9M202.4 259.5h.9M200.2 288.6h.9M189.7 265.5h.9M199.8 267.0h.9M190.7 255.0h.9M195.6 242.2h.9M199.2 285.6h.9M196.1 300.5h.9M191.4 277.4h.9M194.7 247.0h.9M201.2 266.2h.9M204.2 280.4h.9M194.1 244.2h.9M201.3 274.1h.9M199.9 277.6h.9M193.9 235.9h.9M195.1 290.6h.9M193.2 279.0h.9M193.6 293.2h.9M202.4 223.2h.9M195.5 234.2h.9M189.7 296.2h.9M216.8 286.2h.9M198.4 239.4h.9M211.6 237.5h.9M209.1 291.3h.9M194.4 276.3h.9M215.2 244.1h.9M197.8 246.1h.9M207.0 258.0h.9M226.2 232.2h.9M211.7 257.9h.9M225.2 206.8h.9M195.6 252.9h.9M210.8 214.2h.9M210.9 278.2h.9M177.9 216.0h.9M212.9 207.7h.9M195.2 211.0h.9M185.0 217.4h.9M216.5 284.9h.9M190.9 285.8h.9M179.8 267.2h.9M196.0 272.5h.9M195.1 302.8h.9M188.1 240.7h.9M196.6 280.1h.9M210.8 234.8h.9M182.8 290.4h.9M209.3 216.5h.9M219.2 231.0h.9M186.6 248.1h.9M209.4 296.6h.9M210.1 241.7h.9M223.4 261.0h.9M199.1 235.6h.9M179.3 299.5h.9M177.1 242.0h.9" stroke="#000" stroke-opacity=".7" stroke-width=".95" fill="none"/>
<path d="M96 178.8H242V318.3" fill="none" stroke="#666" stroke-width="1"/>
<line x1="96" y1="178.8" x2="96" y2="318.3" stroke="#000" stroke-width="1.2"/>
<line x1="96" y1="318.3" x2="242" y2="318.3" stroke="#000" stroke-width="1.2"/>
<line x1="168.5" y1="178.8" x2="168.5" y2="318.3" stroke="#555" stroke-width="1"/>
<line x1="96" y1="275.3" x2="242" y2="275.3" stroke="#111" stroke-width="1.25"/>
<path d="M96 318.3h-3.2M96.0 318.3v3.2M96 307.8h-1.8M107.0 318.3v1.8M96 301.7h-1.8M113.4 318.3v1.8M96 297.3h-1.8M118.0 318.3v1.8M96 293.9h-1.8M121.5 318.3v1.8M96 291.2h-1.8M124.4 318.3v1.8M96 288.8h-1.8M126.8 318.3v1.8M96 286.8h-1.8M129.0 318.3v1.8M96 285.0h-1.8M130.8 318.3v1.8M96 283.4h-3.2M132.5 318.3v3.2M96 272.9h-1.8M143.5 318.3v1.8M96 266.8h-1.8M149.9 318.3v1.8M96 262.4h-1.8M154.5 318.3v1.8M96 259.0h-1.8M158.0 318.3v1.8M96 256.3h-1.8M160.9 318.3v1.8M96 254.0h-1.8M163.3 318.3v1.8M96 251.9h-1.8M165.5 318.3v1.8M96 250.1h-1.8M167.3 318.3v1.8M96 248.6h-3.2M169.0 318.3v3.2M96 238.1h-1.8M180.0 318.3v1.8M96 231.9h-1.8M186.4 318.3v1.8M96 227.6h-1.8M191.0 318.3v1.8M96 224.2h-1.8M194.5 318.3v1.8M96 221.4h-1.8M197.4 318.3v1.8M96 219.1h-1.8M199.8 318.3v1.8M96 217.1h-1.8M202.0 318.3v1.8M96 215.3h-1.8M203.8 318.3v1.8M96 213.7h-3.2M205.5 318.3v3.2M96 203.2h-1.8M216.5 318.3v1.8M96 197.0h-1.8M222.9 318.3v1.8M96 192.7h-1.8M227.5 318.3v1.8M96 189.3h-1.8M231.0 318.3v1.8M96 186.5h-1.8M233.9 318.3v1.8M96 184.2h-1.8M236.3 318.3v1.8M96 182.2h-1.8M238.5 318.3v1.8M96 180.4h-1.8M240.3 318.3v1.8M96 178.8h-3.2M242 318.3v3.2" stroke="#000" stroke-width="0.8" fill="none"/>
<path d="M262.0 297.4h1M271.1 319.5h1M253.5 275.9h1M295.6 271.2h1M255.4 306.7h1M272.4 279.1h1M281.5 314.2h1M270.1 300.9h1M264.8 306.7h1M253.5 299.1h1M259.0 297.9h1M284.3 290.7h1M284.2 286.6h1M272.9 303.4h1M284.3 287.3h1M262.7 296.6h1M269.9 304.7h1M275.0 297.9h1M268.1 319.5h1M272.1 308.9h1M253.5 282.7h1M253.5 293.3h1M267.5 304.4h1M292.3 296.0h1M256.6 282.4h1M258.9 301.9h1M253.5 295.7h1M285.5 295.9h1M269.0 276.0h1M274.5 280.2h1M274.5 292.5h1M259.2 295.2h1M293.1 319.5h1M282.2 273.2h1M272.3 293.6h1M277.3 287.8h1M269.4 303.2h1M281.7 304.0h1M282.2 286.0h1M282.3 319.5h1M295.2 284.8h1M269.5 292.9h1M263.4 284.6h1M262.6 294.2h1M267.1 290.4h1M283.3 318.2h1M273.4 293.7h1M290.6 302.4h1M283.0 287.6h1M269.0 315.3h1M265.8 308.4h1M269.1 304.1h1M253.5 277.9h1M293.9 296.3h1M269.9 286.8h1M274.6 309.0h1M271.4 307.4h1M255.1 308.0h1M284.8 285.5h1M255.8 295.7h1M278.9 297.0h1M280.9 313.4h1M259.9 289.8h1M272.9 319.2h1M270.0 278.4h1M280.4 319.5h1M279.1 316.0h1M272.4 284.4h1M265.3 315.5h1M259.1 273.5h1M258.6 278.4h1M268.4 288.3h1M253.5 278.5h1M282.1 314.9h1M253.5 302.6h1M259.1 280.2h1M271.9 309.9h1M281.2 315.3h1M280.3 299.6h1M270.5 315.9h1M257.0 276.5h1M270.2 272.8h1M263.9 303.2h1M295.4 309.0h1M265.9 270.2h1M265.9 295.8h1M263.5 270.8h1M263.7 281.3h1M269.7 319.2h1M267.7 287.2h1M271.5 284.5h1M283.2 312.1h1M276.9 296.1h1M265.6 300.5h1M257.7 316.0h1M286.7 312.5h1M283.0 294.3h1M271.5 306.6h1M272.6 308.4h1M266.1 300.9h1M269.3 318.1h1M271.7 274.8h1M267.2 285.0h1M262.3 306.7h1M258.6 315.8h1M272.5 303.0h1M273.4 285.4h1M273.0 317.9h1M274.2 276.6h1M285.7 303.0h1M279.9 306.3h1M265.3 303.8h1M270.5 319.5h1M283.0 318.6h1M283.7 275.5h1M255.9 281.5h1M260.2 289.9h1M285.3 308.3h1M259.1 312.3h1M270.9 299.9h1M278.4 312.4h1M256.0 293.8h1M276.5 276.6h1M277.7 307.9h1M283.0 319.5h1M273.5 297.5h1M254.1 278.6h1M278.4 310.3h1M264.3 301.9h1M275.7 310.3h1M271.1 308.2h1M280.4 310.8h1M280.0 297.5h1M261.3 289.7h1M276.3 295.5h1M269.7 271.9h1M257.2 284.6h1M254.7 308.4h1M290.3 288.2h1M266.2 298.8h1M268.6 319.5h1M264.3 283.1h1M257.8 318.8h1M267.1 290.2h1M291.4 317.5h1M258.6 292.1h1M258.1 310.0h1M281.0 271.4h1M268.3 314.7h1M258.0 300.5h1M257.8 315.9h1M288.1 281.1h1M286.2 288.7h1M273.7 309.8h1M276.7 287.8h1M253.5 298.9h1M292.6 312.7h1M259.4 282.5h1M275.2 308.1h1M283.2 288.7h1M267.4 288.6h1M263.9 313.2h1M290.1 296.0h1M264.6 282.4h1M265.2 282.9h1M270.9 311.2h1M260.5 302.5h1M257.9 304.3h1M253.5 270.6h1M269.0 303.1h1M259.5 281.6h1M271.5 282.5h1M270.1 318.1h1M282.3 312.5h1M265.2 270.5h1M282.2 319.5h1M258.4 319.5h1M256.2 282.1h1M257.8 272.9h1M282.0 291.1h1M294.4 308.3h1M287.3 290.9h1M253.5 271.0h1M278.5 319.5h1M272.3 276.9h1M253.5 287.0h1M267.7 277.1h1M267.3 271.0h1M258.6 319.4h1M280.2 299.2h1M274.9 276.7h1M253.5 319.5h1M286.1 319.5h1M256.8 273.6h1M255.7 282.8h1M287.2 286.9h1M261.0 305.1h1M273.9 319.5h1M265.1 299.5h1M264.1 312.1h1M282.5 293.4h1M279.6 293.4h1M269.1 318.2h1M274.5 303.9h1M261.5 299.4h1M266.8 278.6h1M267.3 290.7h1M269.4 316.1h1M253.5 305.8h1M258.2 281.2h1M282.1 312.8h1M253.5 291.0h1M285.4 299.4h1M278.6 295.8h1M253.5 272.0h1M276.2 272.1h1M280.8 282.8h1M276.8 307.2h1M285.3 273.4h1M255.5 294.5h1M274.3 280.2h1M273.2 300.6h1M258.8 310.2h1M276.5 290.7h1M285.2 292.4h1M264.6 319.5h1M269.5 287.6h1M287.2 286.1h1M259.0 319.5h1M276.5 319.5h1M283.7 283.3h1M268.7 288.2h1M291.8 279.5h1M271.9 306.2h1M282.9 297.5h1M262.6 310.2h1M263.2 310.6h1M273.8 283.9h1M253.5 289.2h1M274.0 283.8h1M267.7 301.9h1M283.3 279.6h1M278.2 277.1h1M269.7 299.3h1M266.2 278.4h1M284.6 282.2h1M286.2 300.7h1M287.6 319.2h1M281.8 284.0h1M269.5 271.4h1M274.7 284.5h1M284.0 287.7h1M279.6 307.2h1M258.8 289.1h1M253.5 292.5h1M286.0 318.4h1M278.5 278.8h1M262.0 312.8h1M273.6 280.2h1M277.3 282.9h1M264.7 316.0h1M268.5 280.7h1M255.6 302.7h1M267.5 290.9h1M283.4 298.4h1M284.9 307.4h1M274.5 297.4h1M267.0 296.7h1M286.5 319.5h1M283.8 319.5h1M253.5 282.1h1M258.8 316.9h1M266.5 277.0h1M269.3 271.0h1M253.5 314.7h1M287.2 289.5h1M266.9 319.5h1M268.3 300.7h1M264.9 289.9h1M255.9 271.2h1M257.6 319.5h1M273.6 275.4h1M267.7 319.5h1M263.5 304.2h1M262.4 298.9h1M275.1 283.3h1M268.8 311.0h1M270.4 305.3h1M272.6 296.5h1M278.6 311.4h1M253.5 291.6h1M264.5 319.5h1M261.9 281.0h1M274.2 274.9h1M280.3 273.7h1M281.8 297.4h1M284.6 319.5h1M253.5 319.5h1M271.2 283.8h1M288.0 281.0h1M261.6 307.3h1M270.5 299.1h1M257.3 307.5h1M288.4 319.5h1M265.6 292.7h1M282.8 273.9h1M260.7 316.4h1M282.2 316.9h1M292.5 283.6h1M291.6 284.6h1M287.4 316.5h1M261.5 277.4h1M259.1 286.3h1M264.2 290.0h1M276.1 319.5h1M266.7 304.5h1M253.5 318.7h1M270.6 304.0h1M279.6 271.1h1M266.1 307.7h1M286.7 317.4h1M276.2 280.8h1M265.7 284.4h1M273.7 281.6h1M276.0 282.3h1M255.1 306.2h1M282.2 273.6h1M283.4 290.8h1M284.0 319.0h1M269.8 319.5h1M283.5 298.1h1M256.5 295.1h1M264.5 292.8h1M259.4 314.3h1M279.0 318.7h1M272.9 297.2h1M292.6 310.6h1M262.4 272.8h1M266.1 270.8h1M261.5 295.1h1M273.7 290.4h1M275.6 313.7h1M287.7 278.8h1M269.5 296.4h1M267.5 307.8h1M257.3 316.5h1M265.1 283.9h1M255.9 285.6h1M284.3 282.5h1M261.5 274.6h1M263.6 311.8h1M253.5 276.3h1M277.7 274.1h1M260.7 299.4h1M284.9 288.4h1M260.9 310.5h1M271.1 274.9h1M279.4 284.0h1M259.9 283.4h1M285.6 278.3h1M280.7 289.4h1M270.1 282.2h1M288.9 313.7h1M268.7 279.3h1M255.7 273.0h1M259.3 319.5h1M274.7 290.9h1M278.4 289.6h1M270.4 313.1h1M270.2 279.0h1M270.9 299.5h1M264.5 277.3h1M265.9 295.4h1M254.2 318.3h1M255.5 298.8h1M293.1 281.1h1M262.4 291.8h1M277.5 310.4h1M277.9 274.3h1M270.0 271.5h1M253.5 309.2h1M278.3 298.8h1M279.7 298.4h1M289.6 305.5h1M253.5 288.6h1M277.5 291.6h1M277.5 292.6h1M253.5 312.4h1M272.0 292.2h1M278.1 296.2h1M271.2 319.5h1M274.8 287.3h1M279.6 279.8h1M276.1 311.9h1M278.1 296.8h1M260.9 301.3h1M253.5 297.3h1M278.6 280.4h1M292.4 291.8h1M267.8 306.6h1M280.7 304.8h1M266.4 300.7h1M269.6 283.6h1M284.1 288.9h1M261.7 319.5h1M275.2 280.9h1M274.3 308.0h1M256.4 295.9h1M270.9 290.0h1M283.9 306.5h1M272.5 291.1h1M280.2 302.3h1M286.7 319.5h1M278.5 319.5h1M278.4 290.3h1M265.6 302.9h1M269.8 305.6h1M258.7 278.7h1M285.6 272.0h1M271.0 315.7h1M261.2 293.9h1M274.4 288.0h1M288.6 315.0h1M282.3 294.6h1M267.5 304.1h1M288.8 308.3h1M266.1 309.0h1M287.4 316.4h1M279.6 319.5h1M269.7 309.3h1M263.1 312.4h1M286.0 306.4h1M264.0 313.1h1M279.0 275.2h1M267.4 280.3h1M266.1 298.3h1M281.7 283.8h1M268.4 290.0h1M289.3 298.5h1M260.0 319.5h1M288.9 275.6h1M266.2 288.8h1M292.5 319.5h1M281.7 282.2h1M269.0 312.3h1M256.5 303.0h1M270.0 299.6h1M281.9 274.6h1M260.8 290.3h1M267.6 280.1h1M279.8 293.2h1M267.9 299.6h1M282.3 286.4h1M258.6 286.0h1M254.2 279.5h1M270.2 314.0h1M282.4 277.6h1M253.5 283.0h1M253.5 292.8h1M268.3 278.2h1M273.7 295.9h1M282.0 283.2h1M265.4 282.0h1M261.3 275.1h1M274.9 301.7h1M271.2 296.9h1M293.0 290.7h1M280.0 287.4h1M269.5 274.4h1M269.3 299.3h1M253.5 319.5h1M264.5 277.8h1M258.1 303.8h1M292.1 319.5h1M269.5 319.5h1M257.2 270.2h1M287.2 279.0h1M275.6 319.5h1M280.8 284.6h1M288.7 301.1h1M259.5 284.9h1M256.1 310.7h1M260.2 274.0h1M288.4 305.9h1M253.5 271.3h1M284.8 299.6h1M256.7 296.8h1M273.0 309.6h1M265.1 291.9h1M289.7 293.1h1M295.8 275.1h1M262.5 297.6h1M257.3 297.5h1M271.9 294.6h1M262.4 300.4h1M278.0 279.0h1M281.8 289.2h1M271.5 294.0h1M260.9 300.4h1M283.1 299.1h1M265.9 301.9h1M292.5 285.4h1M263.9 294.9h1M253.5 304.8h1M278.3 285.1h1M286.5 317.8h1M267.7 296.5h1M259.7 293.3h1M287.0 300.9h1M265.4 308.2h1M264.1 282.9h1M285.5 280.9h1M277.9 280.9h1M278.1 294.6h1M269.8 284.4h1M263.5 283.6h1M273.7 303.3h1M253.5 314.4h1M269.9 319.5h1M277.0 280.8h1M283.3 313.0h1M267.7 304.7h1M258.5 313.3h1M284.0 296.6h1M288.8 304.5h1M282.7 310.6h1M264.2 277.3h1M268.2 277.5h1M272.4 319.5h1M268.5 300.0h1M281.1 273.2h1M253.5 302.4h1M280.6 298.7h1M254.4 293.0h1M290.0 277.4h1M260.6 319.5h1M270.8 294.0h1M274.4 293.1h1M264.8 302.1h1M263.6 315.3h1M255.4 275.5h1M285.1 281.1h1M258.1 295.8h1M266.5 313.1h1M260.4 317.5h1M277.7 289.4h1M283.8 313.4h1M254.5 276.5h1M276.5 293.6h1M293.0 316.5h1M267.2 285.4h1M264.4 281.7h1M268.9 286.8h1M268.1 272.9h1M259.7 317.5h1M272.1 278.1h1M256.7 303.1h1M267.2 297.0h1M264.5 314.2h1M291.1 282.4h1M279.0 309.9h1M253.5 272.9h1M254.2 280.6h1M284.6 298.4h1M274.0 313.8h1M276.5 315.9h1M263.8 319.5h1M256.3 319.0h1M274.0 271.3h1M275.7 280.4h1M253.5 276.1h1M278.0 297.7h1M261.0 290.1h1M282.8 317.2h1M280.6 273.0h1M261.8 281.7h1M260.3 315.3h1M253.5 281.4h1M253.5 310.2h1M280.2 292.2h1M279.8 295.7h1M277.7 297.1h1M281.2 314.1h1M286.6 307.3h1M292.6 275.7h1M281.4 281.5h1M253.5 292.0h1M282.6 292.3h1M270.2 286.9h1M267.1 297.5h1M267.2 278.4h1M259.2 290.5h1M262.5 274.4h1M278.8 302.5h1M284.0 293.3h1M279.4 299.7h1M284.9 309.8h1M279.4 299.9h1M281.0 298.8h1M284.8 303.3h1M267.8 298.3h1M253.5 319.5h1M265.1 279.4h1M270.9 275.9h1M253.5 309.7h1M276.1 307.9h1M255.5 273.8h1M275.6 281.9h1M281.3 316.5h1M253.5 312.2h1M255.0 304.5h1M291.6 319.5h1M270.2 308.8h1M286.4 301.4h1M253.5 312.5h1M280.1 291.7h1M295.0 280.6h1M263.3 291.0h1M257.6 295.7h1M268.8 306.1h1M283.2 288.0h1M281.2 306.0h1M274.9 288.8h1M284.1 308.0h1M273.3 313.5h1M271.9 317.1h1M286.9 277.8h1M284.4 302.2h1M274.1 319.5h1M279.3 319.5h1M267.2 302.9h1M253.5 319.5h1M254.9 312.0h1M261.8 319.5h1M267.8 282.0h1M280.2 271.8h1M280.1 275.5h1M253.6 309.5h1M269.1 319.1h1M275.6 309.2h1M275.9 280.0h1M290.6 291.4h1M260.0 319.5h1M266.8 302.7h1M276.6 318.4h1M285.3 278.6h1M293.5 294.6h1M253.5 307.2h1M262.4 319.5h1M282.1 315.0h1M286.4 289.6h1M253.5 280.4h1M262.7 293.3h1M268.4 281.3h1M256.2 279.2h1M285.7 300.6h1M279.6 285.7h1M276.4 277.4h1M281.1 319.5h1M286.7 283.4h1M260.0 312.0h1M269.9 283.2h1M257.2 319.5h1M275.1 317.2h1M286.4 294.9h1M276.7 279.7h1M267.0 307.5h1M289.5 293.1h1M265.1 294.8h1M266.4 280.2h1M253.5 276.2h1M268.5 280.3h1M262.3 274.8h1M267.9 292.7h1M278.3 319.5h1M266.1 273.4h1M265.8 319.5h1M285.4 302.7h1M274.3 310.3h1M267.4 297.9h1M273.9 304.5h1M282.7 281.4h1M265.6 271.7h1M278.3 271.6h1M256.0 297.5h1M266.6 319.1h1M275.6 310.9h1M279.7 285.4h1M290.1 319.5h1M266.8 319.5h1M279.9 317.6h1M262.5 271.0h1M276.6 309.1h1M275.1 276.7h1M278.2 297.5h1M274.5 309.4h1M282.2 314.5h1M266.2 291.3h1M269.5 308.8h1M271.7 313.5h1M288.1 295.1h1M275.9 271.1h1M268.8 298.9h1M269.8 311.3h1M272.4 298.5h1M277.0 296.5h1M273.0 310.2h1M264.3 283.3h1M288.8 319.5h1M287.5 276.4h1M253.5 306.9h1M270.9 270.5h1M253.5 313.5h1M284.5 295.7h1M267.8 286.9h1M275.9 310.0h1M274.1 312.5h1M253.5 309.0h1M253.5 305.6h1M289.8 290.4h1M257.5 307.6h1M287.1 313.6h1M270.1 302.8h1M260.4 306.4h1M284.8 295.7h1M253.5 304.0h1M273.0 304.0h1M273.3 277.3h1M279.0 283.0h1M267.9 277.4h1M279.0 290.3h1M257.8 274.2h1M259.2 319.5h1M272.1 294.0h1M262.6 282.3h1M284.6 315.2h1M284.6 287.2h1M264.0 274.5h1M259.7 275.5h1M285.7 286.2h1M255.6 281.0h1M257.5 303.6h1M270.2 311.0h1M287.5 292.2h1M253.7 288.7h1M263.6 308.8h1M273.3 304.3h1M259.9 285.5h1M279.2 274.9h1M282.6 275.3h1M283.2 295.3h1M272.0 280.7h1M293.7 282.4h1M286.1 285.3h1M253.5 299.6h1M267.9 285.8h1M286.5 307.7h1M286.3 299.7h1M268.1 315.3h1M278.8 308.4h1M282.4 309.1h1M295.9 319.5h1M257.6 274.1h1M263.6 319.5h1M268.3 316.2h1M257.2 307.9h1M253.5 319.5h1M290.4 280.7h1M267.5 286.5h1M280.1 290.0h1M263.8 312.1h1M288.1 295.8h1M253.5 308.1h1M265.5 284.1h1M268.6 292.9h1M295.0 313.2h1M269.2 319.3h1M269.2 316.5h1M257.3 312.4h1M276.4 319.5h1M259.0 311.9h1M266.0 314.1h1M279.8 273.2h1M273.3 292.0h1M265.8 313.7h1M275.9 306.1h1M268.5 284.9h1M266.8 317.7h1M255.2 319.5h1M293.2 303.9h1M271.3 302.2h1M279.4 299.6h1M267.4 294.9h1M282.0 313.7h1M273.0 319.5h1M257.9 285.0h1M259.3 313.8h1M270.1 293.8h1M273.5 300.9h1M285.3 295.4h1M278.4 279.1h1M281.6 302.3h1M291.3 288.8h1M275.0 285.9h1M253.8 309.0h1M266.5 296.0h1M275.0 314.4h1M281.8 274.1h1M273.8 300.7h1M271.1 290.7h1M260.1 282.4h1M287.6 287.2h1M287.8 314.8h1M253.5 319.5h1M253.5 296.3h1M261.3 292.3h1M270.3 315.6h1M284.9 316.8h1M257.7 273.4h1M253.5 303.2h1M273.6 303.7h1M271.2 304.2h1M277.0 292.4h1M260.8 314.5h1M272.1 319.5h1M275.2 295.9h1M274.7 300.4h1M281.5 292.8h1M272.4 319.5h1M292.3 280.7h1M253.5 310.9h1M276.5 303.5h1M253.5 305.6h1M262.7 313.2h1M265.2 278.6h1M268.7 301.2h1M289.2 311.0h1M257.4 307.1h1M268.7 306.9h1M284.4 277.5h1M276.0 314.8h1M278.2 307.9h1M255.3 277.7h1M281.3 301.5h1M265.2 289.0h1M290.7 304.4h1M290.0 278.4h1M258.0 280.9h1M269.6 292.9h1M275.8 277.3h1M255.6 301.4h1M260.0 301.7h1M279.1 307.2h1M287.1 309.1h1M278.8 295.3h1M264.0 274.6h1M292.0 318.2h1M272.3 274.3h1M277.6 316.7h1M265.2 281.5h1M254.1 315.6h1M263.7 319.5h1M279.8 312.0h1M271.1 319.5h1M279.6 319.5h1M284.5 290.9h1M284.3 319.5h1M272.0 306.2h1M260.3 294.2h1M291.5 290.3h1M280.2 295.6h1M271.5 311.0h1M279.1 285.6h1M286.3 311.7h1M274.2 291.2h1M255.8 281.6h1M286.1 293.6h1M256.8 272.5h1M264.8 308.6h1M263.9 295.6h1M259.1 298.4h1M253.5 286.3h1M270.9 301.5h1M274.9 315.6h1M262.6 285.9h1M276.8 304.9h1M257.5 294.5h1M267.6 274.6h1M278.5 297.1h1M259.7 294.1h1M281.2 278.1h1M264.4 303.1h1M275.6 274.5h1M269.1 319.5h1M286.8 292.7h1M294.6 293.7h1M261.9 319.5h1M269.4 292.9h1M278.5 310.5h1M277.9 304.5h1M270.9 306.1h1M280.6 273.6h1M281.5 302.5h1M275.0 277.4h1M253.5 307.8h1M277.7 319.5h1M270.1 319.5h1M271.8 304.7h1M262.3 294.4h1M260.6 310.6h1M253.5 301.5h1M279.6 305.2h1M253.5 284.1h1M262.9 292.3h1M267.9 291.8h1M271.6 291.9h1M267.6 273.6h1M256.4 279.2h1M276.5 287.9h1M276.3 299.4h1M275.1 315.1h1M279.8 290.8h1M256.7 300.8h1M294.9 319.5h1M262.8 306.7h1M288.3 292.0h1M285.1 279.9h1M286.6 278.6h1M285.4 283.5h1M264.9 295.1h1M268.5 316.9h1M277.1 274.6h1M277.8 303.6h1M258.7 291.5h1M256.7 319.5h1M285.5 305.9h1M265.5 283.0h1M253.5 315.4h1M278.5 300.4h1M253.5 314.1h1M280.2 297.1h1M262.7 319.1h1M256.0 283.5h1M271.0 296.9h1M286.8 278.9h1M274.2 277.9h1M271.9 318.0h1M293.3 319.5h1M286.3 275.1h1M264.1 319.3h1M253.5 319.5h1M258.9 303.9h1M255.8 316.3h1M293.9 309.0h1M275.3 285.4h1M278.2 318.6h1M276.7 309.8h1M262.6 293.2h1M285.8 296.9h1M277.5 274.3h1M283.1 294.9h1M276.3 315.7h1M266.6 303.6h1M277.8 306.4h1M293.9 294.7h1M280.4 271.4h1M267.7 292.1h1M260.4 285.1h1M270.9 296.0h1M256.9 277.0h1M253.5 277.2h1M267.8 319.5h1M261.4 273.1h1M263.1 283.5h1M269.2 310.6h1M263.0 274.2h1M288.7 295.4h1M274.5 285.8h1M275.3 319.5h1M275.0 317.1h1M261.2 290.7h1M275.6 309.0h1M273.4 303.8h1M271.0 293.5h1M257.0 304.7h1M268.0 313.1h1M253.5 314.9h1M253.5 275.7h1M257.9 272.4h1M276.8 316.5h1M260.0 270.7h1M284.9 298.6h1M278.7 315.5h1M266.3 310.5h1M284.9 309.2h1M260.7 295.7h1M266.7 319.5h1M280.6 313.8h1M253.5 306.4h1M267.0 310.2h1M253.5 319.5h1M268.8 289.7h1M260.1 302.8h1M265.1 289.7h1M266.9 311.3h1M272.5 282.0h1M272.4 312.7h1M266.5 319.5h1M256.0 319.5h1M281.0 305.2h1M260.9 302.6h1M262.4 294.6h1M273.6 306.9h1M290.6 319.0h1M294.8 303.3h1M284.0 306.8h1M263.8 314.0h1M272.8 284.1h1M275.1 308.4h1M269.8 292.3h1M255.2 296.0h1M270.2 286.8h1M267.7 319.5h1M268.8 291.5h1M278.6 314.5h1M260.8 319.5h1M276.5 290.9h1M253.5 285.5h1M263.7 283.1h1M270.6 276.5h1M289.4 301.3h1M278.0 296.2h1M267.4 280.0h1M267.6 272.1h1M276.6 319.5h1M258.2 299.4h1M266.7 314.3h1M259.8 314.1h1M267.0 301.3h1M267.9 290.7h1M263.9 288.7h1M263.9 319.5h1M271.0 282.6h1M259.5 273.3h1M292.2 319.5h1M262.3 301.2h1M260.1 280.0h1M283.6 288.6h1M267.0 280.7h1M264.1 313.0h1M259.7 277.4h1M264.7 287.5h1M291.1 308.9h1M261.1 285.2h1M259.4 299.8h1M274.3 304.4h1M263.8 276.2h1M271.7 294.6h1M257.2 318.9h1M253.5 316.5h1M268.6 275.3h1M281.9 314.1h1M264.3 318.1h1M295.4 285.2h1M264.6 315.4h1M274.0 291.6h1M292.2 292.1h1M260.8 275.0h1M255.9 306.9h1M253.5 318.9h1M283.4 271.6h1M268.4 319.5h1M276.3 319.5h1M253.5 303.3h1M259.0 309.1h1M268.1 289.4h1M256.0 305.3h1M267.4 289.7h1M273.3 295.2h1M282.9 281.2h1M253.5 305.4h1M264.6 272.8h1M279.3 303.2h1M259.3 276.7h1M279.4 309.8h1M273.7 278.3h1M257.9 317.7h1M268.5 319.5h1M266.1 295.3h1M261.8 310.0h1M270.6 272.8h1M276.7 319.5h1M277.4 300.2h1M277.2 279.4h1M278.8 279.6h1M271.0 310.0h1M276.4 280.9h1M264.3 286.0h1M272.5 274.1h1M268.7 316.2h1M284.6 281.5h1M271.0 279.1h1M255.3 296.7h1M270.1 305.9h1M262.1 302.0h1M266.7 309.1h1M278.1 291.5h1M295.5 306.8h1M255.2 277.1h1M282.8 294.9h1M261.1 291.2h1M262.1 317.0h1M266.2 308.7h1M281.7 317.8h1M287.5 287.4h1M260.8 311.7h1M253.5 304.0h1M265.7 277.5h1M260.0 319.0h1M277.5 302.2h1M261.9 309.4h1M277.4 304.6h1M260.4 298.2h1M286.3 319.5h1M255.8 292.1h1M266.3 313.3h1M257.0 293.9h1M282.2 313.8h1M269.7 301.8h1M257.8 309.6h1M270.6 279.5h1M267.6 275.3h1M269.4 294.5h1M259.7 271.3h1M259.4 301.3h1M289.2 313.1h1M267.6 286.4h1M293.3 288.2h1M261.5 278.7h1M268.7 273.4h1M278.6 319.5h1M290.0 316.0h1M295.1 310.8h1M283.0 314.4h1M269.1 298.6h1M276.1 278.4h1M271.3 311.4h1M275.7 307.5h1M274.0 305.8h1M283.9 286.8h1M290.7 301.0h1M262.4 292.0h1M265.4 297.2h1M267.6 306.0h1M268.6 302.4h1M270.3 274.4h1M283.0 274.0h1M269.0 319.5h1M287.8 319.5h1M280.9 289.0h1M264.6 279.4h1M259.2 271.0h1M253.5 317.1h1M273.7 310.5h1M263.9 314.2h1M266.5 280.6h1M265.4 281.8h1M272.4 285.0h1M268.9 299.0h1M256.3 279.6h1M259.4 317.0h1M253.5 301.1h1M275.8 280.0h1M276.6 271.5h1M253.5 288.3h1M273.0 298.2h1M275.4 316.6h1M253.5 319.5h1M282.4 319.5h1M267.8 272.3h1M270.1 286.1h1M288.7 309.2h1M253.5 287.7h1M280.9 281.9h1M260.5 303.5h1M253.5 308.7h1M279.4 275.0h1M269.4 295.7h1M274.1 303.8h1M292.9 319.2h1M262.5 310.6h1M277.9 288.0h1M254.3 286.2h1M267.1 271.4h1M260.0 296.9h1M268.4 272.5h1M288.1 311.6h1M282.1 317.4h1M274.1 319.5h1M264.7 287.3h1M261.5 299.3h1M268.8 282.3h1M268.1 279.8h1M275.7 302.2h1M279.0 278.7h1M280.0 280.2h1M286.9 277.3h1M274.5 289.7h1M284.3 296.0h1M261.7 319.5h1M259.1 319.5h1M257.2 319.5h1M253.5 316.7h1M271.5 293.1h1M286.6 277.8h1M253.5 298.7h1M253.5 291.5h1M253.5 301.0h1M267.3 312.8h1M293.5 310.9h1M286.7 296.3h1M283.7 304.4h1M261.3 281.5h1M290.3 270.5h1M263.5 314.4h1M275.7 293.1h1M271.7 293.7h1M279.8 319.5h1M258.9 281.6h1M284.1 306.1h1M267.4 296.1h1M273.9 284.5h1M277.7 314.5h1M269.8 311.9h1M271.6 307.5h1M258.1 319.5h1M277.7 282.6h1M270.7 294.5h1M270.6 281.9h1M284.6 319.5h1M268.6 319.4h1M253.5 309.9h1M260.0 319.5h1M279.0 292.4h1M284.7 284.3h1M255.5 281.4h1M287.5 310.2h1M271.2 293.3h1M266.2 300.9h1M269.0 314.4h1M253.5 282.4h1M269.1 319.5h1M281.9 273.0h1M258.6 279.0h1M264.5 315.8h1M274.7 294.5h1M274.7 319.5h1M278.6 271.5h1M271.5 308.7h1M253.5 281.0h1M282.9 290.4h1M276.3 309.2h1M256.4 290.9h1M270.8 305.5h1M271.7 311.2h1M266.9 287.4h1M272.4 294.6h1M271.5 293.4h1M282.3 277.0h1M265.5 307.2h1M274.4 315.5h1M283.1 283.0h1M275.1 282.8h1M279.5 303.6h1M276.0 288.3h1M265.6 317.4h1M274.6 274.6h1M268.4 310.8h1M273.6 314.8h1M261.0 289.8h1M270.1 307.6h1M277.4 278.7h1M294.2 319.5h1M263.4 281.4h1M258.6 306.8h1M265.4 273.4h1M291.6 301.7h1M282.2 294.1h1M279.6 319.5h1M280.8 319.5h1M280.8 319.5h1M253.5 313.3h1M271.7 286.8h1M265.5 290.7h1M266.9 311.9h1M269.2 300.0h1M278.3 305.8h1M270.7 319.5h1M262.6 317.5h1M287.4 309.3h1M278.1 273.4h1M256.6 310.9h1M290.4 270.3h1M267.3 311.8h1M281.3 296.4h1M262.5 270.6h1M274.7 285.9h1M253.5 319.5h1M275.5 312.4h1M272.1 272.1h1M281.2 286.4h1M277.3 285.8h1M253.8 309.6h1M254.4 282.0h1M272.8 304.5h1M266.3 300.3h1M274.8 285.7h1M270.1 300.3h1M263.0 292.3h1M256.6 277.8h1M276.0 311.6h1M286.2 310.1h1M290.9 311.0h1M269.8 308.6h1M277.2 308.6h1M270.8 304.4h1M268.4 313.5h1M253.5 272.0h1M287.6 319.5h1M288.9 272.5h1M274.3 288.2h1M254.7 319.5h1M264.8 280.4h1M265.5 319.5h1M266.8 274.3h1M253.5 281.9h1M272.5 275.6h1M263.9 303.5h1M290.4 303.2h1M282.8 280.6h1M270.7 284.9h1M289.5 288.8h1M253.5 286.5h1M273.4 301.3h1M266.5 303.9h1M281.6 280.2h1M278.2 307.6h1M283.0 288.4h1M261.9 271.1h1M267.4 319.5h1M255.5 285.2h1M278.7 284.5h1M255.2 317.3h1M270.7 302.6h1M273.1 273.3h1M264.6 319.5h1M263.9 273.2h1M258.1 285.5h1M270.8 298.8h1M265.7 299.7h1M276.3 276.7h1M273.6 272.3h1M261.7 318.1h1M291.4 302.4h1M277.4 310.0h1M273.3 296.5h1M265.7 305.2h1M274.2 294.3h1M284.7 287.8h1M259.3 302.7h1M257.6 304.2h1M276.9 286.4h1M258.2 276.0h1M268.2 286.4h1M268.8 316.3h1M274.3 319.5h1M268.4 297.6h1M264.6 310.6h1M264.5 314.2h1M253.5 293.8h1M293.3 273.9h1M285.9 301.3h1M253.5 314.5h1M274.1 317.9h1M273.5 276.1h1M253.5 314.1h1M257.9 288.3h1M273.6 285.7h1M261.8 288.8h1M282.1 290.0h1M273.9 303.5h1M265.9 304.9h1M275.0 280.7h1M275.1 303.4h1M288.1 315.4h1M263.7 278.7h1M257.9 315.2h1M268.9 286.5h1M253.5 319.5h1M263.4 307.8h1M268.4 282.9h1M260.9 293.5h1M286.4 297.3h1M274.6 298.4h1M273.8 275.7h1M270.2 309.7h1M253.5 294.8h1M268.3 300.7h1M274.6 309.8h1M271.7 308.5h1M253.5 319.5h1M272.3 293.9h1M253.5 312.3h1M266.2 304.2h1M258.9 310.7h1M291.4 311.8h1M286.6 275.6h1M261.8 311.4h1M266.7 319.5h1M281.6 282.5h1M281.0 297.8h1M262.4 281.5h1M266.6 305.2h1M286.3 300.9h1M270.8 314.2h1M274.3 299.8h1M278.0 303.2h1M255.7 291.5h1M284.3 319.5h1M285.6 299.7h1M257.9 283.4h1M262.2 288.2h1M273.0 301.1h1M264.2 302.8h1M265.4 278.7h1M282.8 285.0h1M255.1 319.5h1M290.7 292.3h1M253.5 305.8h1M265.0 311.0h1M273.5 298.7h1M266.4 301.4h1M267.2 318.5h1M266.0 300.3h1M262.0 303.2h1M261.5 273.1h1M274.3 296.3h1M277.1 272.2h1M256.1 314.7h1M274.4 317.4h1M264.1 284.2h1M272.6 276.3h1M253.5 312.3h1M261.5 273.2h1M274.5 319.5h1M271.5 306.7h1M271.2 319.5h1M256.7 288.1h1M295.7 319.5h1M264.8 302.1h1M268.4 283.5h1M274.8 281.1h1M275.3 275.4h1M277.8 286.0h1M277.5 316.2h1M287.8 276.7h1M267.4 301.1h1M267.2 285.5h1M279.2 281.5h1M253.5 272.6h1M267.7 273.0h1M286.7 279.4h1M263.3 289.3h1M253.5 315.8h1M284.7 278.5h1M286.0 274.5h1M284.7 273.6h1M253.5 276.8h1M255.6 299.8h1M284.7 296.6h1M274.1 270.8h1M262.2 319.5h1M274.4 292.4h1M268.1 289.0h1M264.5 297.5h1M287.2 270.5h1M265.5 294.1h1M288.0 293.7h1M291.5 275.9h1M260.1 272.4h1M266.9 295.6h1M259.2 286.5h1M293.6 319.5h1M281.2 308.7h1M253.5 312.5h1M286.4 304.7h1M287.1 308.6h1M266.8 281.0h1M279.3 300.5h1M283.0 319.1h1M288.4 306.3h1M282.4 317.7h1M263.0 278.8h1M255.7 279.3h1M294.0 272.3h1M282.4 271.6h1M280.5 291.6h1M269.2 313.9h1M269.3 305.9h1M279.1 307.9h1M269.6 276.1h1M279.2 318.6h1M262.4 309.7h1M253.5 307.9h1M269.2 309.5h1M259.1 304.8h1M267.5 290.1h1M264.8 287.8h1M269.7 309.1h1M287.4 274.9h1M269.3 297.3h1M286.8 274.8h1M262.2 303.1h1M280.6 319.5h1M266.2 291.0h1M273.5 277.6h1M255.9 285.5h1M273.4 297.2h1M274.0 319.5h1M271.1 316.7h1M264.3 297.0h1M269.6 319.5h1M253.5 304.1h1M262.8 306.1h1M270.6 304.7h1M275.1 294.2h1M275.8 309.3h1M255.8 319.5h1M266.4 316.4h1M270.5 270.9h1M273.6 296.0h1M258.7 299.1h1M275.9 278.0h1M258.9 283.4h1M283.1 281.0h1M253.5 292.5h1M280.6 308.9h1M266.2 300.4h1M276.3 300.1h1M269.0 280.8h1M272.3 279.0h1M288.3 278.5h1M279.3 275.4h1M271.9 298.5h1M265.3 308.7h1M253.5 285.5h1M275.3 290.8h1M286.9 315.8h1M286.0 278.9h1M281.7 270.9h1M277.1 319.5h1M293.8 303.4h1M274.8 290.0h1M278.2 290.3h1M265.7 279.6h1M294.6 317.2h1M253.5 299.2h1M265.0 316.3h1M278.7 281.1h1M253.5 283.6h1M265.2 306.0h1M255.9 304.9h1M256.9 281.5h1M268.9 294.0h1M279.4 274.6h1M284.7 304.2h1M276.4 311.5h1M267.8 288.6h1M267.2 278.2h1M280.7 281.7h1M285.3 282.1h1M258.6 319.5h1M260.3 286.4h1M281.6 298.1h1M266.6 315.3h1M274.5 271.3h1M272.1 319.4h1M286.7 314.3h1M268.2 311.3h1M288.5 297.3h1M266.2 282.8h1M253.8 296.8h1M295.4 281.4h1M278.0 299.4h1M292.5 314.3h1M275.0 279.4h1M278.4 299.4h1M278.6 314.5h1M281.4 286.9h1M264.2 286.0h1M274.8 311.5h1M286.1 319.0h1M276.2 270.3h1M258.4 288.8h1M275.1 304.9h1M280.5 287.1h1M260.5 277.6h1M267.0 319.5h1M276.1 305.7h1M267.9 306.5h1M263.3 282.1h1M266.8 282.0h1M255.7 309.1h1M271.0 314.7h1M273.3 286.4h1M283.8 278.2h1M269.7 283.9h1M268.7 287.7h1M294.5 293.6h1M275.9 294.4h1M258.0 302.0h1M253.5 303.3h1M253.9 287.3h1M280.0 277.3h1M285.5 298.5h1M255.7 315.1h1M260.3 283.5h1M273.1 293.5h1M265.9 319.5h1M265.4 275.9h1M267.2 292.4h1M281.9 287.0h1M262.9 301.5h1M282.0 319.5h1M291.4 302.5h1M272.1 317.1h1M280.4 317.7h1M271.0 306.3h1M265.1 275.2h1M275.7 310.9h1M270.1 302.6h1M289.7 273.2h1M256.5 293.9h1M261.8 272.4h1M253.5 300.3h1M281.1 280.5h1M291.0 290.0h1M280.9 312.5h1M271.6 296.2h1M265.7 308.1h1M274.0 275.7h1M282.1 286.6h1M264.1 312.0h1M264.1 316.7h1M253.5 317.5h1M284.9 317.7h1M268.7 316.1h1M295.7 272.2h1M293.3 314.2h1M253.5 315.7h1M265.9 296.8h1M264.8 298.9h1M253.5 319.5h1M257.8 293.6h1M273.0 285.2h1M288.0 288.3h1M281.1 288.8h1M291.9 300.2h1M271.2 292.8h1M292.8 284.7h1M283.9 315.4h1M264.1 307.2h1M277.2 316.7h1M257.2 277.8h1M275.3 278.7h1M282.1 319.5h1M277.2 295.7h1M285.4 319.5h1M255.9 286.9h1M259.0 296.2h1M278.8 316.0h1M284.0 301.9h1M269.9 292.8h1M262.2 319.4h1M286.4 310.6h1M258.5 307.3h1M294.8 294.4h1M295.1 293.8h1M265.1 302.6h1M283.5 278.9h1M285.3 278.1h1M270.1 274.8h1M271.1 318.4h1M273.2 292.9h1M258.2 279.5h1M276.1 317.4h1M278.6 319.5h1M264.0 306.1h1M274.7 307.3h1M265.7 281.9h1M253.5 294.9h1M253.5 311.0h1M283.3 277.4h1M261.4 275.6h1M258.2 294.3h1M259.0 305.9h1M258.3 306.7h1M290.6 302.2h1M270.2 286.7h1M270.6 307.9h1M283.1 304.6h1M267.7 294.0h1M253.5 299.3h1M253.5 312.2h1M275.4 282.0h1M286.6 299.0h1M278.1 294.5h1M272.6 309.2h1M262.9 295.0h1M265.1 319.5h1M256.2 284.3h1M283.1 319.5h1M288.3 276.4h1M267.1 271.7h1M253.9 290.1h1M270.5 292.1h1M274.6 298.5h1M284.7 303.6h1M276.7 291.1h1M289.6 282.8h1M275.7 296.8h1M271.5 319.5h1M283.7 311.8h1M284.6 277.4h1M262.2 280.8h1M269.5 292.1h1M284.3 287.9h1M269.9 274.3h1M262.1 314.0h1M265.6 306.5h1M260.5 271.2h1M281.8 304.3h1M260.0 286.8h1M259.9 293.4h1M272.9 275.0h1M260.2 276.4h1M259.2 293.3h1M253.8 295.0h1M274.2 300.5h1M271.1 309.0h1M273.3 306.4h1M280.6 291.2h1M275.4 280.6h1M260.4 309.0h1M263.2 306.9h1M272.7 304.4h1M285.6 316.8h1M279.9 284.1h1M255.4 296.7h1M269.3 309.2h1M277.3 275.4h1M269.2 292.9h1M273.6 275.1h1M286.9 296.5h1M277.9 281.3h1M255.6 271.1h1M274.1 287.1h1M257.4 271.1h1M268.4 293.2h1M278.8 271.3h1M258.5 315.6h1M285.8 289.6h1M253.5 274.9h1M259.9 290.6h1M264.3 292.7h1M257.7 282.9h1M289.0 294.0h1M269.0 304.9h1M254.7 316.2h1M274.3 316.8h1M259.3 298.7h1M273.0 281.8h1M259.9 312.6h1M285.2 303.6h1M263.8 310.9h1M262.0 288.2h1M270.4 273.2h1M276.6 311.5h1M253.5 302.4h1M264.9 306.3h1M253.5 311.1h1M266.2 277.1h1M261.1 291.8h1M263.1 308.1h1M264.8 270.8h1M265.7 311.8h1M272.0 293.5h1M273.7 277.3h1M283.6 273.7h1M293.1 303.4h1M272.0 310.5h1M261.7 300.2h1M270.3 293.7h1M253.5 281.0h1M278.6 272.5h1M278.2 273.8h1M284.4 314.2h1M261.3 319.5h1M277.4 274.5h1M269.5 295.0h1M281.4 280.1h1M270.2 303.3h1M291.3 292.3h1M288.7 274.9h1M279.4 310.9h1M275.8 273.6h1M253.5 319.5h1M283.3 277.2h1M260.9 308.0h1M282.0 272.8h1M253.7 281.5h1M277.4 289.9h1M290.8 294.8h1M290.3 305.6h1M278.0 285.4h1M280.3 284.3h1M276.1 313.2h1M294.3 283.8h1M264.8 288.5h1M267.6 308.9h1M269.1 311.7h1M270.7 295.8h1M262.4 293.2h1M253.6 278.3h1M253.5 302.1h1M295.2 309.0h1M280.2 319.5h1M276.4 317.2h1M268.1 275.4h1M280.4 299.9h1M291.1 297.0h1M292.1 285.3h1M254.4 308.2h1M287.8 283.8h1M273.3 292.2h1M276.2 313.6h1M267.5 301.8h1M276.4 319.5h1M290.7 301.0h1M283.6 282.9h1M275.7 309.4h1M256.0 302.4h1M253.5 305.2h1M253.5 290.3h1M271.3 277.7h1M264.0 276.0h1M268.0 296.8h1M273.4 271.0h1M274.7 301.0h1M267.2 313.8h1M273.2 279.6h1M278.9 300.2h1M289.4 318.0h1M253.8 289.5h1M268.3 319.5h1M271.5 304.0h1M267.8 295.9h1M261.9 319.5h1M274.9 283.5h1M268.2 301.7h1M295.7 305.1h1M263.4 307.2h1M280.2 302.9h1M267.4 290.2h1M278.0 314.5h1M257.9 275.5h1M286.0 295.5h1M264.7 318.8h1M276.1 302.5h1M287.8 314.5h1M274.7 302.3h1M284.2 275.6h1M287.2 275.8h1M283.4 275.7h1M274.2 305.6h1M270.0 294.3h1M278.8 283.3h1M253.5 319.1h1M282.4 280.8h1M285.6 311.4h1M265.6 294.6h1M275.8 317.2h1M254.3 287.9h1M262.8 313.9h1M253.5 305.2h1M268.7 296.8h1M253.5 319.5h1M255.5 277.0h1M275.8 273.9h1M288.3 275.3h1M291.6 307.1h1M281.7 319.5h1M256.7 286.1h1M274.9 277.0h1M269.3 312.9h1M255.0 307.7h1M265.2 315.1h1M261.6 291.5h1M270.6 288.2h1M256.3 305.5h1M264.0 309.0h1M278.1 316.2h1M277.4 289.2h1M272.2 302.2h1M276.4 277.5h1M257.2 296.2h1M264.0 308.2h1M273.5 291.5h1M273.7 274.2h1M287.3 308.5h1M260.2 312.9h1M277.4 304.7h1M255.6 303.3h1M265.8 310.1h1M283.9 292.7h1M282.8 276.8h1M266.9 308.6h1M272.0 305.7h1M268.6 304.0h1M260.0 310.4h1M264.7 296.7h1M285.0 284.4h1M259.5 318.7h1M288.3 316.7h1M269.2 300.5h1M274.3 306.7h1M253.5 290.8h1M275.6 318.8h1M264.0 317.0h1M287.7 289.0h1M283.6 315.8h1M257.8 281.5h1M271.1 280.3h1M267.0 316.0h1M276.7 277.5h1M290.0 290.8h1M262.1 278.0h1M277.5 276.9h1M257.6 319.5h1M260.2 302.5h1M273.1 302.6h1M259.2 297.1h1M257.0 286.0h1M277.1 302.1h1M287.8 306.3h1M255.2 289.2h1M267.4 270.6h1M255.0 299.6h1M264.6 297.9h1M261.2 315.4h1M253.5 288.2h1M265.9 270.7h1M281.7 282.4h1M253.5 272.5h1M272.2 289.2h1M275.6 319.5h1M283.4 270.6h1M253.5 296.4h1M253.5 299.8h1M270.6 294.6h1M281.9 290.3h1M293.0 281.0h1M255.1 282.3h1M274.1 319.5h1M265.1 294.3h1M269.1 290.7h1M289.4 294.2h1M282.2 293.8h1M278.3 303.3h1M270.6 284.4h1M269.3 284.8h1M267.8 296.4h1M286.4 319.5h1M282.4 274.5h1M286.0 299.9h1M274.6 298.0h1M282.1 302.9h1M256.3 303.3h1M271.0 298.4h1M268.2 278.9h1M273.4 285.5h1M260.3 274.9h1M269.6 290.4h1M258.7 313.2h1M267.7 303.8h1M267.7 310.2h1M253.5 305.7h1M286.6 283.2h1M264.3 299.3h1M272.4 298.4h1M285.3 315.1h1M271.4 299.0h1M264.8 300.7h1M287.5 291.1h1M270.7 311.8h1M259.4 319.5h1M286.2 308.9h1M273.5 283.7h1M272.2 316.8h1M282.7 283.4h1M270.1 277.8h1M254.2 281.2h1M253.5 314.4h1M263.2 309.9h1M275.9 306.8h1M277.0 305.0h1M278.0 288.6h1M265.6 281.5h1M262.0 317.2h1M264.0 271.7h1M278.5 295.2h1M261.0 309.2h1M275.0 275.9h1M262.0 319.5h1M280.8 301.4h1M274.3 310.6h1M275.7 296.6h1M253.5 314.3h1M253.5 289.1h1M258.5 309.2h1M278.4 292.0h1M291.4 300.1h1M264.2 303.7h1M271.4 276.2h1M263.3 295.6h1M273.0 308.9h1M274.4 311.2h1M273.2 304.1h1M274.7 302.2h1M269.4 303.3h1M274.4 319.5h1M263.1 319.3h1M264.9 273.7h1M272.8 295.0h1M262.7 276.9h1M255.7 300.7h1M270.2 293.0h1M277.7 311.0h1M275.7 308.2h1M276.8 292.8h1M269.3 291.1h1M293.8 286.4h1M291.7 311.9h1M268.0 288.7h1M288.3 289.5h1M264.2 318.0h1M291.6 288.9h1M259.1 310.4h1M258.8 294.8h1M288.4 301.0h1M261.3 300.8h1M253.5 319.5h1M278.5 278.7h1M295.4 282.7h1M286.8 285.9h1M278.8 279.0h1M255.0 276.7h1M254.9 278.2h1M272.4 281.3h1M291.1 275.7h1M287.0 308.0h1M276.8 314.5h1M274.1 292.8h1M268.7 312.8h1M273.9 317.3h1M272.7 300.3h1M272.4 294.4h1M273.3 319.5h1M289.1 287.1h1M282.1 285.8h1M272.3 316.9h1M270.3 293.6h1M290.1 281.7h1M282.2 307.8h1M271.6 283.1h1M264.5 286.9h1M279.3 314.5h1M257.7 277.4h1M270.3 280.2h1M294.0 312.6h1M280.4 294.8h1M283.1 283.5h1M277.4 272.3h1M259.6 315.3h1M283.6 313.9h1M266.8 306.2h1M270.7 281.4h1M294.5 309.7h1M281.8 280.1h1M289.6 286.9h1M279.3 310.5h1M253.5 316.8h1M253.5 295.0h1M262.1 292.6h1M277.3 316.7h1M277.1 293.6h1M284.8 282.5h1M278.3 317.8h1M281.7 311.0h1M285.9 301.5h1M274.0 303.2h1M289.1 287.2h1M274.3 297.1h1M283.7 271.0h1M270.6 317.1h1M277.6 291.9h1M287.7 308.9h1M282.7 319.5h1M261.0 298.4h1M277.4 272.7h1M294.1 293.0h1M271.3 303.3h1M280.5 276.9h1M277.5 279.0h1M255.4 274.7h1M258.8 316.1h1M265.0 310.7h1M282.4 286.3h1M280.2 273.1h1M263.3 284.3h1M259.1 278.6h1M255.9 288.2h1M271.0 289.2h1M268.7 280.1h1M276.9 286.0h1M269.0 276.6h1M275.0 281.4h1M261.9 282.7h1M253.5 319.5h1M266.4 274.4h1M260.0 294.6h1M256.1 274.2h1M253.5 274.2h1M274.7 304.4h1M263.3 296.5h1M283.8 298.1h1M263.4 309.4h1M271.7 307.6h1M284.4 279.5h1M273.6 286.5h1M260.7 303.8h1M263.8 307.6h1M283.2 311.5h1M266.1 319.5h1M274.2 281.6h1M274.8 315.3h1M253.5 273.5h1M274.2 282.2h1M281.3 279.6h1M271.2 303.3h1M253.5 305.0h1M269.4 287.3h1M257.4 292.7h1M284.6 276.2h1M280.3 295.5h1M291.3 292.4h1M268.2 305.5h1M271.3 297.3h1M271.0 297.4h1M260.8 274.6h1M275.6 305.4h1M269.8 316.8h1M260.0 310.9h1M284.9 296.4h1M253.5 281.3h1M267.4 278.1h1M257.4 306.4h1M269.2 287.5h1M286.5 275.0h1M274.8 319.5h1M275.9 303.7h1M272.1 319.2h1M253.5 275.9h1M288.6 272.1h1M276.9 296.4h1M265.9 274.2h1M271.2 287.4h1M264.7 296.0h1M272.7 276.6h1M288.3 286.3h1M265.5 303.3h1M257.6 283.5h1M267.2 297.9h1M276.0 309.8h1M284.0 276.9h1M261.9 319.5h1M273.8 319.5h1M278.0 306.6h1M271.0 301.7h1M254.4 319.5h1M259.9 290.5h1M253.5 313.2h1M281.2 312.1h1M277.5 285.3h1M268.8 309.4h1M259.3 279.1h1M264.1 275.8h1M262.1 301.2h1M253.5 304.7h1M277.8 315.8h1M269.9 305.7h1M258.7 284.5h1M260.2 298.7h1M268.0 308.5h1M280.3 300.2h1M282.1 319.5h1M274.7 279.9h1M275.8 292.2h1M253.5 280.8h1M267.8 314.6h1M268.7 304.4h1M268.2 282.5h1M272.8 303.6h1M260.4 278.8h1M275.3 286.2h1M253.5 319.5h1M280.1 288.6h1M278.8 286.5h1M278.7 293.3h1M266.1 287.6h1M288.0 280.6h1M262.8 296.9h1M273.6 276.2h1M280.7 318.0h1M263.5 271.2h1M268.3 313.0h1M253.5 309.0h1M287.1 314.8h1M264.7 300.4h1M253.5 306.3h1M285.2 276.2h1M288.3 284.3h1M256.0 289.5h1M253.5 291.6h1M272.4 309.2h1M279.2 308.8h1M255.0 275.8h1M291.5 284.9h1M288.7 273.4h1M267.4 302.2h1M264.3 277.2h1M282.4 282.3h1M264.1 282.4h1M266.3 280.3h1M268.9 317.2h1M264.7 303.6h1M266.9 283.3h1M271.7 318.4h1M276.5 313.2h1M258.2 316.0h1M287.6 310.6h1M253.6 286.0h1M253.5 285.3h1M262.6 310.0h1M276.7 289.8h1M266.3 272.9h1M272.1 314.3h1M261.3 296.4h1M268.2 289.0h1M277.5 284.1h1M266.1 301.1h1M272.2 301.5h1M265.0 293.0h1M268.2 312.5h1M274.8 286.3h1M253.5 295.0h1M253.5 300.4h1M260.2 300.5h1M270.6 276.8h1M258.3 290.1h1M271.5 286.8h1M257.7 313.5h1M282.0 287.3h1M259.5 319.5h1M293.1 294.6h1M267.2 313.3h1M279.1 294.9h1M261.8 316.4h1M279.6 308.3h1M260.7 275.4h1M277.6 277.8h1M268.5 288.5h1M287.9 306.4h1M279.9 313.9h1M253.5 301.7h1M266.0 292.6h1M270.3 295.6h1M260.0 303.0h1M261.8 288.0h1M263.5 296.0h1M262.3 277.2h1M292.9 300.4h1M265.6 319.5h1M266.5 283.2h1M254.2 312.2h1M253.5 288.8h1M263.2 272.2h1M274.9 299.2h1M276.1 311.3h1M259.6 304.9h1M265.6 282.3h1M263.8 271.6h1M266.5 295.8h1M261.9 310.3h1M280.3 280.8h1M280.9 288.2h1M289.5 317.0h1M281.3 276.4h1M277.5 287.0h1M277.1 318.2h1M273.4 278.2h1M276.1 294.7h1M265.0 315.9h1M267.0 314.4h1M253.5 291.6h1M272.6 281.3h1M281.7 312.9h1M283.9 288.5h1M269.2 304.2h1M267.7 275.9h1M281.7 317.3h1M279.8 288.5h1M258.6 292.6h1M258.2 319.1h1M257.3 314.8h1M272.4 273.2h1M253.5 271.5h1M276.8 295.3h1M257.9 310.1h1M269.4 293.5h1M268.4 286.9h1M263.9 280.8h1M263.6 310.6h1M287.0 319.5h1M272.5 272.9h1M269.7 298.9h1M264.4 285.6h1M280.4 271.7h1M264.6 303.3h1M284.6 313.0h1M280.3 309.9h1M276.6 319.5h1M263.7 319.5h1M266.5 300.8h1M283.6 293.2h1M275.9 302.9h1M280.8 304.2h1M253.5 288.1h1M258.6 282.8h1M282.7 300.6h1M255.3 293.1h1M281.9 302.0h1M273.2 303.7h1M283.5 304.8h1M280.5 309.9h1M261.9 289.0h1M275.3 318.7h1M256.1 301.4h1M266.6 294.7h1M274.4 305.7h1M272.2 276.3h1M272.4 284.0h1M274.5 319.5h1M286.3 288.9h1M273.4 302.8h1M270.8 309.2h1M269.2 286.7h1M280.3 292.7h1M269.5 312.1h1M267.3 309.4h1M279.9 315.5h1M267.6 315.8h1M257.0 276.8h1M272.0 281.2h1M270.9 312.8h1M269.4 284.5h1M255.0 275.6h1M258.3 319.5h1M262.3 287.6h1M272.0 287.4h1M280.8 299.1h1M263.0 308.1h1M266.4 288.7h1M261.0 319.5h1M259.6 314.5h1M275.4 315.5h1M253.5 282.8h1M271.8 319.5h1M254.5 301.1h1M260.4 295.1h1M268.7 294.0h1M270.5 275.2h1M281.0 300.5h1M263.2 319.5h1M278.9 281.8h1M253.5 313.7h1M256.9 293.4h1M269.7 295.6h1M262.7 291.3h1M253.5 319.5h1M253.5 275.8h1M279.1 299.2h1M266.6 272.5h1M255.1 286.7h1M274.0 304.0h1M275.1 275.1h1M280.3 292.6h1M262.1 312.1h1M264.8 290.2h1M256.1 286.5h1M263.5 294.2h1M253.5 306.8h1M291.1 285.9h1M272.6 281.3h1M253.5 306.2h1M253.5 289.3h1M265.7 276.9h1M253.5 298.7h1M255.6 272.4h1M253.5 279.1h1M276.0 308.0h1M275.3 316.9h1M273.4 276.9h1M254.1 282.6h1M283.2 300.4h1M279.1 303.4h1M268.0 294.2h1M253.5 283.7h1M261.5 293.3h1M282.0 282.2h1M254.7 296.5h1M276.1 278.3h1M274.1 283.8h1M282.6 286.0h1M275.9 287.5h1M270.9 312.9h1M282.3 312.0h1M263.3 297.3h1M270.9 280.4h1M263.9 287.7h1M282.5 301.1h1M269.2 275.4h1M266.2 311.2h1M273.0 300.4h1M261.2 282.9h1M255.0 273.8h1M283.0 319.5h1M277.4 299.4h1M274.0 318.2h1M271.1 286.6h1M257.0 283.5h1M269.6 288.2h1M261.3 274.5h1M257.9 290.7h1M273.2 300.7h1M270.5 273.9h1M269.6 308.1h1M271.8 279.3h1M261.4 282.4h1M259.3 307.6h1M285.6 298.9h1M269.2 295.9h1M267.4 319.5h1M274.9 311.6h1M266.1 312.4h1M271.1 306.9h1M253.5 316.2h1M255.6 293.6h1M253.5 297.5h1M267.4 284.6h1M276.3 301.5h1M288.0 316.8h1M261.9 307.4h1M258.4 304.6h1M262.7 281.2h1M287.5 289.7h1M266.6 293.6h1M285.4 279.9h1M268.9 293.7h1M282.1 318.9h1M284.2 304.6h1M274.5 309.5h1M272.9 273.7h1M263.0 285.7h1M278.9 282.1h1M283.2 285.1h1M265.4 279.0h1M277.1 287.7h1M258.1 274.1h1M288.4 293.3h1M253.5 287.1h1M262.7 277.3h1M269.9 297.4h1M277.4 311.1h1M271.0 281.8h1M280.2 306.3h1M284.4 274.9h1M279.4 274.0h1M277.1 310.9h1M275.4 318.6h1M285.4 288.9h1M256.9 308.6h1M275.8 273.9h1M277.6 298.7h1M266.7 277.7h1M293.8 293.8h1M253.9 299.6h1M274.3 307.3h1M278.4 310.0h1M265.7 293.1h1M291.0 285.2h1M274.6 295.0h1M272.3 284.4h1M263.3 291.4h1M281.9 298.1h1M265.7 289.2h1M287.3 270.2h1M266.1 319.5h1M275.7 290.1h1M268.5 319.5h1M272.9 316.9h1M265.6 282.2h1M253.5 289.1h1M266.6 271.4h1M286.1 280.9h1M283.0 295.9h1M261.7 284.4h1M269.0 278.3h1M287.2 297.9h1M266.8 283.7h1M259.6 290.5h1M268.6 310.8h1M277.9 298.6h1M253.5 305.8h1M281.6 309.0h1M284.5 289.8h1M285.5 271.8h1M278.1 292.6h1M277.7 313.9h1M279.1 317.5h1M275.6 285.0h1M253.5 302.1h1M273.3 274.1h1M263.3 295.7h1M261.4 314.7h1M266.8 290.8h1M267.1 288.8h1M270.4 319.5h1M278.3 278.9h1M276.5 280.4h1M272.9 286.7h1M263.8 294.6h1M272.0 306.0h1M281.0 274.2h1M281.9 316.3h1M253.5 303.2h1M255.2 282.0h1M283.7 274.4h1M289.2 298.6h1M260.5 283.0h1M282.0 303.4h1M269.8 286.3h1M281.0 319.5h1M275.1 316.1h1M270.2 313.0h1M257.8 288.9h1M271.0 317.5h1M284.5 319.5h1M260.6 288.1h1M271.3 278.4h1M271.3 285.6h1M275.4 315.9h1M275.9 302.3h1M261.0 289.3h1M257.0 304.1h1M278.0 290.6h1M274.8 287.7h1M282.1 290.5h1M258.4 274.2h1M273.1 314.0h1M288.4 289.6h1M258.8 272.2h1M258.7 302.9h1M265.0 275.9h1M284.8 305.2h1M269.4 319.5h1M293.3 319.5h1M253.5 278.7h1M255.0 276.3h1M277.3 273.1h1M253.5 306.9h1M270.4 294.7h1M255.9 278.3h1M287.1 317.9h1M253.5 318.7h1M274.8 294.4h1M257.2 279.7h1M264.8 292.0h1M271.1 299.5h1M273.3 319.2h1M255.6 319.5h1M283.6 316.3h1M279.5 302.6h1M277.1 294.0h1M253.5 271.6h1M266.6 273.9h1M253.5 304.2h1M278.1 276.3h1M286.2 315.5h1M262.7 282.2h1M294.0 301.0h1M268.0 316.3h1M260.9 297.8h1M273.2 280.2h1M278.1 319.5h1M283.2 270.3h1M279.7 282.6h1M278.1 309.7h1M253.5 298.4h1M259.8 270.3h1M253.5 297.5h1M275.7 289.5h1M266.0 312.8h1M273.7 296.5h1M260.3 281.5h1M261.9 278.9h1M271.1 319.5h1M275.6 319.5h1M259.6 300.0h1M289.4 301.1h1M267.0 299.5h1M272.5 279.3h1M268.2 293.1h1M280.9 284.2h1M268.2 298.1h1M272.9 308.8h1M271.9 282.0h1M265.8 300.2h1M271.3 282.7h1M261.5 305.0h1M254.0 279.5h1M275.1 316.8h1M266.5 278.8h1M283.0 285.0h1M269.8 313.1h1M270.8 316.9h1M280.3 293.6h1M284.9 280.9h1M288.7 304.3h1M284.9 285.8h1M262.2 283.1h1M269.8 282.0h1M277.5 287.7h1M295.3 289.2h1M273.9 313.8h1M273.2 299.6h1M275.2 319.5h1M264.3 278.8h1M277.5 285.8h1M270.9 309.2h1M271.7 307.5h1M266.1 319.5h1M274.1 281.1h1M274.6 298.7h1M282.0 306.9h1M262.1 298.4h1M254.1 307.0h1M280.3 304.2h1M271.4 289.8h1M266.0 319.5h1M273.0 296.4h1M260.2 315.9h1M277.6 279.7h1M279.5 302.3h1M272.0 282.6h1M253.5 278.4h1M276.6 285.5h1M266.3 298.2h1M278.6 298.8h1M256.0 319.5h1M253.5 319.5h1M254.8 279.5h1M274.4 300.4h1M281.4 306.4h1M276.9 297.1h1M262.2 300.5h1M279.3 282.8h1M288.6 301.0h1M255.5 313.4h1M278.6 314.3h1M261.8 313.7h1M263.4 287.5h1M271.0 312.7h1M258.1 302.9h1M294.0 293.5h1M263.2 302.5h1M275.9 281.8h1M275.5 287.9h1M285.8 289.0h1M258.6 319.5h1M294.8 309.2h1M275.5 306.8h1M265.2 296.1h1M270.9 297.8h1M264.9 284.2h1M273.9 301.7h1M264.1 294.7h1M262.0 319.5h1M253.5 289.5h1M266.4 287.5h1M253.5 316.0h1M281.4 289.3h1M253.5 286.1h1M278.7 318.8h1M272.0 288.0h1M282.8 305.5h1M270.5 306.3h1M264.2 271.9h1M284.4 297.4h1M260.7 307.9h1M275.0 275.1h1M262.1 311.9h1M286.2 319.5h1M268.7 285.5h1M282.7 276.9h1M260.9 298.1h1M253.5 271.6h1M290.2 288.2h1M288.3 292.4h1M277.4 308.4h1M253.5 319.5h1M277.7 313.1h1M264.8 271.1h1M261.3 282.4h1M256.3 275.6h1M270.1 270.5h1M262.7 271.3h1M278.7 276.5h1M253.5 273.8h1M272.4 271.7h1M272.8 276.1h1M285.6 271.5h1M282.4 272.7h1M294.0 272.4h1M256.2 272.3h1M290.6 281.3h1M272.0 274.6h1M271.6 286.9h1" stroke="#000" stroke-width="1" fill="none"/>
<path d="M307.8 284.5h.9M296.6 291.8h.9M282.1 270.1h.9M296.3 278.9h.9M267.7 268.4h.9M268.7 261.3h.9M267.8 265.9h.9M300.1 312.1h.9M311.5 295.1h.9M298.0 275.2h.9M262.9 264.5h.9M253.5 263.2h.9M270.6 266.3h.9M292.3 256.4h.9M310.5 279.0h.9M253.5 269.4h.9M281.3 268.7h.9M275.4 264.1h.9M299.9 298.1h.9M273.5 268.3h.9M271.5 266.7h.9M257.7 266.1h.9M281.0 269.6h.9M285.5 268.5h.9M296.7 281.3h.9M279.8 269.3h.9M265.9 262.1h.9M272.0 266.1h.9M272.9 266.3h.9M265.8 267.6h.9M301.3 285.8h.9M297.6 279.0h.9M275.6 267.9h.9M296.2 319.5h.9M253.5 265.4h.9M271.9 264.9h.9M271.3 268.2h.9M260.9 266.9h.9M275.6 269.9h.9M297.4 319.5h.9M282.7 265.6h.9M263.7 269.2h.9M265.5 265.0h.9M267.8 267.5h.9M258.4 267.5h.9M298.9 292.5h.9M286.3 266.1h.9M285.0 258.6h.9M268.1 270.1h.9M273.5 266.1h.9M270.8 269.8h.9M277.2 268.9h.9M297.1 309.5h.9M297.7 278.6h.9M271.1 266.9h.9M278.2 266.9h.9M299.3 281.3h.9M296.7 303.2h.9M260.3 270.0h.9M296.4 290.8h.9M298.5 301.7h.9M301.1 304.1h.9M270.2 257.7h.9M263.1 261.4h.9M275.9 267.2h.9M283.9 269.3h.9M253.5 269.3h.9M270.6 266.1h.9M255.1 270.1h.9M300.1 289.9h.9M298.4 287.4h.9M298.6 281.9h.9M282.0 267.5h.9M257.5 268.9h.9M275.7 266.6h.9M258.9 269.9h.9M296.7 308.6h.9M291.6 267.1h.9M298.8 319.5h.9M276.8 265.9h.9M285.6 269.7h.9M298.5 307.8h.9M298.7 313.0h.9M282.4 262.5h.9M255.4 266.0h.9M271.5 264.2h.9M260.9 267.5h.9M257.0 268.1h.9M258.6 267.8h.9M277.7 268.3h.9M256.2 270.0h.9M275.8 269.1h.9M265.5 268.7h.9M259.4 269.5h.9M282.9 269.0h.9M268.8 264.6h.9M283.5 266.8h.9M253.5 267.8h.9M286.3 265.8h.9M274.8 267.6h.9M277.3 268.3h.9M289.8 268.9h.9M292.8 266.5h.9M279.2 264.9h.9M265.9 267.2h.9M260.5 268.8h.9M298.6 305.6h.9M268.5 268.6h.9M298.7 288.2h.9M299.0 293.0h.9M262.8 267.2h.9M298.7 280.1h.9M267.2 262.3h.9M275.0 263.1h.9M297.3 288.4h.9M268.0 269.8h.9M299.1 305.6h.9M283.3 268.6h.9M297.1 319.5h.9M265.4 266.8h.9M298.8 287.9h.9M275.0 266.2h.9M267.7 269.3h.9M263.3 269.4h.9M302.9 279.8h.9M294.3 269.1h.9M271.1 269.4h.9M287.2 269.5h.9M282.6 265.1h.9M297.4 310.0h.9M276.4 261.4h.9M255.8 267.1h.9M270.7 267.7h.9M297.9 287.4h.9M282.4 269.2h.9M286.4 268.0h.9M300.6 287.4h.9M266.4 269.4h.9M298.7 278.6h.9M297.2 289.7h.9M267.4 257.8h.9M285.7 269.7h.9M257.7 269.0h.9M306.0 312.6h.9M269.5 267.9h.9M281.2 265.1h.9M277.0 267.3h.9M263.6 268.0h.9M254.6 267.3h.9M279.7 269.6h.9M298.1 319.5h.9M253.5 266.1h.9M286.1 268.4h.9M277.9 267.4h.9M260.5 261.3h.9M298.3 306.3h.9M286.5 269.2h.9M304.5 285.6h.9M281.4 240.8h.9M280.0 243.6h.9M257.7 265.5h.9M264.6 251.8h.9M265.0 243.3h.9M259.2 252.8h.9M287.0 250.4h.9M278.0 249.1h.9M280.2 249.8h.9M289.0 259.3h.9M282.0 241.8h.9M290.6 251.5h.9M281.4 246.7h.9M281.0 259.1h.9M253.5 229.7h.9M266.4 261.9h.9M254.2 244.5h.9M268.6 258.7h.9M268.4 248.4h.9M284.6 263.3h.9M263.7 251.0h.9M273.4 250.9h.9M297.0 273.7h.9M277.9 263.6h.9M288.3 236.7h.9M269.1 264.8h.9M272.4 269.0h.9M272.6 260.5h.9M296.1 233.7h.9M277.3 249.0h.9M294.4 258.6h.9M282.8 239.1h.9M287.5 255.5h.9M253.5 231.1h.9M268.1 257.8h.9M272.1 243.8h.9M267.3 257.8h.9M275.5 242.1h.9M270.1 239.0h.9M299.0 265.8h.9M259.9 240.9h.9M279.9 249.9h.9M285.3 244.8h.9M282.6 250.5h.9M271.2 259.2h.9M299.9 269.3h.9M264.3 266.4h.9M276.7 246.2h.9M269.5 262.1h.9M253.5 259.2h.9M278.4 260.8h.9M261.9 251.2h.9M281.1 245.7h.9M286.7 265.3h.9M253.5 249.5h.9M277.4 252.5h.9M279.7 245.4h.9M290.1 241.8h.9M253.5 262.2h.9M287.5 260.5h.9M253.5 250.3h.9M260.6 239.0h.9M298.0 243.1h.9M297.2 251.1h.9M282.8 249.7h.9M267.2 260.2h.9M276.3 250.5h.9M277.5 249.3h.9M263.7 259.7h.9M278.3 244.4h.9M288.8 248.9h.9M261.7 241.0h.9M276.3 249.0h.9M262.6 248.0h.9M259.0 241.4h.9M316.4 264.8h.9M307.6 210.6h.9M274.5 221.1h.9M303.1 252.3h.9M257.7 201.5h.9M296.1 238.5h.9M313.7 266.6h.9M264.5 241.1h.9M279.0 233.9h.9M320.5 235.0h.9M263.4 239.1h.9M272.7 256.5h.9M317.7 269.3h.9M260.0 229.0h.9M276.9 247.6h.9M326.4 264.9h.9M310.3 263.3h.9M266.2 235.0h.9M253.6 215.8h.9M309.3 270.7h.9M291.3 262.1h.9M290.8 262.0h.9M267.3 269.1h.9M273.7 263.2h.9M341.3 298.2h.9M302.5 299.9h.9M340.8 284.5h.9M306.0 308.9h.9M304.9 299.5h.9M316.5 252.6h.9M339.8 314.2h.9M326.0 265.0h.9M298.3 283.0h.9M344.6 285.5h.9M339.0 309.2h.9M315.5 279.1h.9M344.5 285.8h.9M314.4 268.2h.9M338.7 281.4h.9M329.0 267.8h.9M349.4 310.0h.9M306.1 264.6h.9M364.0 290.2h.9M358.9 245.8h.9M355.1 270.8h.9M354.9 241.5h.9M364.4 240.7h.9M361.5 251.2h.9M365.0 306.2h.9M363.5 223.6h.9M363.7 316.0h.9M363.0 279.6h.9M365.8 228.7h.9M365.3 314.2h.9M363.7 319.4h.9M368.5 284.2h.9M359.3 256.8h.9M363.5 307.7h.9M362.6 305.6h.9M367.2 279.3h.9M360.6 249.9h.9M363.1 245.6h.9M366.1 249.6h.9M361.1 303.4h.9M360.2 235.5h.9M363.7 316.7h.9M360.6 263.7h.9M360.2 298.0h.9M360.6 267.1h.9M359.8 297.7h.9M360.1 264.9h.9M368.7 301.1h.9M360.9 258.0h.9M367.1 241.0h.9M359.8 262.0h.9M362.7 284.9h.9M364.4 278.5h.9M357.9 292.2h.9M365.7 273.8h.9M353.5 249.5h.9M367.7 303.2h.9M361.4 319.5h.9M364.6 202.7h.9M364.2 267.0h.9M386.4 286.1h.9M363.8 301.7h.9M372.9 252.6h.9M343.1 270.6h.9M343.4 263.6h.9M354.5 260.3h.9M336.8 215.1h.9M373.0 252.9h.9" stroke="#000" stroke-opacity=".7" stroke-width=".95" fill="none"/>
<path d="M253.5 178.5H401.3V319.5" fill="none" stroke="#666" stroke-width="1"/>
<line x1="253.5" y1="178.5" x2="253.5" y2="319.5" stroke="#000" stroke-width="1.2"/>
<line x1="253.5" y1="319.5" x2="401.3" y2="319.5" stroke="#000" stroke-width="1.2"/>
<line x1="326.5" y1="178.5" x2="326.5" y2="319.5" stroke="#555" stroke-width="1"/>
<line x1="253.5" y1="276.4" x2="401.3" y2="276.4" stroke="#555" stroke-width="1"/>
<path d="M253.5 319.5h-3.2M253.5 319.5v3.2M253.5 308.9h-1.8M264.6 319.5v1.8M253.5 302.7h-1.8M271.1 319.5v1.8M253.5 298.3h-1.8M275.7 319.5v1.8M253.5 294.9h-1.8M279.3 319.5v1.8M253.5 292.1h-1.8M282.3 319.5v1.8M253.5 289.7h-1.8M284.7 319.5v1.8M253.5 287.7h-1.8M286.9 319.5v1.8M253.5 285.9h-1.8M288.8 319.5v1.8M253.5 284.2h-3.2M290.4 319.5v3.2M253.5 273.6h-1.8M301.6 319.5v1.8M253.5 267.4h-1.8M308.1 319.5v1.8M253.5 263.0h-1.8M312.7 319.5v1.8M253.5 259.6h-1.8M316.3 319.5v1.8M253.5 256.8h-1.8M319.2 319.5v1.8M253.5 254.5h-1.8M321.7 319.5v1.8M253.5 252.4h-1.8M323.8 319.5v1.8M253.5 250.6h-1.8M325.7 319.5v1.8M253.5 249.0h-3.2M327.4 319.5v3.2M253.5 238.4h-1.8M338.5 319.5v1.8M253.5 232.2h-1.8M345.0 319.5v1.8M253.5 227.8h-1.8M349.6 319.5v1.8M253.5 224.4h-1.8M353.2 319.5v1.8M253.5 221.6h-1.8M356.2 319.5v1.8M253.5 219.2h-1.8M358.6 319.5v1.8M253.5 217.2h-1.8M360.8 319.5v1.8M253.5 215.4h-1.8M362.7 319.5v1.8M253.5 213.8h-3.2M364.4 319.5v3.2M253.5 203.1h-1.8M375.5 319.5v1.8M253.5 196.9h-1.8M382.0 319.5v1.8M253.5 192.5h-1.8M386.6 319.5v1.8M253.5 189.1h-1.8M390.2 319.5v1.8M253.5 186.3h-1.8M393.1 319.5v1.8M253.5 184.0h-1.8M395.6 319.5v1.8M253.5 181.9h-1.8M397.7 319.5v1.8M253.5 180.1h-1.8M399.6 319.5v1.8M253.5 178.5h-3.2M401.3 319.5v3.2" stroke="#000" stroke-width="0.8" fill="none"/>
<text x="70.8" y="15.7" font-size="12.6">10<tspan font-size="9" dy="-5.8">4</tspan></text>
<text x="70.8" y="52.0" font-size="12.6">10<tspan font-size="9" dy="-5.8">3</tspan></text>
<text x="70.8" y="88.5" font-size="12.6">10<tspan font-size="9" dy="-5.8">2</tspan></text>
<text x="70.8" y="125.3" font-size="12.6">10<tspan font-size="9" dy="-5.8">1</tspan></text>
<text x="70.8" y="159.8" font-size="12.6">10<tspan font-size="9" dy="-5.8">0</tspan></text>
<text x="70.8" y="185.5" font-size="12.6">10<tspan font-size="9" dy="-5.8">4</tspan></text>
<text x="70.8" y="221.5" font-size="12.6">10<tspan font-size="9" dy="-5.8">3</tspan></text>
<text x="70.8" y="255.0" font-size="12.6">10<tspan font-size="9" dy="-5.8">2</tspan></text>
<text x="70.8" y="288.6" font-size="12.6">10<tspan font-size="9" dy="-5.8">1</tspan></text>
<text x="70.8" y="325.0" font-size="12.6">10<tspan font-size="9" dy="-5.8">0</tspan></text>
<text x="88.6" y="336.8" font-size="12.6">10<tspan font-size="9" dy="-5.8">0</tspan></text>
<text x="125.1" y="336.8" font-size="12.6">10<tspan font-size="9" dy="-5.8">1</tspan></text>
<text x="161.6" y="336.8" font-size="12.6">10<tspan font-size="9" dy="-5.8">2</tspan></text>
<text x="198.1" y="336.8" font-size="12.6">10<tspan font-size="9" dy="-5.8">3</tspan></text>
<text x="234.6" y="336.8" font-size="12.6">10<tspan font-size="9" dy="-5.8">4</tspan></text>
<text x="250.6" y="337.6" font-size="12.6">10<tspan font-size="9" dy="-5.8">0</tspan></text>
<text x="284.0" y="337.6" font-size="12.6">10<tspan font-size="9" dy="-5.8">1</tspan></text>
<text x="320.9" y="337.6" font-size="12.6">10<tspan font-size="9" dy="-5.8">2</tspan></text>
<text x="357.8" y="337.6" font-size="12.6">10<tspan font-size="9" dy="-5.8">3</tspan></text>
<text x="394.7" y="337.6" font-size="12.6">10<tspan font-size="9" dy="-5.8">4</tspan></text>
<text x="100.3" y="29.3" font-size="12.6" font-weight="bold" textLength="113" lengthAdjust="spacingAndGlyphs">pVWF-488, 0 min</text>
<text x="259.6" y="29.5" font-size="12.6" font-weight="bold" textLength="112" lengthAdjust="spacingAndGlyphs">pVWF-488, 2 min</text>
<text x="99" y="195" font-size="12.6" font-weight="bold" textLength="123.5" lengthAdjust="spacingAndGlyphs">pVWF-488 +pVWF,</text>
<text x="95.7" y="213.4" font-size="12.6" font-weight="bold" textLength="39.5" lengthAdjust="spacingAndGlyphs">2&#160; min</text>
<text x="256.7" y="194.8" font-size="12.6" font-weight="bold" textLength="125.5" lengthAdjust="spacingAndGlyphs">pVWF-488 +pVWF+</text>
<text x="256.7" y="211.6" font-size="12.6" font-weight="bold" textLength="120.5" lengthAdjust="spacingAndGlyphs">anti-GpIb&#945;, 2&#160; min</text>
<text x="6.3" y="55.9" font-size="33.5" font-weight="bold" textLength="25.2" lengthAdjust="spacingAndGlyphs">A</text>
<text x="61.2" y="218" font-size="17.8" font-weight="bold" textLength="85.5" lengthAdjust="spacingAndGlyphs" transform="rotate(-90 61.2 218)">pVWF-488</text>
<text x="205" y="357" font-size="17.8" font-weight="bold" textLength="100.3" lengthAdjust="spacingAndGlyphs">Annexin-PE</text>
<defs><pattern id="chkB" x="9.00" y="6.75" width="11.5" height="11.5" patternUnits="userSpaceOnUse"><rect width="11.5" height="11.5" fill="#fff"/><rect width="5.75" height="5.75" fill="#000"/><rect x="5.75" y="5.75" width="5.75" height="5.75" fill="#000"/></pattern><pattern id="chkC" x="8.55" y="5.50" width="11.5" height="11.5" patternUnits="userSpaceOnUse"><rect width="11.5" height="11.5" fill="#fff"/><rect width="5.75" height="5.75" fill="#000"/><rect x="5.75" y="5.75" width="5.75" height="5.75" fill="#000"/></pattern></defs>
<rect x="102.3" y="548.1" width="17.7" height="7.5" fill="#fff" stroke="#000" stroke-width="1.1"/>
<rect x="120.0" y="528.8" width="17.7" height="26.8" fill="url(#chkB)" stroke="#000" stroke-width="1.1"/>
<path d="M129.0 528.8V527.6M126.1 527.6h5.8" stroke="#000" stroke-width="1.1" fill="none"/>
<path d="M129.0 529.9V529.8M126.1 529.8h5.8" stroke="#fff" stroke-width="1.6" fill="none"/>
<path d="M126.1 529.9h5.8" stroke="#fff" stroke-width="1.6"/>
<rect x="137.7" y="499.5" width="17.7" height="56.1" fill="#000" stroke="#000" stroke-width="0.6"/>
<path d="M146.7 499.5V495.8M143.8 495.8h5.8" stroke="#000" stroke-width="1.1" fill="none"/>
<rect x="164.2" y="547.1" width="17.7" height="8.5" fill="#fff" stroke="#000" stroke-width="1.1"/>
<path d="M173.2 547.1V546.5M170.3 546.5h5.8" stroke="#000" stroke-width="1.1" fill="none"/>
<rect x="181.9" y="463.2" width="17.7" height="92.4" fill="url(#chkB)" stroke="#000" stroke-width="1.1"/>
<path d="M190.9 463.2V458.5M188.0 458.5h5.8" stroke="#000" stroke-width="1.1" fill="none"/>
<path d="M190.9 468.0V464.2M188.0 464.2h5.8" stroke="#fff" stroke-width="1.6" fill="none"/>
<path d="M188.0 468.0h5.8" stroke="#fff" stroke-width="1.6"/>
<rect x="199.6" y="438.0" width="17.7" height="117.6" fill="#000" stroke="#000" stroke-width="0.6"/>
<path d="M208.6 438.0V435.4M205.7 435.4h5.8" stroke="#000" stroke-width="1.1" fill="none"/>
<rect x="226.1" y="547.7" width="17.7" height="7.9" fill="#fff" stroke="#000" stroke-width="1.1"/>
<path d="M235.1 547.7V547.3M232.2 547.3h5.8" stroke="#000" stroke-width="1.1" fill="none"/>
<rect x="243.8" y="515.3" width="17.7" height="40.3" fill="url(#chkB)" stroke="#000" stroke-width="1.1"/>
<path d="M252.8 515.3V514.0M249.9 514.0h5.8" stroke="#000" stroke-width="1.1" fill="none"/>
<path d="M252.8 516.7V516.3M249.9 516.3h5.8" stroke="#fff" stroke-width="1.6" fill="none"/>
<path d="M249.9 516.7h5.8" stroke="#fff" stroke-width="1.6"/>
<rect x="261.5" y="511.8" width="17.7" height="43.8" fill="#000" stroke="#000" stroke-width="0.6"/>
<path d="M270.5 511.8V509.4M267.6 509.4h5.8" stroke="#000" stroke-width="1.1" fill="none"/>
<rect x="288.1" y="547.7" width="17.7" height="7.9" fill="#fff" stroke="#000" stroke-width="1.1"/>
<path d="M297.0 547.7V547.3M294.1 547.3h5.8" stroke="#000" stroke-width="1.1" fill="none"/>
<rect x="305.8" y="491.7" width="17.7" height="63.9" fill="url(#chkB)" stroke="#000" stroke-width="1.1"/>
<path d="M314.7 491.7V482.8M311.8 482.8h5.8" stroke="#000" stroke-width="1.1" fill="none"/>
<path d="M314.7 500.5V492.7M311.8 492.7h5.8" stroke="#fff" stroke-width="1.6" fill="none"/>
<path d="M311.8 500.5h5.8" stroke="#fff" stroke-width="1.6"/>
<rect x="323.5" y="466.8" width="17.7" height="88.8" fill="#000" stroke="#000" stroke-width="0.6"/>
<path d="M332.4 466.8V453.4M329.5 453.4h5.8" stroke="#000" stroke-width="1.1" fill="none"/>
<rect x="350.0" y="548.5" width="17.7" height="7.1" fill="#fff" stroke="#000" stroke-width="1.1"/>
<rect x="367.7" y="528.4" width="17.7" height="27.2" fill="url(#chkB)" stroke="#000" stroke-width="1.1"/>
<path d="M376.6 528.4V527.0M373.7 527.0h5.8" stroke="#000" stroke-width="1.1" fill="none"/>
<path d="M376.6 529.7V529.4M373.7 529.4h5.8" stroke="#fff" stroke-width="1.6" fill="none"/>
<path d="M373.7 529.7h5.8" stroke="#fff" stroke-width="1.6"/>
<rect x="385.4" y="520.1" width="17.7" height="35.5" fill="#000" stroke="#000" stroke-width="0.6"/>
<path d="M97.9 396.8V555.6" stroke="#000" stroke-width="2" fill="none"/>
<path d="M96.9 555.6H407.5" stroke="#000" stroke-width="2.1" fill="none"/>
<text x="85" y="560.4" font-size="13.4" text-anchor="end">0</text>
<text x="85" y="520.9" font-size="13.4" text-anchor="end">10</text>
<text x="85" y="481.4" font-size="13.4" text-anchor="end">20</text>
<text x="85" y="442.0" font-size="13.4" text-anchor="end">30</text>
<text x="85" y="402.5" font-size="13.4" text-anchor="end">40</text>
<path d="M97.9 555.6h-4.6M97.9 516.1h-4.6M97.9 476.6h-4.6M97.9 437.2h-4.6M97.9 397.7h-4.6M97.9 555.6v4M159.8 555.6v4M221.7 555.6v4M283.7 555.6v4M345.6 555.6v4M407.5 555.6v4" stroke="#000" stroke-width="1.6" fill="none"/>
<text x="55.1" y="559.4" font-size="13.85" textLength="175" lengthAdjust="spacing" word-spacing="1.3" transform="rotate(-90 55.1 559.4)">Platelet with pVWF-488 (%)</text>
<text x="3.5" y="419.7" font-size="33" font-weight="bold" textLength="22.6" lengthAdjust="spacingAndGlyphs">B</text>
<rect x="126" y="404.3" width="7.4" height="6.9" fill="#fff" stroke="#000" stroke-width="1.2"/>
<rect x="126" y="423.2" width="7.4" height="6.9" fill="#fff" stroke="#000" stroke-width="1.2"/>
<rect x="126" y="423.2" width="3.7" height="3.45" fill="#000"/><rect x="129.7" y="426.65" width="3.7" height="3.45" fill="#000"/>
<rect x="125.4" y="441.5" width="8.6" height="8.1" fill="#000"/>
<text x="136.6" y="412.1" font-size="13.4" textLength="33" lengthAdjust="spacingAndGlyphs">0 min</text>
<text x="136.6" y="431.2" font-size="13.4" textLength="33" lengthAdjust="spacingAndGlyphs">2 min</text>
<text x="136.6" y="450.3" font-size="13.4" textLength="33" lengthAdjust="spacingAndGlyphs">4 min</text>
<text x="191.3" y="461.3" font-size="17" text-anchor="middle" font-weight="bold">*</text>
<text x="210.9" y="438.4" font-size="17" text-anchor="middle" font-weight="bold">*</text>
<rect x="121.0" y="740.7" width="18.0" height="6.8" fill="url(#chkC)" stroke="#000" stroke-width="1.1"/>
<path d="M130.1 740.7V735.8M127.2 735.8h5.8" stroke="#000" stroke-width="1.1" fill="none"/>
<rect x="139.0" y="729.3" width="18.0" height="18.2" fill="#000" stroke="#000" stroke-width="0.6"/>
<path d="M148.1 729.3V718.6M145.2 718.6h5.8" stroke="#000" stroke-width="1.1" fill="none"/>
<rect x="183.6" y="718.9" width="18.0" height="28.6" fill="url(#chkC)" stroke="#000" stroke-width="1.1"/>
<path d="M192.7 718.9V715.5M189.8 715.5h5.8" stroke="#000" stroke-width="1.1" fill="none"/>
<path d="M192.7 722.3V719.9M189.8 719.9h5.8" stroke="#fff" stroke-width="1.6" fill="none"/>
<path d="M189.8 722.3h5.8" stroke="#fff" stroke-width="1.6"/>
<rect x="201.6" y="639.3" width="18.0" height="108.2" fill="#000" stroke="#000" stroke-width="0.6"/>
<path d="M210.7 639.3V620.6M207.8 620.6h5.8" stroke="#000" stroke-width="1.1" fill="none"/>
<rect x="246.1" y="745.2" width="18.0" height="2.3" fill="url(#chkC)" stroke="#000" stroke-width="1.1"/>
<path d="M255.2 745.2V744.5M252.3 744.5h5.8" stroke="#000" stroke-width="1.1" fill="none"/>
<rect x="264.1" y="744.1" width="18.0" height="3.4" fill="#000" stroke="#000" stroke-width="0.6"/>
<path d="M273.2 744.1V743.3M270.3 743.3h5.8" stroke="#000" stroke-width="1.1" fill="none"/>
<rect x="308.7" y="706.2" width="18.0" height="41.3" fill="url(#chkC)" stroke="#000" stroke-width="1.1"/>
<path d="M317.8 706.2V696.8M314.9 696.8h5.8" stroke="#000" stroke-width="1.1" fill="none"/>
<path d="M317.8 715.5V707.2M314.9 707.2h5.8" stroke="#fff" stroke-width="1.6" fill="none"/>
<path d="M314.9 715.5h5.8" stroke="#fff" stroke-width="1.6"/>
<rect x="326.7" y="659.6" width="18.0" height="87.9" fill="#000" stroke="#000" stroke-width="0.6"/>
<path d="M335.8 659.6V628.2M332.9 628.2h5.8" stroke="#000" stroke-width="1.1" fill="none"/>
<rect x="371.2" y="745.7" width="18.0" height="1.8" fill="url(#chkC)" stroke="#000" stroke-width="1.1"/>
<path d="M380.3 745.7V745.2M377.4 745.2h5.8" stroke="#000" stroke-width="1.1" fill="none"/>
<rect x="389.2" y="744.6" width="18.0" height="2.9" fill="#000" stroke="#000" stroke-width="0.6"/>
<path d="M398.3 744.6V743.9M395.4 743.9h5.8" stroke="#000" stroke-width="1.1" fill="none"/>
<path d="M98.7 590.6V747.5" stroke="#000" stroke-width="2" fill="none"/>
<path d="M97.7 747.5H411.5" stroke="#000" stroke-width="2.5" fill="none"/>
<text x="85.2" y="752.9" font-size="13.4" text-anchor="end">0</text>
<text x="85.2" y="726.9" font-size="13.4" text-anchor="end">10</text>
<text x="85.2" y="700.9" font-size="13.4" text-anchor="end">20</text>
<text x="85.2" y="674.9" font-size="13.4" text-anchor="end">30</text>
<text x="85.2" y="648.9" font-size="13.4" text-anchor="end">40</text>
<text x="85.2" y="622.9" font-size="13.4" text-anchor="end">50</text>
<text x="85.2" y="596.9" font-size="13.4" text-anchor="end">60</text>
<path d="M98.7 747.5h-4.6M98.7 721.5h-4.6M98.7 695.5h-4.6M98.7 669.5h-4.6M98.7 643.5h-4.6M98.7 617.5h-4.6M98.7 591.5h-4.6M98.7 747.5v4M161.3 747.5v4M223.8 747.5v4M286.4 747.5v4M348.9 747.5v4M411.5 747.5v4" stroke="#000" stroke-width="1.6" fill="none"/>
<text x="57.6" y="738.2" font-size="13.85" textLength="137.3" lengthAdjust="spacing" word-spacing="1.0" transform="rotate(-90 57.6 738.2)">Platelet activation (%)</text>
<text x="3.8" y="616" font-size="34" font-weight="bold" textLength="23.3" lengthAdjust="spacingAndGlyphs">C</text>
<rect x="131.9" y="597.6" width="7.4" height="6.9" fill="#fff" stroke="#000" stroke-width="1.2"/>
<rect x="131.9" y="614.6" width="7.4" height="6.9" fill="#fff" stroke="#000" stroke-width="1.2"/>
<rect x="134.86" y="614.6" width="4.44" height="6.9" fill="#000"/>
<rect x="131.3" y="631.0" width="8.6" height="8.1" fill="#000"/>
<text x="142.7" y="605.7" font-size="13.4" textLength="33" lengthAdjust="spacingAndGlyphs">0 min</text>
<text x="142.7" y="623.2" font-size="13.4" textLength="33" lengthAdjust="spacingAndGlyphs">2 min</text>
<text x="142.7" y="640.6" font-size="13.4" textLength="33" lengthAdjust="spacingAndGlyphs">4 min</text>
<text x="194.3" y="717" font-size="17" text-anchor="middle" font-weight="bold">*</text>
<text x="211.6" y="623.2" font-size="17" text-anchor="middle" font-weight="bold">*</text>
<text x="8.3" y="766.5" font-size="13.8" textLength="65.8" lengthAdjust="spacingAndGlyphs">pVWF-488</text>
<text x="8.3" y="784.4" font-size="13.8">pVWF</text>
<text x="8.3" y="803.2" font-size="13.8">Anti-GpIb&#945;</text>
<text x="8.3" y="820.4" font-size="13.8" textLength="81.3" lengthAdjust="spacingAndGlyphs">Anti-GpIIbIIIa</text>
<text x="127.3" y="765.2" font-size="12.4" text-anchor="middle" font-weight="bold">+</text>
<text x="182.1" y="765.2" font-size="12.4" text-anchor="middle" font-weight="bold">+</text>
<text x="244.7" y="765.2" font-size="12.4" text-anchor="middle" font-weight="bold">+</text>
<text x="307.3" y="765.2" font-size="12.4" text-anchor="middle" font-weight="bold">+</text>
<text x="374.4" y="765.2" font-size="12.4" text-anchor="middle" font-weight="bold">+</text>
<text x="127.3" y="784.0" font-size="12.4" text-anchor="middle" font-weight="bold">-</text>
<text x="182.1" y="784.0" font-size="12.4" text-anchor="middle" font-weight="bold">+</text>
<text x="244.7" y="784.0" font-size="12.4" text-anchor="middle" font-weight="bold">+</text>
<text x="307.3" y="784.0" font-size="12.4" text-anchor="middle" font-weight="bold">+</text>
<text x="374.4" y="784.0" font-size="12.4" text-anchor="middle" font-weight="bold">+</text>
<text x="127.3" y="803.2" font-size="12.4" text-anchor="middle" font-weight="bold">-</text>
<text x="182.1" y="803.2" font-size="12.4" text-anchor="middle" font-weight="bold">-</text>
<text x="245.0" y="804.5" font-size="13.8" text-anchor="middle">AK2</text>
<text x="307.3" y="803.2" font-size="12.4" text-anchor="middle" font-weight="bold">+</text>
<text x="374.7" y="804.5" font-size="13.8" text-anchor="middle">AK2</text>
<text x="127.3" y="820.7" font-size="12.4" text-anchor="middle" font-weight="bold">-</text>
<text x="182.1" y="820.7" font-size="12.4" text-anchor="middle" font-weight="bold">-</text>
<text x="244.7" y="820.7" font-size="12.4" text-anchor="middle" font-weight="bold">-</text>
<text x="307.6" y="820.4" font-size="13.8" text-anchor="middle">HIP8</text>
<text x="374.7" y="820.4" font-size="13.8" text-anchor="middle">HIP8</text>
<path d="M177.0 932.7C189.9 929.7 228.7 918.7 254.6 914.6C280.5 910.5 319.6 909.1 332.6 908.0" stroke="#000" stroke-width="1.25" stroke-dasharray="1.2 1.2" fill="none"/>
<path d="M177.0 966.7C189.9 963.4 228.7 952.8 254.6 946.6C280.5 940.5 319.6 932.8 332.6 930.0" stroke="#000" stroke-width="1.25" stroke-dasharray="1.2 1.2" fill="none"/>
<path d="M177.0 925.8L183.5 937.8H170.5Z" fill="#000"/>
<path d="M254.6 907.6L261.1 919.6H248.1Z" fill="#000"/>
<path d="M332.6 901.1L339.1 913.1H326.1Z" fill="#000"/>
<path d="M177.0 975.4V958.0M173.5 958.0h7M173.5 975.4h7" stroke="#000" stroke-width="1.2" fill="none"/>
<path d="M177.0 960.7L183.0 966.7L177.0 972.7L171.0 966.7Z" fill="#000"/>
<path d="M254.6 959.8V933.5M251.1 933.5h7M251.1 959.8h7" stroke="#000" stroke-width="1.2" fill="none"/>
<path d="M254.6 940.6L260.6 946.6L254.6 952.6L248.6 946.6Z" fill="#000"/>
<path d="M332.6 941.4V918.7M329.1 918.7h7M329.1 941.4h7" stroke="#000" stroke-width="1.2" fill="none"/>
<path d="M332.6 924.0L338.6 930.0L332.6 936.0L326.6 930.0Z" fill="#000"/>
<path d="M99.3 847.7V1003H411.9" stroke="#000" stroke-width="2" fill="none"/>
<text x="85.3" y="1008.4" font-size="13.4" text-anchor="end">0</text>
<text x="85.3" y="969.8" font-size="13.4" text-anchor="end">10</text>
<text x="85.3" y="931.2" font-size="13.4" text-anchor="end">20</text>
<text x="85.3" y="892.6" font-size="13.4" text-anchor="end">30</text>
<text x="85.3" y="854.0" font-size="13.4" text-anchor="end">40</text>
<text x="99.9" y="1030" font-size="13.4" text-anchor="middle">0</text>
<text x="177.6" y="1030" font-size="13.4" text-anchor="middle">2.5</text>
<text x="255.2" y="1030" font-size="13.4" text-anchor="middle">5</text>
<text x="333.2" y="1030" font-size="13.4" text-anchor="middle">7.5</text>
<text x="411.6" y="1030" font-size="13.4" text-anchor="middle">10</text>
<path d="M99.3 1003.0h-5M99.3 964.4h-5M99.3 925.8h-5M99.3 887.2h-5M99.3 848.6h-5M99.3 1003v5M177.0 1003v5M254.6 1003v5M332.6 1003v5M411.0 1003v5" stroke="#000" stroke-width="1.6" fill="none"/>
<text x="54.9" y="1031.2" font-size="13.6" textLength="82.6" lengthAdjust="spacingAndGlyphs" transform="rotate(-90 54.9 1031.2)" stroke="#000" stroke-width=".12">Platelet with</text>
<text x="54.9" y="946.6" font-size="13.6" textLength="62.3" lengthAdjust="spacingAndGlyphs" transform="rotate(-90 54.9 946.6)" stroke="#000" stroke-width=".12">pVWF-488</text>
<text x="54.9" y="881.3" font-size="13.6" textLength="28.6" lengthAdjust="spacingAndGlyphs" transform="rotate(-90 54.9 881.3)" stroke="#000" stroke-width=".12">(%)</text>
<text x="7.3" y="870.8" font-size="33" font-weight="bold" textLength="23.4" lengthAdjust="spacingAndGlyphs">D</text>
<text x="195.3" y="1049" font-size="14" textLength="121.4" lengthAdjust="spacingAndGlyphs">pVWF-488 (&#181;g/mL)</text>
<path d="M119.5 867.8H156.5" stroke="#000" stroke-width="1.25" stroke-dasharray="1.2 1.2"/>
<path d="M119.5 889.2H156.5" stroke="#000" stroke-width="1.25" stroke-dasharray="1.2 1.2"/>
<path d="M138.6 863.1L143.9 871.3H133.3Z" fill="#000"/>
<path d="M138.6 885.0L143.9 889.0L138.6 893.0L133.3 889.0Z" fill="#000"/>
<text x="162.8" y="872.2" font-size="14.2" textLength="200.2" lengthAdjust="spacingAndGlyphs">pVWF-488 + pVWF (10 &#181;g/mL)</text>
<text x="162.8" y="893.8" font-size="14.2" textLength="106.4" lengthAdjust="spacingAndGlyphs">pVWF-488 alone</text>
<path d="M175.8 1148.0C188.9 1142.9 228.1 1125.6 254.3 1117.6C280.5 1109.6 319.7 1102.8 332.8 1099.9" stroke="#000" stroke-width="1.25" stroke-dasharray="1.2 1.2" fill="none"/>
<path d="M175.8 1198.7C188.9 1197.2 228.1 1192.8 254.3 1189.9C280.5 1186.9 319.7 1182.5 332.8 1181.0" stroke="#000" stroke-width="1.25" stroke-dasharray="1.2 1.2" fill="none"/>
<path d="M175.8 1142.7L181.2 1152.8H170.4Z" fill="#fff" stroke="#000" stroke-width="2.2" stroke-linejoin="miter"/>
<path d="M176.1 1156.6V1139.3M172.6 1139.3h7M172.6 1156.6h7" stroke="#000" stroke-width="1.1" fill="none"/>
<path d="M254.3 1112.4L259.7 1122.5H248.9Z" fill="#fff" stroke="#000" stroke-width="2.2" stroke-linejoin="miter"/>
<path d="M254.6 1143.1V1092.0M251.1 1092.0h7M251.1 1143.1h7" stroke="#000" stroke-width="1.1" fill="none"/>
<path d="M332.8 1094.7L338.2 1104.8H327.4Z" fill="#fff" stroke="#000" stroke-width="2.2" stroke-linejoin="miter"/>
<path d="M333.1 1106.4V1093.4M329.6 1093.4h7M329.6 1106.4h7" stroke="#000" stroke-width="1.1" fill="none"/>
<path d="M175.8 1193.2L181.6 1198.7L175.8 1204.3L170.1 1198.7Z" fill="#fff" stroke="#000" stroke-width="2.2"/>
<path d="M176.1 1201.4V1196.0M174.1 1196.0h4M174.1 1201.4h4" stroke="#000" stroke-width="1.1" fill="none"/>
<path d="M254.3 1184.3L260.1 1189.9L254.3 1195.4L248.6 1189.9Z" fill="#fff" stroke="#000" stroke-width="2.2"/>
<path d="M254.6 1192.9V1186.8M252.6 1186.8h4M252.6 1192.9h4" stroke="#000" stroke-width="1.1" fill="none"/>
<path d="M332.8 1175.5L338.6 1181.0L332.8 1186.6L327.1 1181.0Z" fill="#fff" stroke="#000" stroke-width="2.2"/>
<path d="M333.1 1186.0V1176.0M331.1 1176.0h4M331.1 1186.0h4" stroke="#000" stroke-width="1.1" fill="none"/>
<path d="M97.3 1069.0V1223.7H412.4" stroke="#000" stroke-width="2" fill="none"/>
<text x="83.3" y="1229.2" font-size="13.4" text-anchor="end">0</text>
<text x="83.3" y="1190.8" font-size="13.4" text-anchor="end">10</text>
<text x="83.3" y="1152.3" font-size="13.4" text-anchor="end">20</text>
<text x="83.3" y="1113.9" font-size="13.4" text-anchor="end">30</text>
<text x="83.3" y="1075.4" font-size="13.4" text-anchor="end">40</text>
<text x="97.9" y="1252" font-size="13.4" text-anchor="middle">0</text>
<text x="176.4" y="1252" font-size="13.4" text-anchor="middle">2.5</text>
<text x="254.9" y="1252" font-size="13.4" text-anchor="middle">5</text>
<text x="333.4" y="1252" font-size="13.4" text-anchor="middle">7.5</text>
<text x="412.1" y="1252" font-size="13.4" text-anchor="middle">10</text>
<path d="M97.3 1223.7h-5M97.3 1185.2h-5M97.3 1146.8h-5M97.3 1108.4h-5M97.3 1069.9h-5M97.3 1223.7v5M175.8 1223.7v5M254.3 1223.7v5M332.8 1223.7v5M411.5 1223.7v5" stroke="#000" stroke-width="1.6" fill="none"/>
<text x="55.2" y="1217.4" font-size="14.2" textLength="140.4" lengthAdjust="spacing" word-spacing="1" transform="rotate(-90 55.2 1217.4)">Platelet activation (%)</text>
<text x="12.7" y="1087.6" font-size="33" font-weight="bold" textLength="20.3" lengthAdjust="spacingAndGlyphs">E</text>
<text x="190.5" y="1269" font-size="14" textLength="121.6" lengthAdjust="spacingAndGlyphs">pVWF-488 (&#181;g/mL)</text>
<path d="M104 1069.9H142.5" stroke="#000" stroke-width="1.25" stroke-dasharray="1.2 1.2"/>
<path d="M104 1090.2H142.5" stroke="#000" stroke-width="1.25" stroke-dasharray="1.2 1.2"/>
<path d="M123.4 1066.3L127.4 1073.0H119.4Z" fill="#fff" stroke="#000" stroke-width="2.2" stroke-linejoin="miter"/>
<path d="M123.4 1086.5L128.3 1090.2L123.4 1094.0L118.5 1090.2Z" fill="#fff" stroke="#000" stroke-width="2.2"/>
<text x="147.1" y="1074.6" font-size="14.2" textLength="199" lengthAdjust="spacingAndGlyphs">pVWF-488 + pVWF (10 &#181;g/mL)</text>
<text x="147.1" y="1095.6" font-size="14.2" textLength="105.8" lengthAdjust="spacingAndGlyphs">pVWF-488 alone</text>
<text x="260" y="1106.5" font-size="17" text-anchor="middle" font-weight="bold">*</text>
<text x="333.5" y="1093.2" font-size="17" text-anchor="middle" font-weight="bold">*</text>
</svg>
</body></html>
